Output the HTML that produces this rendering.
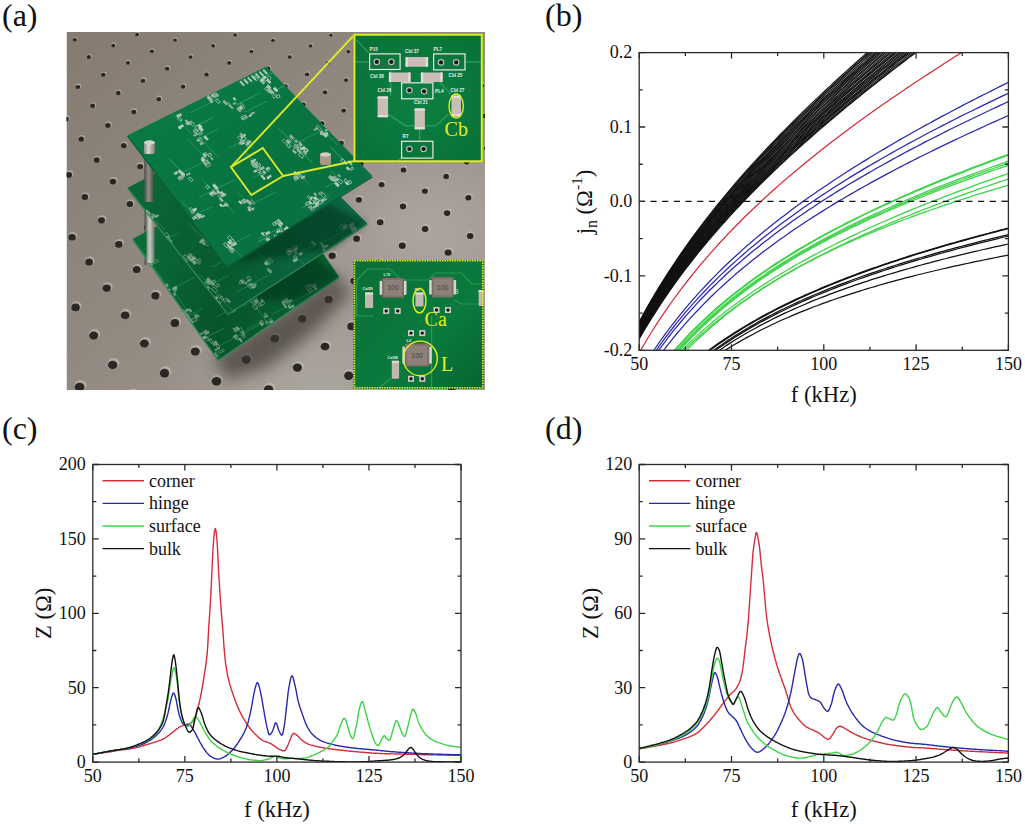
<!DOCTYPE html>
<html><head><meta charset="utf-8"><title>Figure</title>
<style>html,body{margin:0;padding:0;background:#fff;width:1025px;height:824px;overflow:hidden}svg{display:block}</style>
</head><body>
<svg width="1025" height="824" viewBox="0 0 1025 824" font-family='"Liberation Serif", serif' fill="#111">
<defs>
<clipPath id="clipb"><rect x="639.2" y="52.6" width="369.19999999999993" height="297.7"/></clipPath>
<clipPath id="clipc"><rect x="92.8" y="464.5" width="368.2" height="297.6"/></clipPath>
<clipPath id="clipd"><rect x="639.2" y="464.5" width="369.19999999999993" height="297.6"/></clipPath>
</defs>
<rect width="1025" height="824" fill="#fff"/>
<defs>
<clipPath id="clipa"><rect x="66.5" y="32" width="418.5" height="358"/></clipPath>
<filter id="blur3" x="-20%" y="-20%" width="140%" height="140%"><feGaussianBlur stdDeviation="3"/></filter>
<filter id="blur8" x="-30%" y="-30%" width="160%" height="160%"><feGaussianBlur stdDeviation="8"/></filter>
<filter id="blur1" x="-20%" y="-20%" width="140%" height="140%"><feGaussianBlur stdDeviation="0.6"/></filter>
<linearGradient id="tbl" x1="0" y1="0" x2="1" y2="1"><stop offset="0" stop-color="#857b71"/><stop offset="0.45" stop-color="#918980"/><stop offset="1" stop-color="#a59d96"/></linearGradient>
<radialGradient id="tblhi" cx="0.6" cy="1.0" r="0.38"><stop offset="0" stop-color="#b0aca6" stop-opacity="0.7"/><stop offset="1" stop-color="#b0aca6" stop-opacity="0"/></radialGradient><radialGradient id="tblhi2" cx="0.85" cy="0.55" r="0.35"><stop offset="0" stop-color="#b5aca7" stop-opacity="0.7"/><stop offset="1" stop-color="#b5aca7" stop-opacity="0"/></radialGradient>
<linearGradient id="b1" x1="0" y1="0" x2="1" y2="1"><stop offset="0" stop-color="#0a7c44"/><stop offset="0.6" stop-color="#08723f"/><stop offset="1" stop-color="#0a704c"/></linearGradient>
<linearGradient id="b2" x1="0" y1="0" x2="1" y2="0.3"><stop offset="0" stop-color="#0b6b37"/><stop offset="0.6" stop-color="#075a2d"/><stop offset="1" stop-color="#0b6a48"/></linearGradient>
<linearGradient id="b3" x1="0" y1="0" x2="1" y2="0.3"><stop offset="0" stop-color="#0c733b"/><stop offset="0.6" stop-color="#06552a"/><stop offset="1" stop-color="#096033"/></linearGradient>
<linearGradient id="postd" x1="0" y1="0" x2="1" y2="0"><stop offset="0" stop-color="#4f524b"/><stop offset="0.45" stop-color="#8d8f86"/><stop offset="1" stop-color="#4a4c46"/></linearGradient><linearGradient id="post" x1="0" y1="0" x2="1" y2="0"><stop offset="0" stop-color="#8d8c86"/><stop offset="0.4" stop-color="#d8d6cf"/><stop offset="1" stop-color="#7a7872"/></linearGradient>
</defs>
<g clip-path="url(#clipa)">
<rect x="66.5" y="32" width="418.5" height="358" fill="url(#tbl)"/>
<rect x="66.5" y="32" width="418.5" height="358" fill="url(#tblhi)"/>
<rect x="66.5" y="32" width="418.5" height="358" fill="url(#tblhi2)"/>
<g><ellipse cx="61.9" cy="355.0" rx="5.8" ry="5.0" fill="#c4bfb7" opacity="0.6"/><ellipse cx="61.0" cy="356.7" rx="4.7" ry="4.2" fill="#2a2623"/><ellipse cx="80.6" cy="385.3" rx="6.1" ry="5.3" fill="#c4bfb7" opacity="0.6"/><ellipse cx="79.6" cy="387.1" rx="4.9" ry="4.4" fill="#2a2623"/><ellipse cx="76.4" cy="305.9" rx="5.3" ry="4.6" fill="#c4bfb7" opacity="0.6"/><ellipse cx="75.6" cy="307.4" rx="4.2" ry="3.8" fill="#2a2623"/><ellipse cx="94.6" cy="333.9" rx="5.6" ry="4.8" fill="#c4bfb7" opacity="0.6"/><ellipse cx="93.7" cy="335.5" rx="4.5" ry="4.0" fill="#2a2623"/><ellipse cx="113.6" cy="363.2" rx="5.9" ry="5.1" fill="#c4bfb7" opacity="0.6"/><ellipse cx="112.7" cy="364.9" rx="4.7" ry="4.2" fill="#2a2623"/><ellipse cx="133.5" cy="393.7" rx="6.2" ry="5.3" fill="#c4bfb7" opacity="0.6"/><ellipse cx="132.5" cy="395.5" rx="4.9" ry="4.4" fill="#2a2623"/><ellipse cx="72.8" cy="235.8" rx="4.6" ry="3.9" fill="#c4bfb7" opacity="0.6"/><ellipse cx="72.1" cy="237.2" rx="3.7" ry="3.3" fill="#2a2623"/><ellipse cx="89.8" cy="260.7" rx="4.8" ry="4.2" fill="#c4bfb7" opacity="0.6"/><ellipse cx="89.1" cy="262.1" rx="3.8" ry="3.5" fill="#2a2623"/><ellipse cx="107.6" cy="286.6" rx="5.1" ry="4.4" fill="#c4bfb7" opacity="0.6"/><ellipse cx="106.7" cy="288.1" rx="4.1" ry="3.6" fill="#2a2623"/><ellipse cx="126.0" cy="313.7" rx="5.3" ry="4.6" fill="#c4bfb7" opacity="0.6"/><ellipse cx="125.2" cy="315.2" rx="4.3" ry="3.8" fill="#2a2623"/><ellipse cx="145.3" cy="341.9" rx="5.6" ry="4.9" fill="#c4bfb7" opacity="0.6"/><ellipse cx="144.4" cy="343.5" rx="4.5" ry="4.0" fill="#2a2623"/><ellipse cx="165.5" cy="371.4" rx="5.9" ry="5.1" fill="#c4bfb7" opacity="0.6"/><ellipse cx="164.5" cy="373.1" rx="4.7" ry="4.3" fill="#2a2623"/><ellipse cx="69.5" cy="173.7" rx="3.9" ry="3.4" fill="#c4bfb7" opacity="0.6"/><ellipse cx="68.9" cy="174.9" rx="3.1" ry="2.8" fill="#2a2623"/><ellipse cx="85.6" cy="196.0" rx="4.1" ry="3.6" fill="#c4bfb7" opacity="0.6"/><ellipse cx="84.9" cy="197.1" rx="3.3" ry="3.0" fill="#2a2623"/><ellipse cx="102.2" cy="219.0" rx="4.4" ry="3.8" fill="#c4bfb7" opacity="0.6"/><ellipse cx="101.5" cy="220.3" rx="3.5" ry="3.1" fill="#2a2623"/><ellipse cx="119.5" cy="243.0" rx="4.6" ry="4.0" fill="#c4bfb7" opacity="0.6"/><ellipse cx="118.8" cy="244.4" rx="3.7" ry="3.3" fill="#2a2623"/><ellipse cx="137.5" cy="268.1" rx="4.8" ry="4.2" fill="#c4bfb7" opacity="0.6"/><ellipse cx="136.7" cy="269.5" rx="3.9" ry="3.5" fill="#2a2623"/><ellipse cx="156.2" cy="294.2" rx="5.1" ry="4.4" fill="#c4bfb7" opacity="0.6"/><ellipse cx="155.4" cy="295.7" rx="4.1" ry="3.7" fill="#2a2623"/><ellipse cx="175.8" cy="321.5" rx="5.4" ry="4.6" fill="#c4bfb7" opacity="0.6"/><ellipse cx="174.9" cy="323.0" rx="4.3" ry="3.9" fill="#2a2623"/><ellipse cx="196.2" cy="349.9" rx="5.7" ry="4.9" fill="#c4bfb7" opacity="0.6"/><ellipse cx="195.3" cy="351.5" rx="4.5" ry="4.1" fill="#2a2623"/><ellipse cx="217.4" cy="379.6" rx="5.9" ry="5.1" fill="#c4bfb7" opacity="0.6"/><ellipse cx="216.5" cy="381.3" rx="4.8" ry="4.3" fill="#2a2623"/><ellipse cx="66.6" cy="118.1" rx="3.3" ry="2.9" fill="#c4bfb7" opacity="0.6"/><ellipse cx="66.1" cy="119.1" rx="2.7" ry="2.4" fill="#2a2623"/><ellipse cx="81.7" cy="138.1" rx="3.5" ry="3.0" fill="#c4bfb7" opacity="0.6"/><ellipse cx="81.2" cy="139.1" rx="2.8" ry="2.5" fill="#2a2623"/><ellipse cx="97.4" cy="158.9" rx="3.7" ry="3.2" fill="#c4bfb7" opacity="0.6"/><ellipse cx="96.8" cy="160.0" rx="3.0" ry="2.7" fill="#2a2623"/><ellipse cx="113.7" cy="180.5" rx="3.9" ry="3.4" fill="#c4bfb7" opacity="0.6"/><ellipse cx="113.0" cy="181.6" rx="3.2" ry="2.8" fill="#2a2623"/><ellipse cx="130.6" cy="202.8" rx="4.2" ry="3.6" fill="#c4bfb7" opacity="0.6"/><ellipse cx="129.9" cy="204.0" rx="3.3" ry="3.0" fill="#2a2623"/><ellipse cx="148.1" cy="226.1" rx="4.4" ry="3.8" fill="#c4bfb7" opacity="0.6"/><ellipse cx="147.4" cy="227.3" rx="3.5" ry="3.2" fill="#2a2623"/><ellipse cx="166.3" cy="250.2" rx="4.6" ry="4.0" fill="#c4bfb7" opacity="0.6"/><ellipse cx="165.6" cy="251.6" rx="3.7" ry="3.3" fill="#2a2623"/><ellipse cx="185.3" cy="275.5" rx="4.9" ry="4.2" fill="#c4bfb7" opacity="0.6"/><ellipse cx="184.5" cy="276.9" rx="3.9" ry="3.5" fill="#2a2623"/><ellipse cx="205.1" cy="301.9" rx="5.1" ry="4.4" fill="#c4bfb7" opacity="0.6"/><ellipse cx="204.2" cy="303.3" rx="4.1" ry="3.7" fill="#2a2623"/><ellipse cx="225.7" cy="329.3" rx="5.4" ry="4.7" fill="#c4bfb7" opacity="0.6"/><ellipse cx="224.8" cy="330.9" rx="4.3" ry="3.9" fill="#2a2623"/><ellipse cx="247.2" cy="357.9" rx="5.7" ry="4.9" fill="#c4bfb7" opacity="0.6"/><ellipse cx="246.2" cy="359.6" rx="4.6" ry="4.1" fill="#2a2623"/><ellipse cx="269.6" cy="387.8" rx="6.0" ry="5.2" fill="#c4bfb7" opacity="0.6"/><ellipse cx="268.6" cy="389.6" rx="4.8" ry="4.3" fill="#2a2623"/><ellipse cx="64.0" cy="68.0" rx="2.8" ry="2.4" fill="#c4bfb7" opacity="0.6"/><ellipse cx="63.6" cy="68.8" rx="2.2" ry="2.0" fill="#2a2623"/><ellipse cx="78.3" cy="86.1" rx="3.0" ry="2.6" fill="#c4bfb7" opacity="0.6"/><ellipse cx="77.8" cy="87.0" rx="2.4" ry="2.1" fill="#2a2623"/><ellipse cx="93.1" cy="104.9" rx="3.2" ry="2.7" fill="#c4bfb7" opacity="0.6"/><ellipse cx="92.6" cy="105.8" rx="2.5" ry="2.3" fill="#2a2623"/><ellipse cx="108.5" cy="124.4" rx="3.4" ry="2.9" fill="#c4bfb7" opacity="0.6"/><ellipse cx="107.9" cy="125.4" rx="2.7" ry="2.4" fill="#2a2623"/><ellipse cx="124.3" cy="144.6" rx="3.5" ry="3.1" fill="#c4bfb7" opacity="0.6"/><ellipse cx="123.8" cy="145.6" rx="2.8" ry="2.6" fill="#2a2623"/><ellipse cx="140.8" cy="165.5" rx="3.8" ry="3.2" fill="#c4bfb7" opacity="0.6"/><ellipse cx="140.2" cy="166.6" rx="3.0" ry="2.7" fill="#2a2623"/><ellipse cx="157.9" cy="187.2" rx="4.0" ry="3.4" fill="#c4bfb7" opacity="0.6"/><ellipse cx="157.3" cy="188.3" rx="3.2" ry="2.9" fill="#2a2623"/><ellipse cx="175.7" cy="209.7" rx="4.2" ry="3.6" fill="#c4bfb7" opacity="0.6"/><ellipse cx="175.0" cy="210.9" rx="3.4" ry="3.0" fill="#2a2623"/><ellipse cx="194.1" cy="233.1" rx="4.4" ry="3.8" fill="#c4bfb7" opacity="0.6"/><ellipse cx="193.4" cy="234.4" rx="3.5" ry="3.2" fill="#2a2623"/><ellipse cx="213.3" cy="257.5" rx="4.7" ry="4.0" fill="#c4bfb7" opacity="0.6"/><ellipse cx="212.5" cy="258.8" rx="3.7" ry="3.4" fill="#2a2623"/><ellipse cx="233.2" cy="283.0" rx="4.9" ry="4.2" fill="#c4bfb7" opacity="0.6"/><ellipse cx="232.5" cy="284.4" rx="3.9" ry="3.5" fill="#2a2623"/><ellipse cx="254.0" cy="309.5" rx="5.2" ry="4.5" fill="#c4bfb7" opacity="0.6"/><ellipse cx="253.2" cy="311.0" rx="4.1" ry="3.7" fill="#2a2623"/><ellipse cx="275.7" cy="337.2" rx="5.4" ry="4.7" fill="#c4bfb7" opacity="0.6"/><ellipse cx="274.8" cy="338.7" rx="4.4" ry="3.9" fill="#2a2623"/><ellipse cx="298.3" cy="366.0" rx="5.7" ry="5.0" fill="#c4bfb7" opacity="0.6"/><ellipse cx="297.4" cy="367.7" rx="4.6" ry="4.1" fill="#2a2623"/><ellipse cx="321.9" cy="396.1" rx="6.0" ry="5.2" fill="#c4bfb7" opacity="0.6"/><ellipse cx="320.9" cy="397.9" rx="4.8" ry="4.3" fill="#2a2623"/><ellipse cx="75.2" cy="39.1" rx="2.5" ry="2.1" fill="#c4bfb7" opacity="0.6"/><ellipse cx="74.8" cy="39.8" rx="2.0" ry="1.8" fill="#2a2623"/><ellipse cx="89.2" cy="56.2" rx="2.6" ry="2.3" fill="#c4bfb7" opacity="0.6"/><ellipse cx="88.8" cy="57.0" rx="2.1" ry="1.9" fill="#2a2623"/><ellipse cx="103.8" cy="73.9" rx="2.8" ry="2.4" fill="#c4bfb7" opacity="0.6"/><ellipse cx="103.3" cy="74.7" rx="2.3" ry="2.0" fill="#2a2623"/><ellipse cx="118.8" cy="92.2" rx="3.0" ry="2.6" fill="#c4bfb7" opacity="0.6"/><ellipse cx="118.3" cy="93.0" rx="2.4" ry="2.2" fill="#2a2623"/><ellipse cx="134.3" cy="111.1" rx="3.2" ry="2.8" fill="#c4bfb7" opacity="0.6"/><ellipse cx="133.8" cy="112.0" rx="2.5" ry="2.3" fill="#2a2623"/><ellipse cx="150.4" cy="130.7" rx="3.4" ry="2.9" fill="#c4bfb7" opacity="0.6"/><ellipse cx="149.8" cy="131.7" rx="2.7" ry="2.4" fill="#2a2623"/><ellipse cx="167.1" cy="151.0" rx="3.6" ry="3.1" fill="#c4bfb7" opacity="0.6"/><ellipse cx="166.5" cy="152.0" rx="2.9" ry="2.6" fill="#2a2623"/><ellipse cx="184.3" cy="172.1" rx="3.8" ry="3.3" fill="#c4bfb7" opacity="0.6"/><ellipse cx="183.7" cy="173.2" rx="3.0" ry="2.7" fill="#2a2623"/><ellipse cx="202.3" cy="193.9" rx="4.0" ry="3.5" fill="#c4bfb7" opacity="0.6"/><ellipse cx="201.6" cy="195.1" rx="3.2" ry="2.9" fill="#2a2623"/><ellipse cx="220.9" cy="216.6" rx="4.2" ry="3.6" fill="#c4bfb7" opacity="0.6"/><ellipse cx="220.2" cy="217.8" rx="3.4" ry="3.0" fill="#2a2623"/><ellipse cx="240.3" cy="240.2" rx="4.5" ry="3.8" fill="#c4bfb7" opacity="0.6"/><ellipse cx="239.5" cy="241.5" rx="3.6" ry="3.2" fill="#2a2623"/><ellipse cx="260.4" cy="264.8" rx="4.7" ry="4.1" fill="#c4bfb7" opacity="0.6"/><ellipse cx="259.6" cy="266.1" rx="3.8" ry="3.4" fill="#2a2623"/><ellipse cx="281.3" cy="290.4" rx="4.9" ry="4.3" fill="#c4bfb7" opacity="0.6"/><ellipse cx="280.5" cy="291.9" rx="4.0" ry="3.6" fill="#2a2623"/><ellipse cx="303.1" cy="317.2" rx="5.2" ry="4.5" fill="#c4bfb7" opacity="0.6"/><ellipse cx="302.3" cy="318.7" rx="4.2" ry="3.7" fill="#2a2623"/><ellipse cx="325.9" cy="345.0" rx="5.5" ry="4.7" fill="#c4bfb7" opacity="0.6"/><ellipse cx="325.0" cy="346.6" rx="4.4" ry="3.9" fill="#2a2623"/><ellipse cx="349.6" cy="374.1" rx="5.8" ry="5.0" fill="#c4bfb7" opacity="0.6"/><ellipse cx="348.7" cy="375.7" rx="4.6" ry="4.2" fill="#2a2623"/><ellipse cx="99.5" cy="28.2" rx="2.3" ry="2.0" fill="#c4bfb7" opacity="0.6"/><ellipse cx="99.1" cy="28.8" rx="1.9" ry="1.7" fill="#2a2623"/><ellipse cx="113.7" cy="44.8" rx="2.5" ry="2.2" fill="#c4bfb7" opacity="0.6"/><ellipse cx="113.3" cy="45.6" rx="2.0" ry="1.8" fill="#2a2623"/><ellipse cx="128.4" cy="62.0" rx="2.7" ry="2.3" fill="#c4bfb7" opacity="0.6"/><ellipse cx="128.0" cy="62.8" rx="2.1" ry="1.9" fill="#2a2623"/><ellipse cx="143.6" cy="79.8" rx="2.8" ry="2.5" fill="#c4bfb7" opacity="0.6"/><ellipse cx="143.1" cy="80.7" rx="2.3" ry="2.0" fill="#2a2623"/><ellipse cx="159.3" cy="98.2" rx="3.0" ry="2.6" fill="#c4bfb7" opacity="0.6"/><ellipse cx="158.8" cy="99.1" rx="2.4" ry="2.2" fill="#2a2623"/><ellipse cx="175.6" cy="117.3" rx="3.2" ry="2.8" fill="#c4bfb7" opacity="0.6"/><ellipse cx="175.1" cy="118.2" rx="2.6" ry="2.3" fill="#2a2623"/><ellipse cx="192.4" cy="137.0" rx="3.4" ry="2.9" fill="#c4bfb7" opacity="0.6"/><ellipse cx="191.9" cy="138.0" rx="2.7" ry="2.4" fill="#2a2623"/><ellipse cx="209.9" cy="157.5" rx="3.6" ry="3.1" fill="#c4bfb7" opacity="0.6"/><ellipse cx="209.3" cy="158.5" rx="2.9" ry="2.6" fill="#2a2623"/><ellipse cx="228.0" cy="178.7" rx="3.8" ry="3.3" fill="#c4bfb7" opacity="0.6"/><ellipse cx="227.4" cy="179.8" rx="3.0" ry="2.7" fill="#2a2623"/><ellipse cx="246.7" cy="200.7" rx="4.0" ry="3.5" fill="#c4bfb7" opacity="0.6"/><ellipse cx="246.1" cy="201.9" rx="3.2" ry="2.9" fill="#2a2623"/><ellipse cx="266.3" cy="223.5" rx="4.2" ry="3.7" fill="#c4bfb7" opacity="0.6"/><ellipse cx="265.6" cy="224.8" rx="3.4" ry="3.1" fill="#2a2623"/><ellipse cx="286.5" cy="247.3" rx="4.5" ry="3.9" fill="#c4bfb7" opacity="0.6"/><ellipse cx="285.8" cy="248.6" rx="3.6" ry="3.2" fill="#2a2623"/><ellipse cx="307.6" cy="272.1" rx="4.7" ry="4.1" fill="#c4bfb7" opacity="0.6"/><ellipse cx="306.8" cy="273.5" rx="3.8" ry="3.4" fill="#2a2623"/><ellipse cx="329.5" cy="297.9" rx="5.0" ry="4.3" fill="#c4bfb7" opacity="0.6"/><ellipse cx="328.7" cy="299.4" rx="4.0" ry="3.6" fill="#2a2623"/><ellipse cx="352.4" cy="324.9" rx="5.2" ry="4.5" fill="#c4bfb7" opacity="0.6"/><ellipse cx="351.5" cy="326.4" rx="4.2" ry="3.8" fill="#2a2623"/><ellipse cx="376.2" cy="352.9" rx="5.5" ry="4.8" fill="#c4bfb7" opacity="0.6"/><ellipse cx="375.3" cy="354.5" rx="4.4" ry="4.0" fill="#2a2623"/><ellipse cx="401.0" cy="382.2" rx="5.8" ry="5.0" fill="#c4bfb7" opacity="0.6"/><ellipse cx="400.1" cy="383.9" rx="4.6" ry="4.2" fill="#2a2623"/><ellipse cx="137.5" cy="33.8" rx="2.4" ry="2.0" fill="#c4bfb7" opacity="0.6"/><ellipse cx="137.1" cy="34.5" rx="1.9" ry="1.7" fill="#2a2623"/><ellipse cx="152.3" cy="50.6" rx="2.5" ry="2.2" fill="#c4bfb7" opacity="0.6"/><ellipse cx="151.9" cy="51.3" rx="2.0" ry="1.8" fill="#2a2623"/><ellipse cx="167.7" cy="67.9" rx="2.7" ry="2.3" fill="#c4bfb7" opacity="0.6"/><ellipse cx="167.2" cy="68.7" rx="2.2" ry="1.9" fill="#2a2623"/><ellipse cx="183.5" cy="85.8" rx="2.9" ry="2.5" fill="#c4bfb7" opacity="0.6"/><ellipse cx="183.1" cy="86.6" rx="2.3" ry="2.1" fill="#2a2623"/><ellipse cx="200.0" cy="104.3" rx="3.0" ry="2.6" fill="#c4bfb7" opacity="0.6"/><ellipse cx="199.5" cy="105.2" rx="2.4" ry="2.2" fill="#2a2623"/><ellipse cx="216.9" cy="123.5" rx="3.2" ry="2.8" fill="#c4bfb7" opacity="0.6"/><ellipse cx="216.4" cy="124.4" rx="2.6" ry="2.3" fill="#2a2623"/><ellipse cx="234.5" cy="143.4" rx="3.4" ry="3.0" fill="#c4bfb7" opacity="0.6"/><ellipse cx="234.0" cy="144.4" rx="2.7" ry="2.5" fill="#2a2623"/><ellipse cx="252.8" cy="164.0" rx="3.6" ry="3.1" fill="#c4bfb7" opacity="0.6"/><ellipse cx="252.2" cy="165.0" rx="2.9" ry="2.6" fill="#2a2623"/><ellipse cx="271.7" cy="185.3" rx="3.8" ry="3.3" fill="#c4bfb7" opacity="0.6"/><ellipse cx="271.1" cy="186.4" rx="3.1" ry="2.8" fill="#2a2623"/><ellipse cx="291.3" cy="207.5" rx="4.1" ry="3.5" fill="#c4bfb7" opacity="0.6"/><ellipse cx="290.7" cy="208.6" rx="3.2" ry="2.9" fill="#2a2623"/><ellipse cx="311.7" cy="230.5" rx="4.3" ry="3.7" fill="#c4bfb7" opacity="0.6"/><ellipse cx="311.0" cy="231.7" rx="3.4" ry="3.1" fill="#2a2623"/><ellipse cx="332.9" cy="254.4" rx="4.5" ry="3.9" fill="#c4bfb7" opacity="0.6"/><ellipse cx="332.2" cy="255.7" rx="3.6" ry="3.3" fill="#2a2623"/><ellipse cx="354.9" cy="279.4" rx="4.8" ry="4.1" fill="#c4bfb7" opacity="0.6"/><ellipse cx="354.2" cy="280.8" rx="3.8" ry="3.4" fill="#2a2623"/><ellipse cx="377.9" cy="305.4" rx="5.0" ry="4.3" fill="#c4bfb7" opacity="0.6"/><ellipse cx="377.1" cy="306.9" rx="4.0" ry="3.6" fill="#2a2623"/><ellipse cx="401.8" cy="332.6" rx="5.3" ry="4.6" fill="#c4bfb7" opacity="0.6"/><ellipse cx="400.9" cy="334.1" rx="4.2" ry="3.8" fill="#2a2623"/><ellipse cx="426.7" cy="360.8" rx="5.6" ry="4.8" fill="#c4bfb7" opacity="0.6"/><ellipse cx="425.8" cy="362.4" rx="4.4" ry="4.0" fill="#2a2623"/><ellipse cx="452.6" cy="390.3" rx="5.8" ry="5.1" fill="#c4bfb7" opacity="0.6"/><ellipse cx="451.7" cy="392.0" rx="4.7" ry="4.2" fill="#2a2623"/><ellipse cx="175.5" cy="39.4" rx="2.4" ry="2.1" fill="#c4bfb7" opacity="0.6"/><ellipse cx="175.1" cy="40.1" rx="1.9" ry="1.7" fill="#2a2623"/><ellipse cx="191.0" cy="56.3" rx="2.5" ry="2.2" fill="#c4bfb7" opacity="0.6"/><ellipse cx="190.6" cy="57.0" rx="2.0" ry="1.8" fill="#2a2623"/><ellipse cx="207.0" cy="73.7" rx="2.7" ry="2.3" fill="#c4bfb7" opacity="0.6"/><ellipse cx="206.6" cy="74.5" rx="2.2" ry="2.0" fill="#2a2623"/><ellipse cx="223.6" cy="91.8" rx="2.9" ry="2.5" fill="#c4bfb7" opacity="0.6"/><ellipse cx="223.1" cy="92.6" rx="2.3" ry="2.1" fill="#2a2623"/><ellipse cx="240.7" cy="110.4" rx="3.1" ry="2.7" fill="#c4bfb7" opacity="0.6"/><ellipse cx="240.2" cy="111.3" rx="2.5" ry="2.2" fill="#2a2623"/><ellipse cx="258.4" cy="129.7" rx="3.3" ry="2.8" fill="#c4bfb7" opacity="0.6"/><ellipse cx="257.9" cy="130.7" rx="2.6" ry="2.3" fill="#2a2623"/><ellipse cx="276.8" cy="149.7" rx="3.5" ry="3.0" fill="#c4bfb7" opacity="0.6"/><ellipse cx="276.2" cy="150.7" rx="2.8" ry="2.5" fill="#2a2623"/><ellipse cx="295.8" cy="170.5" rx="3.7" ry="3.2" fill="#c4bfb7" opacity="0.6"/><ellipse cx="295.2" cy="171.5" rx="2.9" ry="2.6" fill="#2a2623"/><ellipse cx="315.6" cy="192.0" rx="3.9" ry="3.3" fill="#c4bfb7" opacity="0.6"/><ellipse cx="314.9" cy="193.1" rx="3.1" ry="2.8" fill="#2a2623"/><ellipse cx="336.0" cy="214.3" rx="4.1" ry="3.5" fill="#c4bfb7" opacity="0.6"/><ellipse cx="335.4" cy="215.5" rx="3.3" ry="2.9" fill="#2a2623"/><ellipse cx="357.3" cy="237.5" rx="4.3" ry="3.7" fill="#c4bfb7" opacity="0.6"/><ellipse cx="356.6" cy="238.7" rx="3.4" ry="3.1" fill="#2a2623"/><ellipse cx="379.4" cy="261.6" rx="4.5" ry="3.9" fill="#c4bfb7" opacity="0.6"/><ellipse cx="378.7" cy="262.9" rx="3.6" ry="3.3" fill="#2a2623"/><ellipse cx="402.4" cy="286.8" rx="4.8" ry="4.1" fill="#c4bfb7" opacity="0.6"/><ellipse cx="401.6" cy="288.2" rx="3.8" ry="3.4" fill="#2a2623"/><ellipse cx="426.3" cy="313.0" rx="5.0" ry="4.4" fill="#c4bfb7" opacity="0.6"/><ellipse cx="425.5" cy="314.4" rx="4.0" ry="3.6" fill="#2a2623"/><ellipse cx="451.3" cy="340.3" rx="5.3" ry="4.6" fill="#c4bfb7" opacity="0.6"/><ellipse cx="450.4" cy="341.8" rx="4.3" ry="3.8" fill="#2a2623"/><ellipse cx="477.3" cy="368.8" rx="5.6" ry="4.8" fill="#c4bfb7" opacity="0.6"/><ellipse cx="476.4" cy="370.4" rx="4.5" ry="4.0" fill="#2a2623"/><ellipse cx="198.0" cy="28.6" rx="2.2" ry="1.9" fill="#c4bfb7" opacity="0.6"/><ellipse cx="197.6" cy="29.2" rx="1.8" ry="1.6" fill="#2a2623"/><ellipse cx="213.6" cy="45.0" rx="2.4" ry="2.1" fill="#c4bfb7" opacity="0.6"/><ellipse cx="213.2" cy="45.7" rx="1.9" ry="1.7" fill="#2a2623"/><ellipse cx="229.8" cy="62.0" rx="2.6" ry="2.2" fill="#c4bfb7" opacity="0.6"/><ellipse cx="229.3" cy="62.8" rx="2.1" ry="1.9" fill="#2a2623"/><ellipse cx="246.4" cy="79.6" rx="2.7" ry="2.4" fill="#c4bfb7" opacity="0.6"/><ellipse cx="246.0" cy="80.4" rx="2.2" ry="2.0" fill="#2a2623"/><ellipse cx="263.7" cy="97.7" rx="2.9" ry="2.5" fill="#c4bfb7" opacity="0.6"/><ellipse cx="263.2" cy="98.6" rx="2.3" ry="2.1" fill="#2a2623"/><ellipse cx="281.5" cy="116.5" rx="3.1" ry="2.7" fill="#c4bfb7" opacity="0.6"/><ellipse cx="281.0" cy="117.4" rx="2.5" ry="2.2" fill="#2a2623"/><ellipse cx="300.0" cy="136.0" rx="3.3" ry="2.8" fill="#c4bfb7" opacity="0.6"/><ellipse cx="299.5" cy="136.9" rx="2.6" ry="2.4" fill="#2a2623"/><ellipse cx="319.1" cy="156.1" rx="3.5" ry="3.0" fill="#c4bfb7" opacity="0.6"/><ellipse cx="318.6" cy="157.1" rx="2.8" ry="2.5" fill="#2a2623"/><ellipse cx="339.0" cy="177.0" rx="3.7" ry="3.2" fill="#c4bfb7" opacity="0.6"/><ellipse cx="338.4" cy="178.0" rx="2.9" ry="2.7" fill="#2a2623"/><ellipse cx="359.5" cy="198.6" rx="3.9" ry="3.4" fill="#c4bfb7" opacity="0.6"/><ellipse cx="358.9" cy="199.8" rx="3.1" ry="2.8" fill="#2a2623"/><ellipse cx="380.9" cy="221.1" rx="4.1" ry="3.6" fill="#c4bfb7" opacity="0.6"/><ellipse cx="380.2" cy="222.3" rx="3.3" ry="3.0" fill="#2a2623"/><ellipse cx="403.0" cy="244.4" rx="4.3" ry="3.8" fill="#c4bfb7" opacity="0.6"/><ellipse cx="402.3" cy="245.7" rx="3.5" ry="3.1" fill="#2a2623"/><ellipse cx="426.1" cy="268.8" rx="4.6" ry="4.0" fill="#c4bfb7" opacity="0.6"/><ellipse cx="425.3" cy="270.1" rx="3.7" ry="3.3" fill="#2a2623"/><ellipse cx="450.0" cy="294.1" rx="4.8" ry="4.2" fill="#c4bfb7" opacity="0.6"/><ellipse cx="449.2" cy="295.5" rx="3.9" ry="3.5" fill="#2a2623"/><ellipse cx="475.0" cy="320.5" rx="5.1" ry="4.4" fill="#c4bfb7" opacity="0.6"/><ellipse cx="474.1" cy="322.0" rx="4.1" ry="3.7" fill="#2a2623"/><ellipse cx="235.6" cy="34.1" rx="2.3" ry="2.0" fill="#c4bfb7" opacity="0.6"/><ellipse cx="235.2" cy="34.8" rx="1.8" ry="1.6" fill="#2a2623"/><ellipse cx="251.8" cy="50.7" rx="2.4" ry="2.1" fill="#c4bfb7" opacity="0.6"/><ellipse cx="251.4" cy="51.4" rx="1.9" ry="1.7" fill="#2a2623"/><ellipse cx="268.6" cy="67.8" rx="2.6" ry="2.2" fill="#c4bfb7" opacity="0.6"/><ellipse cx="268.2" cy="68.5" rx="2.1" ry="1.9" fill="#2a2623"/><ellipse cx="286.0" cy="85.5" rx="2.8" ry="2.4" fill="#c4bfb7" opacity="0.6"/><ellipse cx="285.5" cy="86.3" rx="2.2" ry="2.0" fill="#2a2623"/><ellipse cx="303.9" cy="103.7" rx="2.9" ry="2.5" fill="#c4bfb7" opacity="0.6"/><ellipse cx="303.4" cy="104.6" rx="2.4" ry="2.1" fill="#2a2623"/><ellipse cx="322.5" cy="122.6" rx="3.1" ry="2.7" fill="#c4bfb7" opacity="0.6"/><ellipse cx="322.0" cy="123.5" rx="2.5" ry="2.2" fill="#2a2623"/><ellipse cx="341.7" cy="142.2" rx="3.3" ry="2.9" fill="#c4bfb7" opacity="0.6"/><ellipse cx="341.1" cy="143.2" rx="2.6" ry="2.4" fill="#2a2623"/><ellipse cx="361.6" cy="162.5" rx="3.5" ry="3.0" fill="#c4bfb7" opacity="0.6"/><ellipse cx="361.0" cy="163.5" rx="2.8" ry="2.5" fill="#2a2623"/><ellipse cx="382.2" cy="183.5" rx="3.7" ry="3.2" fill="#c4bfb7" opacity="0.6"/><ellipse cx="381.6" cy="184.6" rx="3.0" ry="2.7" fill="#2a2623"/><ellipse cx="403.6" cy="205.3" rx="3.9" ry="3.4" fill="#c4bfb7" opacity="0.6"/><ellipse cx="403.0" cy="206.4" rx="3.1" ry="2.8" fill="#2a2623"/><ellipse cx="425.8" cy="227.9" rx="4.1" ry="3.6" fill="#c4bfb7" opacity="0.6"/><ellipse cx="425.1" cy="229.1" rx="3.3" ry="3.0" fill="#2a2623"/><ellipse cx="448.9" cy="251.4" rx="4.4" ry="3.8" fill="#c4bfb7" opacity="0.6"/><ellipse cx="448.2" cy="252.7" rx="3.5" ry="3.1" fill="#2a2623"/><ellipse cx="472.8" cy="276.0" rx="4.6" ry="4.0" fill="#c4bfb7" opacity="0.6"/><ellipse cx="472.1" cy="277.3" rx="3.7" ry="3.3" fill="#2a2623"/><ellipse cx="273.2" cy="39.7" rx="2.3" ry="2.0" fill="#c4bfb7" opacity="0.6"/><ellipse cx="272.9" cy="40.3" rx="1.8" ry="1.6" fill="#2a2623"/><ellipse cx="290.1" cy="56.3" rx="2.4" ry="2.1" fill="#c4bfb7" opacity="0.6"/><ellipse cx="289.7" cy="57.0" rx="2.0" ry="1.8" fill="#2a2623"/><ellipse cx="307.5" cy="73.6" rx="2.6" ry="2.3" fill="#c4bfb7" opacity="0.6"/><ellipse cx="307.1" cy="74.3" rx="2.1" ry="1.9" fill="#2a2623"/><ellipse cx="325.6" cy="91.4" rx="2.8" ry="2.4" fill="#c4bfb7" opacity="0.6"/><ellipse cx="325.1" cy="92.2" rx="2.2" ry="2.0" fill="#2a2623"/><ellipse cx="344.2" cy="109.8" rx="3.0" ry="2.6" fill="#c4bfb7" opacity="0.6"/><ellipse cx="343.7" cy="110.6" rx="2.4" ry="2.1" fill="#2a2623"/><ellipse cx="363.5" cy="128.8" rx="3.1" ry="2.7" fill="#c4bfb7" opacity="0.6"/><ellipse cx="363.0" cy="129.7" rx="2.5" ry="2.3" fill="#2a2623"/><ellipse cx="383.4" cy="148.5" rx="3.3" ry="2.9" fill="#c4bfb7" opacity="0.6"/><ellipse cx="382.9" cy="149.5" rx="2.7" ry="2.4" fill="#2a2623"/><ellipse cx="404.1" cy="168.9" rx="3.5" ry="3.1" fill="#c4bfb7" opacity="0.6"/><ellipse cx="403.5" cy="169.9" rx="2.8" ry="2.5" fill="#2a2623"/><ellipse cx="425.5" cy="190.1" rx="3.7" ry="3.2" fill="#c4bfb7" opacity="0.6"/><ellipse cx="424.9" cy="191.1" rx="3.0" ry="2.7" fill="#2a2623"/><ellipse cx="447.8" cy="212.0" rx="4.0" ry="3.4" fill="#c4bfb7" opacity="0.6"/><ellipse cx="447.1" cy="213.1" rx="3.2" ry="2.8" fill="#2a2623"/><ellipse cx="470.8" cy="234.8" rx="4.2" ry="3.6" fill="#c4bfb7" opacity="0.6"/><ellipse cx="470.2" cy="236.0" rx="3.3" ry="3.0" fill="#2a2623"/><ellipse cx="294.0" cy="29.0" rx="2.2" ry="1.9" fill="#c4bfb7" opacity="0.6"/><ellipse cx="293.7" cy="29.6" rx="1.7" ry="1.6" fill="#2a2623"/><ellipse cx="311.0" cy="45.2" rx="2.3" ry="2.0" fill="#c4bfb7" opacity="0.6"/><ellipse cx="310.6" cy="45.9" rx="1.8" ry="1.7" fill="#2a2623"/><ellipse cx="328.5" cy="62.0" rx="2.5" ry="2.1" fill="#c4bfb7" opacity="0.6"/><ellipse cx="328.1" cy="62.7" rx="2.0" ry="1.8" fill="#2a2623"/><ellipse cx="346.6" cy="79.3" rx="2.6" ry="2.3" fill="#c4bfb7" opacity="0.6"/><ellipse cx="346.1" cy="80.1" rx="2.1" ry="1.9" fill="#2a2623"/><ellipse cx="365.3" cy="97.3" rx="2.8" ry="2.4" fill="#c4bfb7" opacity="0.6"/><ellipse cx="364.8" cy="98.1" rx="2.2" ry="2.0" fill="#2a2623"/><ellipse cx="384.6" cy="115.8" rx="3.0" ry="2.6" fill="#c4bfb7" opacity="0.6"/><ellipse cx="384.1" cy="116.6" rx="2.4" ry="2.1" fill="#2a2623"/><ellipse cx="404.6" cy="134.9" rx="3.2" ry="2.7" fill="#c4bfb7" opacity="0.6"/><ellipse cx="404.1" cy="135.8" rx="2.5" ry="2.3" fill="#2a2623"/><ellipse cx="425.3" cy="154.8" rx="3.4" ry="2.9" fill="#c4bfb7" opacity="0.6"/><ellipse cx="424.8" cy="155.7" rx="2.7" ry="2.4" fill="#2a2623"/><ellipse cx="446.8" cy="175.3" rx="3.6" ry="3.1" fill="#c4bfb7" opacity="0.6"/><ellipse cx="446.2" cy="176.4" rx="2.8" ry="2.6" fill="#2a2623"/><ellipse cx="469.0" cy="196.6" rx="3.8" ry="3.3" fill="#c4bfb7" opacity="0.6"/><ellipse cx="468.4" cy="197.7" rx="3.0" ry="2.7" fill="#2a2623"/><ellipse cx="492.1" cy="218.7" rx="4.0" ry="3.4" fill="#c4bfb7" opacity="0.6"/><ellipse cx="491.4" cy="219.9" rx="3.2" ry="2.9" fill="#2a2623"/><ellipse cx="331.2" cy="34.5" rx="2.2" ry="1.9" fill="#c4bfb7" opacity="0.6"/><ellipse cx="330.9" cy="35.1" rx="1.7" ry="1.6" fill="#2a2623"/><ellipse cx="348.8" cy="50.8" rx="2.3" ry="2.0" fill="#c4bfb7" opacity="0.6"/><ellipse cx="348.4" cy="51.5" rx="1.9" ry="1.7" fill="#2a2623"/><ellipse cx="366.9" cy="67.7" rx="2.5" ry="2.2" fill="#c4bfb7" opacity="0.6"/><ellipse cx="366.5" cy="68.4" rx="2.0" ry="1.8" fill="#2a2623"/><ellipse cx="385.7" cy="85.1" rx="2.7" ry="2.3" fill="#c4bfb7" opacity="0.6"/><ellipse cx="385.3" cy="85.9" rx="2.1" ry="1.9" fill="#2a2623"/><ellipse cx="405.1" cy="103.2" rx="2.8" ry="2.4" fill="#c4bfb7" opacity="0.6"/><ellipse cx="404.6" cy="104.0" rx="2.3" ry="2.0" fill="#2a2623"/><ellipse cx="425.1" cy="121.8" rx="3.0" ry="2.6" fill="#c4bfb7" opacity="0.6"/><ellipse cx="424.6" cy="122.7" rx="2.4" ry="2.2" fill="#2a2623"/><ellipse cx="445.8" cy="141.1" rx="3.2" ry="2.8" fill="#c4bfb7" opacity="0.6"/><ellipse cx="445.3" cy="142.0" rx="2.6" ry="2.3" fill="#2a2623"/><ellipse cx="467.3" cy="161.1" rx="3.4" ry="2.9" fill="#c4bfb7" opacity="0.6"/><ellipse cx="466.7" cy="162.0" rx="2.7" ry="2.4" fill="#2a2623"/><ellipse cx="489.5" cy="181.8" rx="3.6" ry="3.1" fill="#c4bfb7" opacity="0.6"/><ellipse cx="488.9" cy="182.8" rx="2.9" ry="2.6" fill="#2a2623"/><ellipse cx="350.9" cy="24.0" rx="2.0" ry="1.8" fill="#c4bfb7" opacity="0.6"/><ellipse cx="350.6" cy="24.6" rx="1.6" ry="1.5" fill="#2a2623"/><ellipse cx="368.5" cy="39.9" rx="2.2" ry="1.9" fill="#c4bfb7" opacity="0.6"/><ellipse cx="368.2" cy="40.6" rx="1.8" ry="1.6" fill="#2a2623"/><ellipse cx="386.7" cy="56.4" rx="2.4" ry="2.0" fill="#c4bfb7" opacity="0.6"/><ellipse cx="386.3" cy="57.1" rx="1.9" ry="1.7" fill="#2a2623"/><ellipse cx="405.5" cy="73.4" rx="2.5" ry="2.2" fill="#c4bfb7" opacity="0.6"/><ellipse cx="405.1" cy="74.1" rx="2.0" ry="1.8" fill="#2a2623"/><ellipse cx="424.9" cy="91.0" rx="2.7" ry="2.3" fill="#c4bfb7" opacity="0.6"/><ellipse cx="424.5" cy="91.7" rx="2.1" ry="1.9" fill="#2a2623"/><ellipse cx="444.9" cy="109.1" rx="2.9" ry="2.5" fill="#c4bfb7" opacity="0.6"/><ellipse cx="444.5" cy="109.9" rx="2.3" ry="2.1" fill="#2a2623"/><ellipse cx="465.7" cy="127.9" rx="3.0" ry="2.6" fill="#c4bfb7" opacity="0.6"/><ellipse cx="465.2" cy="128.7" rx="2.4" ry="2.2" fill="#2a2623"/><ellipse cx="487.1" cy="147.3" rx="3.2" ry="2.8" fill="#c4bfb7" opacity="0.6"/><ellipse cx="486.6" cy="148.2" rx="2.6" ry="2.3" fill="#2a2623"/><ellipse cx="387.7" cy="29.4" rx="2.1" ry="1.8" fill="#c4bfb7" opacity="0.6"/><ellipse cx="387.3" cy="30.0" rx="1.6" ry="1.5" fill="#2a2623"/><ellipse cx="405.9" cy="45.4" rx="2.2" ry="1.9" fill="#c4bfb7" opacity="0.6"/><ellipse cx="405.5" cy="46.1" rx="1.8" ry="1.6" fill="#2a2623"/><ellipse cx="424.7" cy="62.0" rx="2.4" ry="2.0" fill="#c4bfb7" opacity="0.6"/><ellipse cx="424.3" cy="62.7" rx="1.9" ry="1.7" fill="#2a2623"/><ellipse cx="444.1" cy="79.1" rx="2.5" ry="2.2" fill="#c4bfb7" opacity="0.6"/><ellipse cx="443.7" cy="79.8" rx="2.0" ry="1.8" fill="#2a2623"/><ellipse cx="464.2" cy="96.8" rx="2.7" ry="2.3" fill="#c4bfb7" opacity="0.6"/><ellipse cx="463.7" cy="97.6" rx="2.2" ry="1.9" fill="#2a2623"/><ellipse cx="484.9" cy="115.0" rx="2.9" ry="2.5" fill="#c4bfb7" opacity="0.6"/><ellipse cx="484.5" cy="115.9" rx="2.3" ry="2.1" fill="#2a2623"/><ellipse cx="424.5" cy="34.8" rx="2.1" ry="1.8" fill="#c4bfb7" opacity="0.6"/><ellipse cx="424.2" cy="35.4" rx="1.7" ry="1.5" fill="#2a2623"/><ellipse cx="443.3" cy="50.9" rx="2.2" ry="1.9" fill="#c4bfb7" opacity="0.6"/><ellipse cx="443.0" cy="51.6" rx="1.8" ry="1.6" fill="#2a2623"/><ellipse cx="462.8" cy="67.6" rx="2.4" ry="2.1" fill="#c4bfb7" opacity="0.6"/><ellipse cx="462.4" cy="68.3" rx="1.9" ry="1.7" fill="#2a2623"/><ellipse cx="482.8" cy="84.8" rx="2.6" ry="2.2" fill="#c4bfb7" opacity="0.6"/><ellipse cx="482.4" cy="85.6" rx="2.0" ry="1.8" fill="#2a2623"/><ellipse cx="461.5" cy="40.2" rx="2.1" ry="1.8" fill="#c4bfb7" opacity="0.6"/><ellipse cx="461.1" cy="40.8" rx="1.7" ry="1.5" fill="#2a2623"/><ellipse cx="480.9" cy="56.5" rx="2.3" ry="1.9" fill="#c4bfb7" opacity="0.6"/><ellipse cx="480.5" cy="57.1" rx="1.8" ry="1.6" fill="#2a2623"/></g>
<g filter="url(#blur8)" opacity="0.68">
<polygon points="215.0,356.0 336.0,276.0 352.0,292.0 310.0,335.0 266.0,368.0 225.0,380.0" fill="#3a3632" />
</g>
<rect x="144.5" y="150" width="9" height="115" fill="url(#postd)"/>
<polygon points="266.0,170.0 339.2,277.0 218.1,359.9 132.7,238.8" fill="url(#b3)" />
<polyline points="132.7,239.6 218.1,360.7 339.2,277.8" fill="none" stroke="#2f8a56" stroke-width="1.3"/>
<clipPath id="cb3"><polygon points="266.0,170.0 339.2,277.0 218.1,359.9 132.7,238.8"/></clipPath><g clip-path="url(#cb3)" opacity="0.55"><line x1="150.0" y1="262.0" x2="141.7" y2="249.9" stroke="#2fa062" stroke-width="0.9"/><line x1="150.0" y1="262.0" x2="162.2" y2="279.9" stroke="#2fa062" stroke-width="0.9"/><line x1="170.0" y1="290.0" x2="195.2" y2="277.0" stroke="#2fa062" stroke-width="0.9"/><line x1="170.0" y1="290.0" x2="158.8" y2="273.7" stroke="#2fa062" stroke-width="0.9"/><line x1="190.0" y1="315.0" x2="177.6" y2="296.9" stroke="#2fa062" stroke-width="0.9"/><line x1="190.0" y1="315.0" x2="202.6" y2="308.5" stroke="#2fa062" stroke-width="0.9"/><line x1="205.0" y1="338.0" x2="225.0" y2="327.7" stroke="#2fa062" stroke-width="0.9"/><line x1="205.0" y1="338.0" x2="222.0" y2="329.2" stroke="#2fa062" stroke-width="0.9"/><line x1="215.0" y1="350.0" x2="230.5" y2="372.7" stroke="#2fa062" stroke-width="0.9"/><line x1="215.0" y1="350.0" x2="227.3" y2="367.9" stroke="#2fa062" stroke-width="0.9"/><line x1="240.0" y1="335.0" x2="261.6" y2="323.9" stroke="#2fa062" stroke-width="0.9"/><line x1="240.0" y1="335.0" x2="219.1" y2="345.8" stroke="#2fa062" stroke-width="0.9"/><line x1="265.0" y1="320.0" x2="251.0" y2="299.5" stroke="#2fa062" stroke-width="0.9"/><line x1="265.0" y1="320.0" x2="246.4" y2="329.6" stroke="#2fa062" stroke-width="0.9"/><line x1="290.0" y1="305.0" x2="271.9" y2="314.3" stroke="#2fa062" stroke-width="0.9"/><line x1="290.0" y1="305.0" x2="280.7" y2="291.4" stroke="#2fa062" stroke-width="0.9"/><line x1="315.0" y1="290.0" x2="300.4" y2="297.5" stroke="#2fa062" stroke-width="0.9"/><line x1="315.0" y1="290.0" x2="290.3" y2="302.7" stroke="#2fa062" stroke-width="0.9"/><line x1="230.0" y1="310.0" x2="213.3" y2="285.5" stroke="#2fa062" stroke-width="0.9"/><line x1="230.0" y1="310.0" x2="216.7" y2="316.9" stroke="#2fa062" stroke-width="0.9"/><line x1="255.0" y1="300.0" x2="243.3" y2="282.8" stroke="#2fa062" stroke-width="0.9"/><line x1="255.0" y1="300.0" x2="243.1" y2="306.1" stroke="#2fa062" stroke-width="0.9"/><rect x="148.4" y="263.6" width="4.4" height="2.3" fill="#d8e0d6" transform="rotate(153 150.6 264.7)"/><rect x="153.3" y="260.4" width="4.8" height="2.6" fill="none" stroke="#a9b8ab" stroke-width="0.8" transform="rotate(153 155.7 261.6)"/><rect x="145.9" y="260.4" width="3.1" height="2.4" fill="#c8d4c8" transform="rotate(56 147.4 261.5)"/><rect x="147.5" y="256.5" width="4.8" height="2.3" fill="none" stroke="#a9b8ab" stroke-width="0.8" transform="rotate(153 149.9 257.7)"/><rect x="146.5" y="260.3" width="5.2" height="2.8" fill="#d8e0d6" transform="rotate(153 149.1 261.7)"/><rect x="150.1" y="267.5" width="4.0" height="2.1" fill="none" stroke="#b8c6ba" stroke-width="0.8" transform="rotate(56 152.0 268.6)"/><rect x="145.8" y="257.8" width="4.5" height="2.1" fill="#a9b8ab" transform="rotate(56 148.0 258.8)"/><rect x="163.7" y="291.9" width="4.7" height="2.4" fill="#c8d4c8" transform="rotate(153 166.0 293.1)"/><rect x="166.1" y="295.4" width="4.7" height="2.5" fill="none" stroke="#a9b8ab" stroke-width="0.8" transform="rotate(56 168.4 296.6)"/><rect x="173.8" y="288.3" width="3.2" height="2.1" fill="#d8e0d6" transform="rotate(56 175.4 289.3)"/><rect x="164.0" y="284.3" width="4.3" height="2.9" fill="#c8d4c8" transform="rotate(153 166.2 285.7)"/><rect x="172.6" y="288.4" width="3.6" height="2.2" fill="none" stroke="#c8d4c8" stroke-width="0.8" transform="rotate(56 174.4 289.5)"/><rect x="163.0" y="291.2" width="4.2" height="2.2" fill="#d8e0d6" transform="rotate(56 165.2 292.3)"/><rect x="165.8" y="289.7" width="4.3" height="2.0" fill="none" stroke="#d8e0d6" stroke-width="0.8" transform="rotate(153 167.9 290.7)"/><rect x="172.9" y="286.6" width="4.3" height="3.0" fill="#d8e0d6" transform="rotate(153 175.0 288.1)"/><rect x="172.9" y="292.8" width="3.6" height="2.4" fill="#b8c6ba" transform="rotate(56 174.7 294.0)"/><rect x="187.8" y="321.0" width="5.0" height="2.8" fill="none" stroke="#b8c6ba" stroke-width="0.8" transform="rotate(153 190.3 322.4)"/><rect x="184.9" y="314.7" width="5.5" height="2.7" fill="#b8c6ba" transform="rotate(56 187.6 316.1)"/><rect x="191.5" y="318.5" width="5.3" height="3.0" fill="none" stroke="#d8e0d6" stroke-width="0.8" transform="rotate(153 194.1 320.0)"/><rect x="185.2" y="309.1" width="3.8" height="2.4" fill="#c8d4c8" transform="rotate(153 187.2 310.2)"/><rect x="186.6" y="317.0" width="3.2" height="2.6" fill="#b8c6ba" transform="rotate(153 188.2 318.3)"/><rect x="182.7" y="311.4" width="3.8" height="2.8" fill="#a9b8ab" transform="rotate(153 184.6 312.8)"/><rect x="194.4" y="314.2" width="3.4" height="3.0" fill="#a9b8ab" transform="rotate(56 196.1 315.7)"/><rect x="181.2" y="311.3" width="5.5" height="2.6" fill="none" stroke="#b8c6ba" stroke-width="0.8" transform="rotate(56 184.0 312.6)"/><rect x="188.5" y="318.3" width="3.3" height="2.7" fill="#b8c6ba" transform="rotate(56 190.1 319.6)"/><rect x="188.3" y="309.3" width="3.7" height="2.1" fill="#d8e0d6" transform="rotate(56 190.2 310.4)"/><rect x="194.6" y="315.2" width="4.8" height="2.9" fill="#a9b8ab" transform="rotate(153 197.0 316.6)"/><rect x="203.4" y="330.5" width="4.3" height="2.8" fill="#c8d4c8" transform="rotate(153 205.5 331.9)"/><rect x="203.5" y="331.1" width="4.5" height="1.9" fill="#a9b8ab" transform="rotate(56 205.8 332.1)"/><rect x="199.5" y="332.7" width="3.6" height="2.1" fill="#a9b8ab" transform="rotate(153 201.3 333.8)"/><rect x="200.9" y="341.9" width="4.1" height="2.5" fill="#b8c6ba" transform="rotate(56 202.9 343.1)"/><rect x="202.2" y="336.2" width="4.2" height="2.9" fill="#d8e0d6" transform="rotate(153 204.3 337.6)"/><rect x="209.0" y="339.9" width="4.1" height="2.3" fill="none" stroke="#d8e0d6" stroke-width="0.8" transform="rotate(56 211.1 341.0)"/><rect x="204.9" y="331.4" width="4.7" height="2.7" fill="#b8c6ba" transform="rotate(153 207.2 332.8)"/><rect x="205.6" y="338.0" width="3.6" height="2.0" fill="none" stroke="#c8d4c8" stroke-width="0.8" transform="rotate(56 207.5 339.0)"/><rect x="197.5" y="339.4" width="5.1" height="2.0" fill="none" stroke="#a9b8ab" stroke-width="0.8" transform="rotate(56 200.0 340.4)"/><rect x="216.0" y="345.1" width="3.9" height="2.2" fill="none" stroke="#c8d4c8" stroke-width="0.8" transform="rotate(56 217.9 346.2)"/><rect x="214.5" y="348.2" width="5.4" height="1.9" fill="#b8c6ba" transform="rotate(153 217.2 349.2)"/><rect x="212.7" y="342.9" width="3.1" height="2.7" fill="#b8c6ba" transform="rotate(56 214.2 344.2)"/><rect x="213.3" y="353.8" width="5.4" height="2.3" fill="#a9b8ab" transform="rotate(56 216.0 354.9)"/><rect x="213.8" y="341.8" width="4.7" height="2.3" fill="#c8d4c8" transform="rotate(56 216.2 343.0)"/><rect x="219.0" y="350.4" width="5.1" height="1.9" fill="none" stroke="#a9b8ab" stroke-width="0.8" transform="rotate(153 221.5 351.3)"/><rect x="232.9" y="335.3" width="4.6" height="1.9" fill="#c8d4c8" transform="rotate(153 235.2 336.2)"/><rect x="238.6" y="329.3" width="5.3" height="2.6" fill="none" stroke="#b8c6ba" stroke-width="0.8" transform="rotate(56 241.3 330.6)"/><rect x="241.3" y="332.4" width="3.9" height="1.8" fill="none" stroke="#c8d4c8" stroke-width="0.8" transform="rotate(56 243.2 333.3)"/><rect x="233.1" y="336.5" width="4.3" height="2.1" fill="#a9b8ab" transform="rotate(56 235.3 337.5)"/><rect x="233.8" y="336.4" width="5.4" height="2.2" fill="none" stroke="#b8c6ba" stroke-width="0.8" transform="rotate(56 236.5 337.5)"/><rect x="238.3" y="338.8" width="4.6" height="2.3" fill="#c8d4c8" transform="rotate(56 240.6 339.9)"/><rect x="232.3" y="328.9" width="5.2" height="2.3" fill="#a9b8ab" transform="rotate(56 234.9 330.0)"/><rect x="241.7" y="334.8" width="3.6" height="2.2" fill="none" stroke="#b8c6ba" stroke-width="0.8" transform="rotate(56 243.5 335.9)"/><rect x="235.5" y="327.1" width="3.8" height="3.0" fill="#c8d4c8" transform="rotate(56 237.4 328.6)"/><rect x="264.0" y="314.2" width="3.8" height="1.9" fill="none" stroke="#b8c6ba" stroke-width="0.8" transform="rotate(56 265.9 315.1)"/><rect x="268.7" y="320.1" width="5.0" height="2.0" fill="none" stroke="#a9b8ab" stroke-width="0.8" transform="rotate(56 271.3 321.1)"/><rect x="263.9" y="315.1" width="4.5" height="2.4" fill="#a9b8ab" transform="rotate(153 266.1 316.4)"/><rect x="264.9" y="321.2" width="3.7" height="2.5" fill="#a9b8ab" transform="rotate(56 266.8 322.5)"/><rect x="268.9" y="320.6" width="4.3" height="2.4" fill="#c8d4c8" transform="rotate(153 271.1 321.8)"/><rect x="259.4" y="321.7" width="4.7" height="2.6" fill="none" stroke="#c8d4c8" stroke-width="0.8" transform="rotate(56 261.8 323.0)"/><rect x="259.5" y="322.8" width="3.9" height="2.3" fill="#c8d4c8" transform="rotate(56 261.5 323.9)"/><rect x="288.3" y="299.9" width="4.1" height="1.9" fill="#c8d4c8" transform="rotate(153 290.3 300.8)"/><rect x="282.4" y="300.3" width="3.6" height="1.9" fill="none" stroke="#b8c6ba" stroke-width="0.8" transform="rotate(56 284.2 301.2)"/><rect x="289.0" y="305.6" width="5.1" height="1.9" fill="#d8e0d6" transform="rotate(153 291.6 306.5)"/><rect x="287.9" y="306.1" width="3.2" height="2.0" fill="#d8e0d6" transform="rotate(56 289.5 307.1)"/><rect x="285.2" y="299.2" width="4.2" height="3.0" fill="#b8c6ba" transform="rotate(56 287.3 300.7)"/><rect x="286.1" y="301.5" width="4.2" height="2.4" fill="none" stroke="#b8c6ba" stroke-width="0.8" transform="rotate(56 288.2 302.7)"/><rect x="285.1" y="299.1" width="3.7" height="1.9" fill="#a9b8ab" transform="rotate(56 287.0 300.1)"/><rect x="282.3" y="304.9" width="5.3" height="1.9" fill="#d8e0d6" transform="rotate(56 285.0 305.8)"/><rect x="281.8" y="301.0" width="4.3" height="2.9" fill="#b8c6ba" transform="rotate(153 283.9 302.4)"/><rect x="292.3" y="307.3" width="3.4" height="2.9" fill="none" stroke="#a9b8ab" stroke-width="0.8" transform="rotate(153 294.0 308.8)"/><rect x="313.9" y="287.3" width="3.3" height="2.2" fill="#d8e0d6" transform="rotate(56 315.6 288.4)"/><rect x="305.4" y="286.4" width="4.8" height="2.9" fill="none" stroke="#d8e0d6" stroke-width="0.8" transform="rotate(56 307.8 287.8)"/><rect x="308.9" y="289.2" width="3.2" height="2.9" fill="none" stroke="#c8d4c8" stroke-width="0.8" transform="rotate(153 310.4 290.6)"/><rect x="307.5" y="284.7" width="4.6" height="2.0" fill="#a9b8ab" transform="rotate(153 309.8 285.7)"/><rect x="311.1" y="284.3" width="5.4" height="2.9" fill="#a9b8ab" transform="rotate(153 313.8 285.8)"/><rect x="315.6" y="294.4" width="4.8" height="1.9" fill="#a9b8ab" transform="rotate(153 318.0 295.3)"/><rect x="231.7" y="309.1" width="3.1" height="2.9" fill="none" stroke="#a9b8ab" stroke-width="0.8" transform="rotate(56 233.3 310.6)"/><rect x="228.3" y="304.9" width="4.8" height="2.6" fill="none" stroke="#b8c6ba" stroke-width="0.8" transform="rotate(56 230.7 306.2)"/><rect x="229.8" y="309.1" width="3.4" height="2.0" fill="#a9b8ab" transform="rotate(56 231.5 310.1)"/><rect x="228.8" y="307.4" width="4.9" height="2.3" fill="none" stroke="#b8c6ba" stroke-width="0.8" transform="rotate(56 231.3 308.6)"/><rect x="231.0" y="305.0" width="3.6" height="2.1" fill="#c8d4c8" transform="rotate(56 232.8 306.1)"/><rect x="228.0" y="307.4" width="4.3" height="2.3" fill="#c8d4c8" transform="rotate(56 230.2 308.5)"/><rect x="260.3" y="302.2" width="4.3" height="2.6" fill="none" stroke="#b8c6ba" stroke-width="0.8" transform="rotate(153 262.4 303.5)"/><rect x="257.0" y="302.8" width="4.6" height="2.3" fill="none" stroke="#c8d4c8" stroke-width="0.8" transform="rotate(56 259.3 304.0)"/><rect x="249.3" y="299.0" width="5.0" height="3.0" fill="none" stroke="#c8d4c8" stroke-width="0.8" transform="rotate(56 251.8 300.5)"/><rect x="252.6" y="305.1" width="5.1" height="3.0" fill="none" stroke="#c8d4c8" stroke-width="0.8" transform="rotate(56 255.1 306.6)"/><rect x="245.9" y="297.0" width="3.3" height="2.8" fill="none" stroke="#a9b8ab" stroke-width="0.8" transform="rotate(153 247.6 298.4)"/><rect x="260.5" y="299.4" width="3.3" height="2.5" fill="#d8e0d6" transform="rotate(56 262.2 300.6)"/><rect x="253.7" y="300.2" width="4.1" height="2.7" fill="#d8e0d6" transform="rotate(56 255.7 301.6)"/><rect x="255.0" y="299.1" width="3.6" height="2.5" fill="#d8e0d6" transform="rotate(56 256.8 300.4)"/><rect x="252.5" y="295.5" width="5.1" height="2.1" fill="none" stroke="#b8c6ba" stroke-width="0.8" transform="rotate(56 255.1 296.5)"/></g>
<g filter="url(#blur3)" opacity="0.5"><polygon points="250.0,200.0 339.0,277.0 300.0,300.0 230.0,300.0 190.0,250.0" fill="#032a14" /></g>
<rect x="146.5" y="205" width="8" height="58" fill="url(#post)" opacity="0.9"/>
<polygon points="262.0,118.0 367.3,223.5 228.0,313.5 127.6,187.8" fill="url(#b2)" />
<polyline points="127.6,188.6 228.0,314.3 367.3,224.3" fill="none" stroke="#2f8a56" stroke-width="1.3"/>
<clipPath id="cb2"><polygon points="262.0,118.0 367.3,223.5 228.0,313.5 127.6,187.8"/></clipPath><g clip-path="url(#cb2)" opacity="0.6"><line x1="150.0" y1="215.0" x2="133.3" y2="198.2" stroke="#2fa062" stroke-width="0.9"/><line x1="150.0" y1="215.0" x2="164.8" y2="229.8" stroke="#2fa062" stroke-width="0.9"/><line x1="165.0" y1="240.0" x2="176.4" y2="251.4" stroke="#2fa062" stroke-width="0.9"/><line x1="165.0" y1="240.0" x2="179.3" y2="232.6" stroke="#2fa062" stroke-width="0.9"/><line x1="190.0" y1="260.0" x2="167.9" y2="271.5" stroke="#2fa062" stroke-width="0.9"/><line x1="190.0" y1="260.0" x2="176.2" y2="267.2" stroke="#2fa062" stroke-width="0.9"/><line x1="210.0" y1="285.0" x2="228.7" y2="275.3" stroke="#2fa062" stroke-width="0.9"/><line x1="210.0" y1="285.0" x2="199.0" y2="274.0" stroke="#2fa062" stroke-width="0.9"/><line x1="222.0" y1="300.0" x2="233.3" y2="311.3" stroke="#2fa062" stroke-width="0.9"/><line x1="222.0" y1="300.0" x2="205.6" y2="283.6" stroke="#2fa062" stroke-width="0.9"/><line x1="250.0" y1="285.0" x2="268.4" y2="275.4" stroke="#2fa062" stroke-width="0.9"/><line x1="250.0" y1="285.0" x2="237.0" y2="291.7" stroke="#2fa062" stroke-width="0.9"/><line x1="270.0" y1="265.0" x2="261.2" y2="256.2" stroke="#2fa062" stroke-width="0.9"/><line x1="270.0" y1="265.0" x2="252.5" y2="247.5" stroke="#2fa062" stroke-width="0.9"/><line x1="295.0" y1="255.0" x2="314.9" y2="274.9" stroke="#2fa062" stroke-width="0.9"/><line x1="295.0" y1="255.0" x2="321.6" y2="241.2" stroke="#2fa062" stroke-width="0.9"/><line x1="320.0" y1="245.0" x2="330.8" y2="255.9" stroke="#2fa062" stroke-width="0.9"/><line x1="320.0" y1="245.0" x2="336.9" y2="262.0" stroke="#2fa062" stroke-width="0.9"/><line x1="350.0" y1="228.0" x2="323.6" y2="241.7" stroke="#2fa062" stroke-width="0.9"/><line x1="350.0" y1="228.0" x2="358.5" y2="236.5" stroke="#2fa062" stroke-width="0.9"/><line x1="235.0" y1="255.0" x2="221.2" y2="241.2" stroke="#2fa062" stroke-width="0.9"/><line x1="235.0" y1="255.0" x2="212.2" y2="266.8" stroke="#2fa062" stroke-width="0.9"/><line x1="205.0" y1="240.0" x2="223.9" y2="259.0" stroke="#2fa062" stroke-width="0.9"/><line x1="205.0" y1="240.0" x2="187.6" y2="222.5" stroke="#2fa062" stroke-width="0.9"/><rect x="149.0" y="213.8" width="3.8" height="2.7" fill="none" stroke="#a9b8ab" stroke-width="0.8" transform="rotate(45 150.9 215.1)"/><rect x="150.2" y="214.6" width="3.9" height="2.4" fill="none" stroke="#c8d4c8" stroke-width="0.8" transform="rotate(153 152.2 215.8)"/><rect x="146.6" y="218.4" width="3.8" height="2.1" fill="none" stroke="#c8d4c8" stroke-width="0.8" transform="rotate(153 148.5 219.5)"/><rect x="152.1" y="215.3" width="3.7" height="1.8" fill="none" stroke="#c8d4c8" stroke-width="0.8" transform="rotate(153 154.0 216.2)"/><rect x="144.9" y="210.8" width="5.4" height="2.9" fill="#d8e0d6" transform="rotate(45 147.6 212.2)"/><rect x="154.6" y="215.3" width="4.2" height="1.8" fill="#d8e0d6" transform="rotate(153 156.8 216.2)"/><rect x="149.7" y="217.2" width="3.8" height="2.2" fill="#c8d4c8" transform="rotate(45 151.6 218.3)"/><rect x="168.4" y="240.3" width="3.2" height="1.8" fill="none" stroke="#d8e0d6" stroke-width="0.8" transform="rotate(45 170.0 241.2)"/><rect x="166.6" y="236.0" width="3.2" height="2.5" fill="#a9b8ab" transform="rotate(45 168.2 237.2)"/><rect x="165.8" y="240.7" width="3.6" height="2.3" fill="#b8c6ba" transform="rotate(153 167.6 241.8)"/><rect x="165.1" y="242.9" width="3.3" height="2.8" fill="none" stroke="#d8e0d6" stroke-width="0.8" transform="rotate(45 166.8 244.3)"/><rect x="168.5" y="239.8" width="3.6" height="2.1" fill="none" stroke="#b8c6ba" stroke-width="0.8" transform="rotate(45 170.3 240.8)"/><rect x="156.9" y="240.5" width="4.3" height="2.1" fill="#a9b8ab" transform="rotate(153 159.1 241.5)"/><rect x="158.8" y="234.5" width="5.0" height="2.8" fill="#c8d4c8" transform="rotate(153 161.3 235.9)"/><rect x="164.6" y="233.6" width="4.5" height="2.8" fill="none" stroke="#c8d4c8" stroke-width="0.8" transform="rotate(45 166.8 235.0)"/><rect x="183.3" y="256.0" width="4.9" height="2.6" fill="none" stroke="#d8e0d6" stroke-width="0.8" transform="rotate(45 185.8 257.3)"/><rect x="190.5" y="255.8" width="3.5" height="2.1" fill="#b8c6ba" transform="rotate(45 192.3 256.8)"/><rect x="192.1" y="261.4" width="3.9" height="2.5" fill="#c8d4c8" transform="rotate(45 194.1 262.7)"/><rect x="193.2" y="257.1" width="3.3" height="2.3" fill="#c8d4c8" transform="rotate(45 194.8 258.2)"/><rect x="188.5" y="256.5" width="5.5" height="2.6" fill="none" stroke="#c8d4c8" stroke-width="0.8" transform="rotate(45 191.3 257.8)"/><rect x="190.1" y="258.5" width="4.0" height="2.8" fill="#d8e0d6" transform="rotate(153 192.1 259.9)"/><rect x="187.2" y="257.3" width="5.4" height="2.3" fill="#c8d4c8" transform="rotate(45 189.9 258.4)"/><rect x="183.2" y="260.0" width="4.2" height="2.0" fill="#b8c6ba" transform="rotate(45 185.3 261.0)"/><rect x="195.9" y="260.8" width="4.6" height="2.2" fill="none" stroke="#b8c6ba" stroke-width="0.8" transform="rotate(45 198.1 261.9)"/><rect x="188.3" y="253.8" width="3.2" height="2.3" fill="none" stroke="#b8c6ba" stroke-width="0.8" transform="rotate(153 189.9 255.0)"/><rect x="195.2" y="259.9" width="5.3" height="2.2" fill="none" stroke="#a9b8ab" stroke-width="0.8" transform="rotate(153 197.9 261.0)"/><rect x="206.3" y="286.5" width="3.4" height="2.7" fill="#a9b8ab" transform="rotate(45 208.0 287.9)"/><rect x="205.1" y="280.9" width="4.4" height="1.9" fill="none" stroke="#b8c6ba" stroke-width="0.8" transform="rotate(153 207.3 281.8)"/><rect x="206.4" y="278.5" width="4.8" height="2.9" fill="#c8d4c8" transform="rotate(45 208.8 280.0)"/><rect x="207.3" y="281.3" width="4.1" height="2.8" fill="none" stroke="#a9b8ab" stroke-width="0.8" transform="rotate(153 209.4 282.7)"/><rect x="206.7" y="280.7" width="3.9" height="2.4" fill="#c8d4c8" transform="rotate(45 208.6 281.9)"/><rect x="210.1" y="282.2" width="4.9" height="2.7" fill="#b8c6ba" transform="rotate(45 212.5 283.5)"/><rect x="211.4" y="280.7" width="3.9" height="2.2" fill="none" stroke="#c8d4c8" stroke-width="0.8" transform="rotate(153 213.3 281.8)"/><rect x="200.3" y="282.2" width="3.8" height="2.7" fill="#a9b8ab" transform="rotate(45 202.1 283.5)"/><rect x="215.9" y="284.1" width="3.2" height="2.5" fill="none" stroke="#c8d4c8" stroke-width="0.8" transform="rotate(153 217.5 285.4)"/><rect x="212.1" y="288.3" width="5.4" height="2.9" fill="none" stroke="#b8c6ba" stroke-width="0.8" transform="rotate(45 214.8 289.7)"/><rect x="223.7" y="298.5" width="3.8" height="2.5" fill="none" stroke="#a9b8ab" stroke-width="0.8" transform="rotate(153 225.6 299.8)"/><rect x="216.1" y="301.1" width="3.5" height="2.1" fill="none" stroke="#d8e0d6" stroke-width="0.8" transform="rotate(45 217.8 302.2)"/><rect x="217.7" y="295.5" width="4.6" height="2.1" fill="none" stroke="#a9b8ab" stroke-width="0.8" transform="rotate(45 220.0 296.5)"/><rect x="226.5" y="299.6" width="4.3" height="2.6" fill="#a9b8ab" transform="rotate(45 228.6 300.8)"/><rect x="217.4" y="301.3" width="3.3" height="3.0" fill="#a9b8ab" transform="rotate(153 219.0 302.8)"/><rect x="220.0" y="297.1" width="3.9" height="2.0" fill="none" stroke="#c8d4c8" stroke-width="0.8" transform="rotate(45 222.0 298.1)"/><rect x="214.8" y="296.7" width="3.1" height="2.8" fill="#d8e0d6" transform="rotate(45 216.4 298.1)"/><rect x="246.6" y="277.4" width="4.5" height="2.3" fill="none" stroke="#c8d4c8" stroke-width="0.8" transform="rotate(45 248.9 278.6)"/><rect x="244.3" y="282.2" width="3.1" height="1.8" fill="#c8d4c8" transform="rotate(45 245.8 283.1)"/><rect x="249.3" y="283.9" width="3.8" height="2.0" fill="none" stroke="#a9b8ab" stroke-width="0.8" transform="rotate(45 251.2 284.9)"/><rect x="239.8" y="280.6" width="4.8" height="2.3" fill="#b8c6ba" transform="rotate(45 242.2 281.7)"/><rect x="251.9" y="286.4" width="3.7" height="1.8" fill="#d8e0d6" transform="rotate(153 253.8 287.3)"/><rect x="247.6" y="285.1" width="4.3" height="2.4" fill="none" stroke="#c8d4c8" stroke-width="0.8" transform="rotate(45 249.8 286.3)"/><rect x="249.4" y="283.9" width="3.6" height="1.9" fill="#c8d4c8" transform="rotate(153 251.2 284.8)"/><rect x="252.5" y="283.8" width="4.0" height="2.4" fill="#a9b8ab" transform="rotate(153 254.6 285.0)"/><rect x="246.8" y="279.9" width="3.8" height="1.9" fill="#a9b8ab" transform="rotate(153 248.7 280.8)"/><rect x="239.3" y="280.7" width="4.9" height="2.4" fill="none" stroke="#a9b8ab" stroke-width="0.8" transform="rotate(153 241.7 281.9)"/><rect x="264.6" y="261.9" width="3.3" height="2.9" fill="#d8e0d6" transform="rotate(153 266.2 263.4)"/><rect x="265.1" y="261.6" width="4.1" height="2.7" fill="none" stroke="#d8e0d6" stroke-width="0.8" transform="rotate(45 267.2 263.0)"/><rect x="268.7" y="270.1" width="3.2" height="2.4" fill="#b8c6ba" transform="rotate(45 270.3 271.3)"/><rect x="267.8" y="259.3" width="5.3" height="2.0" fill="none" stroke="#b8c6ba" stroke-width="0.8" transform="rotate(45 270.4 260.3)"/><rect x="266.6" y="269.3" width="5.5" height="2.8" fill="#a9b8ab" transform="rotate(45 269.3 270.7)"/><rect x="292.1" y="246.6" width="5.4" height="2.1" fill="none" stroke="#b8c6ba" stroke-width="0.8" transform="rotate(153 294.8 247.7)"/><rect x="293.5" y="255.3" width="3.4" height="1.8" fill="none" stroke="#b8c6ba" stroke-width="0.8" transform="rotate(45 295.2 256.2)"/><rect x="294.6" y="247.7" width="3.1" height="2.6" fill="#c8d4c8" transform="rotate(153 296.1 249.0)"/><rect x="287.9" y="249.8" width="3.9" height="2.8" fill="#c8d4c8" transform="rotate(153 289.8 251.2)"/><rect x="293.5" y="257.6" width="4.0" height="2.1" fill="none" stroke="#c8d4c8" stroke-width="0.8" transform="rotate(45 295.4 258.6)"/><rect x="293.0" y="258.7" width="4.6" height="2.8" fill="#d8e0d6" transform="rotate(153 295.3 260.1)"/><rect x="286.2" y="251.8" width="4.6" height="2.2" fill="none" stroke="#d8e0d6" stroke-width="0.8" transform="rotate(45 288.5 252.9)"/><rect x="292.4" y="250.3" width="4.8" height="2.2" fill="#a9b8ab" transform="rotate(45 294.8 251.5)"/><rect x="298.8" y="252.6" width="4.0" height="2.3" fill="#d8e0d6" transform="rotate(153 300.8 253.8)"/><rect x="287.5" y="249.5" width="4.8" height="2.8" fill="none" stroke="#d8e0d6" stroke-width="0.8" transform="rotate(45 289.9 250.9)"/><rect x="319.9" y="243.2" width="4.9" height="1.9" fill="#c8d4c8" transform="rotate(45 322.3 244.1)"/><rect x="324.0" y="245.2" width="4.2" height="2.2" fill="#d8e0d6" transform="rotate(153 326.1 246.3)"/><rect x="310.8" y="242.2" width="5.3" height="2.1" fill="#c8d4c8" transform="rotate(45 313.5 243.2)"/><rect x="322.6" y="249.1" width="3.3" height="2.2" fill="#a9b8ab" transform="rotate(45 324.2 250.2)"/><rect x="320.9" y="245.9" width="4.6" height="2.2" fill="#a9b8ab" transform="rotate(45 323.2 247.0)"/><rect x="339.7" y="225.8" width="4.6" height="2.9" fill="none" stroke="#c8d4c8" stroke-width="0.8" transform="rotate(45 342.0 227.2)"/><rect x="349.2" y="223.2" width="5.1" height="2.6" fill="#b8c6ba" transform="rotate(153 351.7 224.5)"/><rect x="352.5" y="227.5" width="3.6" height="2.2" fill="#b8c6ba" transform="rotate(153 354.3 228.6)"/><rect x="342.6" y="225.7" width="5.1" height="2.5" fill="#b8c6ba" transform="rotate(153 345.2 227.0)"/><rect x="350.7" y="226.8" width="3.6" height="2.9" fill="none" stroke="#c8d4c8" stroke-width="0.8" transform="rotate(45 352.5 228.2)"/><rect x="352.9" y="227.0" width="3.4" height="2.0" fill="none" stroke="#d8e0d6" stroke-width="0.8" transform="rotate(45 354.6 228.0)"/><rect x="344.0" y="224.7" width="3.3" height="2.0" fill="none" stroke="#c8d4c8" stroke-width="0.8" transform="rotate(45 345.6 225.7)"/><rect x="352.4" y="229.7" width="3.6" height="3.0" fill="none" stroke="#c8d4c8" stroke-width="0.8" transform="rotate(45 354.1 231.2)"/><rect x="349.5" y="227.1" width="4.9" height="2.9" fill="#a9b8ab" transform="rotate(45 352.0 228.5)"/><rect x="231.0" y="257.8" width="4.9" height="2.6" fill="#b8c6ba" transform="rotate(153 233.4 259.2)"/><rect x="234.1" y="252.6" width="4.6" height="1.9" fill="#a9b8ab" transform="rotate(45 236.4 253.6)"/><rect x="236.7" y="253.8" width="4.1" height="2.3" fill="#a9b8ab" transform="rotate(153 238.8 255.0)"/><rect x="230.3" y="257.4" width="5.2" height="2.2" fill="#a9b8ab" transform="rotate(45 232.9 258.5)"/><rect x="231.8" y="248.5" width="3.5" height="2.7" fill="#b8c6ba" transform="rotate(153 233.6 249.8)"/><rect x="228.1" y="250.1" width="4.4" height="2.7" fill="#d8e0d6" transform="rotate(45 230.3 251.4)"/><rect x="227.9" y="255.1" width="3.5" height="2.6" fill="#c8d4c8" transform="rotate(45 229.7 256.4)"/><rect x="232.9" y="255.7" width="3.6" height="2.3" fill="none" stroke="#c8d4c8" stroke-width="0.8" transform="rotate(45 234.8 256.8)"/><rect x="230.3" y="254.2" width="3.9" height="2.1" fill="#a9b8ab" transform="rotate(45 232.2 255.2)"/><rect x="235.6" y="252.7" width="5.0" height="2.3" fill="#b8c6ba" transform="rotate(45 238.1 253.8)"/><rect x="204.6" y="242.5" width="4.2" height="2.5" fill="none" stroke="#b8c6ba" stroke-width="0.8" transform="rotate(45 206.7 243.8)"/><rect x="200.7" y="241.8" width="5.0" height="2.4" fill="#b8c6ba" transform="rotate(45 203.2 243.0)"/><rect x="200.1" y="239.8" width="3.6" height="2.6" fill="#a9b8ab" transform="rotate(153 201.9 241.2)"/><rect x="199.3" y="240.3" width="5.0" height="2.2" fill="#d8e0d6" transform="rotate(153 201.8 241.4)"/><rect x="200.6" y="238.9" width="4.6" height="2.2" fill="none" stroke="#a9b8ab" stroke-width="0.8" transform="rotate(153 202.9 240.0)"/></g>
<g filter="url(#blur3)" opacity="0.5"><polygon points="240.0,160.0 367.0,223.0 330.0,250.0 240.0,262.0 180.0,200.0" fill="#032a14" /></g>
<rect x="144.5" y="150" width="9" height="52" fill="url(#postd)"/>
<polygon points="266.6,66.4 372.4,176.0 227.0,266.5 127.6,135.2" fill="url(#b1)" />
<polyline points="127.6,136.0 227.0,267.3 372.4,176.8" fill="none" stroke="#0b5f33" stroke-width="1.4"/>
<clipPath id="cb1"><polygon points="266.6,66.4 372.4,176.0 227.0,266.5 127.6,135.2"/></clipPath><g clip-path="url(#cb1)" opacity="0.85"><line x1="262.0" y1="78.0" x2="287.4" y2="65.4" stroke="#2fa062" stroke-width="0.9"/><line x1="262.0" y1="78.0" x2="278.3" y2="69.9" stroke="#2fa062" stroke-width="0.9"/><line x1="272.0" y1="92.0" x2="286.1" y2="85.0" stroke="#2fa062" stroke-width="0.9"/><line x1="272.0" y1="92.0" x2="286.8" y2="84.7" stroke="#2fa062" stroke-width="0.9"/><line x1="236.0" y1="105.0" x2="260.5" y2="92.9" stroke="#2fa062" stroke-width="0.9"/><line x1="236.0" y1="105.0" x2="252.3" y2="96.9" stroke="#2fa062" stroke-width="0.9"/><line x1="245.0" y1="112.0" x2="231.6" y2="98.2" stroke="#2fa062" stroke-width="0.9"/><line x1="245.0" y1="112.0" x2="266.9" y2="101.2" stroke="#2fa062" stroke-width="0.9"/><line x1="216.0" y1="100.0" x2="190.8" y2="112.5" stroke="#2fa062" stroke-width="0.9"/><line x1="216.0" y1="100.0" x2="199.0" y2="82.4" stroke="#2fa062" stroke-width="0.9"/><line x1="196.0" y1="126.0" x2="213.8" y2="117.2" stroke="#2fa062" stroke-width="0.9"/><line x1="196.0" y1="126.0" x2="211.0" y2="118.6" stroke="#2fa062" stroke-width="0.9"/><line x1="200.0" y1="138.0" x2="218.4" y2="128.9" stroke="#2fa062" stroke-width="0.9"/><line x1="200.0" y1="138.0" x2="219.7" y2="158.4" stroke="#2fa062" stroke-width="0.9"/><line x1="180.0" y1="122.0" x2="169.6" y2="111.2" stroke="#2fa062" stroke-width="0.9"/><line x1="180.0" y1="122.0" x2="192.3" y2="134.8" stroke="#2fa062" stroke-width="0.9"/><line x1="208.0" y1="160.0" x2="183.7" y2="172.0" stroke="#2fa062" stroke-width="0.9"/><line x1="208.0" y1="160.0" x2="187.2" y2="138.4" stroke="#2fa062" stroke-width="0.9"/><line x1="256.0" y1="165.0" x2="243.2" y2="151.7" stroke="#2fa062" stroke-width="0.9"/><line x1="256.0" y1="165.0" x2="264.9" y2="174.2" stroke="#2fa062" stroke-width="0.9"/><line x1="265.0" y1="172.0" x2="252.7" y2="178.1" stroke="#2fa062" stroke-width="0.9"/><line x1="265.0" y1="172.0" x2="245.4" y2="151.7" stroke="#2fa062" stroke-width="0.9"/><line x1="292.0" y1="142.0" x2="278.5" y2="128.0" stroke="#2fa062" stroke-width="0.9"/><line x1="292.0" y1="142.0" x2="311.1" y2="161.8" stroke="#2fa062" stroke-width="0.9"/><line x1="300.0" y1="150.0" x2="281.9" y2="131.3" stroke="#2fa062" stroke-width="0.9"/><line x1="300.0" y1="150.0" x2="312.6" y2="163.1" stroke="#2fa062" stroke-width="0.9"/><line x1="323.0" y1="130.0" x2="298.9" y2="141.9" stroke="#2fa062" stroke-width="0.9"/><line x1="323.0" y1="130.0" x2="337.5" y2="145.0" stroke="#2fa062" stroke-width="0.9"/><line x1="214.0" y1="190.0" x2="198.9" y2="197.5" stroke="#2fa062" stroke-width="0.9"/><line x1="214.0" y1="190.0" x2="235.3" y2="179.5" stroke="#2fa062" stroke-width="0.9"/><line x1="222.0" y1="200.0" x2="234.3" y2="212.7" stroke="#2fa062" stroke-width="0.9"/><line x1="222.0" y1="200.0" x2="201.5" y2="178.8" stroke="#2fa062" stroke-width="0.9"/><line x1="270.0" y1="236.0" x2="258.6" y2="241.6" stroke="#2fa062" stroke-width="0.9"/><line x1="270.0" y1="236.0" x2="258.4" y2="241.7" stroke="#2fa062" stroke-width="0.9"/><line x1="280.0" y1="228.0" x2="288.9" y2="237.2" stroke="#2fa062" stroke-width="0.9"/><line x1="280.0" y1="228.0" x2="258.6" y2="238.6" stroke="#2fa062" stroke-width="0.9"/><line x1="230.0" y1="245.0" x2="250.9" y2="234.7" stroke="#2fa062" stroke-width="0.9"/><line x1="230.0" y1="245.0" x2="246.7" y2="262.3" stroke="#2fa062" stroke-width="0.9"/><line x1="312.0" y1="204.0" x2="325.6" y2="197.3" stroke="#2fa062" stroke-width="0.9"/><line x1="312.0" y1="204.0" x2="329.6" y2="195.3" stroke="#2fa062" stroke-width="0.9"/><line x1="322.0" y1="198.0" x2="300.7" y2="208.6" stroke="#2fa062" stroke-width="0.9"/><line x1="322.0" y1="198.0" x2="309.0" y2="204.4" stroke="#2fa062" stroke-width="0.9"/><line x1="340.0" y1="180.0" x2="325.1" y2="187.4" stroke="#2fa062" stroke-width="0.9"/><line x1="340.0" y1="180.0" x2="331.2" y2="170.9" stroke="#2fa062" stroke-width="0.9"/><line x1="185.0" y1="175.0" x2="168.6" y2="158.1" stroke="#2fa062" stroke-width="0.9"/><line x1="185.0" y1="175.0" x2="170.1" y2="159.6" stroke="#2fa062" stroke-width="0.9"/><line x1="245.0" y1="140.0" x2="227.5" y2="148.7" stroke="#2fa062" stroke-width="0.9"/><line x1="245.0" y1="140.0" x2="253.5" y2="148.8" stroke="#2fa062" stroke-width="0.9"/><line x1="250.0" y1="205.0" x2="276.8" y2="191.7" stroke="#2fa062" stroke-width="0.9"/><line x1="250.0" y1="205.0" x2="236.5" y2="191.0" stroke="#2fa062" stroke-width="0.9"/><line x1="195.0" y1="215.0" x2="180.8" y2="200.3" stroke="#2fa062" stroke-width="0.9"/><line x1="195.0" y1="215.0" x2="212.6" y2="206.3" stroke="#2fa062" stroke-width="0.9"/><line x1="300.0" y1="175.0" x2="312.7" y2="168.7" stroke="#2fa062" stroke-width="0.9"/><line x1="300.0" y1="175.0" x2="309.9" y2="185.2" stroke="#2fa062" stroke-width="0.9"/><line x1="348.0" y1="165.0" x2="330.7" y2="147.1" stroke="#2fa062" stroke-width="0.9"/><line x1="348.0" y1="165.0" x2="330.4" y2="146.7" stroke="#2fa062" stroke-width="0.9"/><rect x="260.0" y="80.5" width="5.1" height="2.7" fill="#a9b8ab" transform="rotate(46 262.5 81.8)"/><rect x="266.0" y="79.8" width="5.4" height="2.7" fill="#c8d4c8" transform="rotate(46 268.7 81.1)"/><rect x="260.6" y="79.4" width="4.0" height="2.2" fill="#a9b8ab" transform="rotate(154 262.6 80.5)"/><rect x="253.3" y="77.2" width="4.8" height="2.4" fill="none" stroke="#c8d4c8" stroke-width="0.8" transform="rotate(46 255.7 78.4)"/><rect x="260.1" y="79.0" width="4.0" height="2.3" fill="#d8e0d6" transform="rotate(154 262.1 80.1)"/><rect x="263.2" y="76.2" width="3.2" height="3.0" fill="#d8e0d6" transform="rotate(154 264.7 77.6)"/><rect x="267.4" y="76.5" width="3.4" height="2.8" fill="none" stroke="#b8c6ba" stroke-width="0.8" transform="rotate(46 269.1 77.9)"/><rect x="260.2" y="79.0" width="5.2" height="2.8" fill="none" stroke="#c8d4c8" stroke-width="0.8" transform="rotate(46 262.8 80.4)"/><rect x="267.9" y="90.2" width="5.0" height="2.9" fill="#b8c6ba" transform="rotate(46 270.4 91.6)"/><rect x="273.0" y="94.6" width="3.7" height="2.8" fill="none" stroke="#a9b8ab" stroke-width="0.8" transform="rotate(154 274.8 96.1)"/><rect x="264.9" y="87.1" width="5.0" height="2.0" fill="none" stroke="#b8c6ba" stroke-width="0.8" transform="rotate(154 267.4 88.1)"/><rect x="266.4" y="85.6" width="4.8" height="2.9" fill="#c8d4c8" transform="rotate(46 268.7 87.0)"/><rect x="273.2" y="88.2" width="5.0" height="2.7" fill="#d8e0d6" transform="rotate(46 275.7 89.5)"/><rect x="270.2" y="91.1" width="4.5" height="2.0" fill="#b8c6ba" transform="rotate(46 272.4 92.1)"/><rect x="267.2" y="88.9" width="3.9" height="2.7" fill="none" stroke="#b8c6ba" stroke-width="0.8" transform="rotate(154 269.2 90.3)"/><rect x="276.5" y="95.1" width="3.3" height="2.6" fill="none" stroke="#b8c6ba" stroke-width="0.8" transform="rotate(154 278.1 96.4)"/><rect x="232.8" y="102.6" width="3.1" height="1.8" fill="#a9b8ab" transform="rotate(154 234.3 103.5)"/><rect x="227.1" y="103.3" width="3.7" height="1.9" fill="none" stroke="#b8c6ba" stroke-width="0.8" transform="rotate(46 228.9 104.2)"/><rect x="232.8" y="97.9" width="3.5" height="1.9" fill="#d8e0d6" transform="rotate(46 234.5 98.9)"/><rect x="228.5" y="105.9" width="5.3" height="1.9" fill="#a9b8ab" transform="rotate(46 231.1 106.8)"/><rect x="240.2" y="104.0" width="3.8" height="2.1" fill="none" stroke="#a9b8ab" stroke-width="0.8" transform="rotate(46 242.1 105.0)"/><rect x="238.9" y="106.5" width="3.6" height="2.7" fill="#d8e0d6" transform="rotate(46 240.7 107.9)"/><rect x="242.3" y="117.1" width="5.1" height="1.9" fill="none" stroke="#a9b8ab" stroke-width="0.8" transform="rotate(154 244.9 118.1)"/><rect x="236.3" y="108.4" width="5.3" height="2.6" fill="#a9b8ab" transform="rotate(46 239.0 109.7)"/><rect x="241.1" y="106.2" width="3.6" height="1.9" fill="none" stroke="#b8c6ba" stroke-width="0.8" transform="rotate(46 242.9 107.2)"/><rect x="241.2" y="116.0" width="5.2" height="2.4" fill="none" stroke="#c8d4c8" stroke-width="0.8" transform="rotate(154 243.8 117.2)"/><rect x="250.2" y="112.1" width="4.5" height="2.2" fill="#a9b8ab" transform="rotate(154 252.5 113.3)"/><rect x="248.8" y="114.8" width="3.1" height="1.9" fill="#d8e0d6" transform="rotate(154 250.3 115.7)"/><rect x="211.7" y="94.1" width="3.8" height="2.7" fill="#a9b8ab" transform="rotate(46 213.6 95.5)"/><rect x="207.0" y="97.1" width="3.7" height="2.3" fill="#d8e0d6" transform="rotate(46 208.8 98.3)"/><rect x="209.1" y="98.5" width="3.7" height="1.9" fill="none" stroke="#a9b8ab" stroke-width="0.8" transform="rotate(46 211.0 99.5)"/><rect x="222.5" y="101.3" width="5.2" height="2.6" fill="#a9b8ab" transform="rotate(46 225.1 102.6)"/><rect x="207.0" y="96.3" width="5.4" height="2.3" fill="#b8c6ba" transform="rotate(46 209.7 97.4)"/><rect x="211.6" y="94.0" width="5.2" height="1.9" fill="none" stroke="#d8e0d6" stroke-width="0.8" transform="rotate(154 214.2 94.9)"/><rect x="215.8" y="99.9" width="4.3" height="2.4" fill="none" stroke="#d8e0d6" stroke-width="0.8" transform="rotate(46 217.9 101.1)"/><rect x="209.5" y="100.2" width="3.5" height="2.5" fill="#b8c6ba" transform="rotate(46 211.2 101.4)"/><rect x="214.4" y="94.3" width="4.5" height="2.8" fill="#a9b8ab" transform="rotate(154 216.6 95.7)"/><rect x="189.6" y="122.2" width="4.8" height="2.8" fill="none" stroke="#b8c6ba" stroke-width="0.8" transform="rotate(46 192.0 123.6)"/><rect x="195.1" y="126.6" width="5.1" height="2.9" fill="none" stroke="#d8e0d6" stroke-width="0.8" transform="rotate(46 197.7 128.0)"/><rect x="193.5" y="130.3" width="4.2" height="1.8" fill="none" stroke="#a9b8ab" stroke-width="0.8" transform="rotate(154 195.7 131.3)"/><rect x="197.9" y="124.9" width="4.4" height="3.0" fill="#d8e0d6" transform="rotate(46 200.1 126.4)"/><rect x="198.3" y="127.4" width="5.3" height="3.0" fill="#d8e0d6" transform="rotate(46 200.9 128.9)"/><rect x="193.5" y="129.7" width="3.8" height="2.7" fill="none" stroke="#c8d4c8" stroke-width="0.8" transform="rotate(46 195.4 131.0)"/><rect x="187.8" y="122.3" width="4.1" height="1.8" fill="none" stroke="#b8c6ba" stroke-width="0.8" transform="rotate(154 189.9 123.2)"/><rect x="198.9" y="132.6" width="3.3" height="2.1" fill="none" stroke="#c8d4c8" stroke-width="0.8" transform="rotate(154 200.5 133.6)"/><rect x="199.9" y="142.1" width="3.7" height="2.8" fill="#a9b8ab" transform="rotate(154 201.7 143.5)"/><rect x="203.4" y="136.7" width="5.2" height="2.7" fill="#c8d4c8" transform="rotate(46 206.0 138.1)"/><rect x="196.6" y="139.2" width="3.3" height="1.9" fill="#b8c6ba" transform="rotate(154 198.2 140.2)"/><rect x="193.4" y="133.8" width="4.9" height="2.0" fill="#a9b8ab" transform="rotate(154 195.8 134.8)"/><rect x="198.4" y="138.0" width="3.1" height="3.0" fill="none" stroke="#d8e0d6" stroke-width="0.8" transform="rotate(46 199.9 139.5)"/><rect x="178.6" y="125.2" width="5.1" height="2.5" fill="#d8e0d6" transform="rotate(154 181.1 126.5)"/><rect x="185.7" y="121.8" width="4.3" height="2.9" fill="#b8c6ba" transform="rotate(154 187.9 123.3)"/><rect x="184.9" y="120.2" width="3.3" height="2.0" fill="#b8c6ba" transform="rotate(46 186.5 121.2)"/><rect x="176.2" y="114.0" width="5.4" height="2.7" fill="#c8d4c8" transform="rotate(154 179.0 115.4)"/><rect x="178.3" y="126.5" width="3.1" height="2.6" fill="#d8e0d6" transform="rotate(46 179.9 127.8)"/><rect x="186.0" y="121.8" width="3.3" height="1.9" fill="#b8c6ba" transform="rotate(46 187.6 122.8)"/><rect x="177.6" y="117.9" width="4.6" height="1.9" fill="none" stroke="#d8e0d6" stroke-width="0.8" transform="rotate(46 179.9 118.9)"/><rect x="210.2" y="157.6" width="3.3" height="2.0" fill="#a9b8ab" transform="rotate(46 211.9 158.6)"/><rect x="201.0" y="157.8" width="4.9" height="2.1" fill="#b8c6ba" transform="rotate(46 203.4 158.9)"/><rect x="200.9" y="156.8" width="4.2" height="2.5" fill="#a9b8ab" transform="rotate(154 203.0 158.0)"/><rect x="203.4" y="153.2" width="3.5" height="2.5" fill="none" stroke="#a9b8ab" stroke-width="0.8" transform="rotate(154 205.1 154.4)"/><rect x="201.1" y="159.1" width="3.6" height="2.5" fill="#d8e0d6" transform="rotate(46 202.9 160.3)"/><rect x="208.2" y="153.7" width="3.1" height="2.5" fill="none" stroke="#d8e0d6" stroke-width="0.8" transform="rotate(154 209.7 154.9)"/><rect x="202.8" y="153.7" width="4.1" height="2.7" fill="#b8c6ba" transform="rotate(46 204.9 155.0)"/><rect x="203.4" y="162.6" width="4.0" height="2.6" fill="#b8c6ba" transform="rotate(46 205.4 163.9)"/><rect x="206.0" y="163.8" width="4.3" height="2.7" fill="none" stroke="#a9b8ab" stroke-width="0.8" transform="rotate(154 208.2 165.1)"/><rect x="205.6" y="160.8" width="4.8" height="2.3" fill="#a9b8ab" transform="rotate(46 207.9 162.0)"/><rect x="250.6" y="159.6" width="5.5" height="2.0" fill="#d8e0d6" transform="rotate(154 253.3 160.6)"/><rect x="256.2" y="164.3" width="4.1" height="2.3" fill="none" stroke="#d8e0d6" stroke-width="0.8" transform="rotate(154 258.3 165.5)"/><rect x="253.0" y="164.8" width="4.6" height="1.8" fill="none" stroke="#a9b8ab" stroke-width="0.8" transform="rotate(154 255.3 165.7)"/><rect x="251.2" y="162.0" width="5.0" height="2.3" fill="none" stroke="#b8c6ba" stroke-width="0.8" transform="rotate(46 253.7 163.2)"/><rect x="259.3" y="167.0" width="5.1" height="2.8" fill="#b8c6ba" transform="rotate(154 261.9 168.4)"/><rect x="253.7" y="170.2" width="3.1" height="2.1" fill="#d8e0d6" transform="rotate(154 255.2 171.2)"/><rect x="255.5" y="166.7" width="5.5" height="2.4" fill="none" stroke="#a9b8ab" stroke-width="0.8" transform="rotate(46 258.3 167.9)"/><rect x="251.7" y="162.6" width="3.9" height="2.9" fill="none" stroke="#b8c6ba" stroke-width="0.8" transform="rotate(154 253.7 164.0)"/><rect x="253.6" y="162.0" width="4.4" height="2.5" fill="#a9b8ab" transform="rotate(154 255.8 163.2)"/><rect x="251.4" y="163.9" width="5.5" height="2.2" fill="none" stroke="#c8d4c8" stroke-width="0.8" transform="rotate(46 254.2 165.0)"/><rect x="266.1" y="167.5" width="3.8" height="2.0" fill="#d8e0d6" transform="rotate(154 268.0 168.5)"/><rect x="260.6" y="176.5" width="5.2" height="2.3" fill="#d8e0d6" transform="rotate(46 263.2 177.7)"/><rect x="256.2" y="170.1" width="4.0" height="1.9" fill="none" stroke="#c8d4c8" stroke-width="0.8" transform="rotate(46 258.2 171.0)"/><rect x="266.9" y="176.5" width="3.1" height="2.3" fill="#d8e0d6" transform="rotate(154 268.4 177.7)"/><rect x="259.3" y="173.6" width="4.0" height="1.9" fill="none" stroke="#c8d4c8" stroke-width="0.8" transform="rotate(46 261.3 174.6)"/><rect x="262.6" y="171.0" width="3.7" height="2.6" fill="#b8c6ba" transform="rotate(46 264.4 172.2)"/><rect x="266.2" y="167.9" width="3.4" height="2.7" fill="none" stroke="#c8d4c8" stroke-width="0.8" transform="rotate(46 267.9 169.2)"/><rect x="267.4" y="175.3" width="4.2" height="2.3" fill="#c8d4c8" transform="rotate(154 269.5 176.5)"/><rect x="286.2" y="140.3" width="3.9" height="2.0" fill="#c8d4c8" transform="rotate(46 288.1 141.3)"/><rect x="299.0" y="143.1" width="3.5" height="2.5" fill="#b8c6ba" transform="rotate(46 300.7 144.3)"/><rect x="286.1" y="143.8" width="4.1" height="2.5" fill="none" stroke="#c8d4c8" stroke-width="0.8" transform="rotate(46 288.2 145.1)"/><rect x="294.6" y="139.8" width="3.0" height="2.8" fill="#a9b8ab" transform="rotate(46 296.1 141.3)"/><rect x="293.8" y="145.6" width="5.4" height="2.1" fill="none" stroke="#b8c6ba" stroke-width="0.8" transform="rotate(46 296.5 146.6)"/><rect x="287.4" y="140.6" width="3.1" height="2.8" fill="none" stroke="#b8c6ba" stroke-width="0.8" transform="rotate(46 288.9 142.0)"/><rect x="282.4" y="139.9" width="3.7" height="2.5" fill="none" stroke="#a9b8ab" stroke-width="0.8" transform="rotate(46 284.2 141.2)"/><rect x="286.8" y="144.4" width="4.1" height="2.9" fill="none" stroke="#a9b8ab" stroke-width="0.8" transform="rotate(46 288.8 145.8)"/><rect x="291.0" y="137.2" width="3.1" height="2.6" fill="none" stroke="#b8c6ba" stroke-width="0.8" transform="rotate(46 292.5 138.5)"/><rect x="289.3" y="135.4" width="4.4" height="2.7" fill="#a9b8ab" transform="rotate(46 291.4 136.8)"/><rect x="297.0" y="145.6" width="3.5" height="2.3" fill="none" stroke="#b8c6ba" stroke-width="0.8" transform="rotate(154 298.8 146.7)"/><rect x="300.2" y="147.0" width="5.1" height="2.6" fill="#d8e0d6" transform="rotate(154 302.7 148.3)"/><rect x="292.3" y="150.7" width="4.3" height="2.3" fill="#b8c6ba" transform="rotate(46 294.5 151.8)"/><rect x="294.0" y="145.2" width="4.4" height="2.1" fill="none" stroke="#a9b8ab" stroke-width="0.8" transform="rotate(154 296.2 146.3)"/><rect x="304.2" y="149.1" width="3.0" height="2.7" fill="none" stroke="#b8c6ba" stroke-width="0.8" transform="rotate(154 305.7 150.4)"/><rect x="303.3" y="148.6" width="4.4" height="2.2" fill="none" stroke="#d8e0d6" stroke-width="0.8" transform="rotate(46 305.5 149.7)"/><rect x="304.4" y="148.8" width="3.7" height="2.8" fill="none" stroke="#d8e0d6" stroke-width="0.8" transform="rotate(46 306.3 150.2)"/><rect x="298.6" y="154.1" width="5.2" height="2.8" fill="none" stroke="#d8e0d6" stroke-width="0.8" transform="rotate(46 301.2 155.5)"/><rect x="293.3" y="148.7" width="4.7" height="2.9" fill="none" stroke="#a9b8ab" stroke-width="0.8" transform="rotate(46 295.7 150.1)"/><rect x="302.6" y="151.7" width="4.6" height="2.0" fill="#b8c6ba" transform="rotate(46 304.9 152.8)"/><rect x="298.4" y="142.1" width="3.4" height="2.0" fill="#a9b8ab" transform="rotate(46 300.1 143.1)"/><rect x="296.5" y="149.9" width="5.4" height="2.5" fill="#a9b8ab" transform="rotate(46 299.2 151.2)"/><rect x="323.2" y="133.7" width="4.4" height="2.9" fill="#d8e0d6" transform="rotate(46 325.4 135.1)"/><rect x="323.4" y="132.7" width="4.7" height="3.0" fill="#c8d4c8" transform="rotate(154 325.8 134.2)"/><rect x="313.6" y="128.2" width="4.9" height="1.9" fill="#a9b8ab" transform="rotate(154 316.0 129.1)"/><rect x="324.8" y="128.7" width="4.3" height="2.2" fill="#a9b8ab" transform="rotate(154 326.9 129.8)"/><rect x="319.9" y="131.8" width="5.1" height="2.6" fill="#c8d4c8" transform="rotate(46 322.5 133.1)"/><rect x="315.8" y="126.5" width="5.1" height="2.7" fill="none" stroke="#b8c6ba" stroke-width="0.8" transform="rotate(46 318.4 127.9)"/><rect x="320.1" y="132.3" width="3.7" height="2.5" fill="#b8c6ba" transform="rotate(154 321.9 133.6)"/><rect x="323.0" y="124.1" width="3.9" height="2.3" fill="none" stroke="#d8e0d6" stroke-width="0.8" transform="rotate(46 325.0 125.3)"/><rect x="212.5" y="191.9" width="3.6" height="2.1" fill="none" stroke="#a9b8ab" stroke-width="0.8" transform="rotate(46 214.3 192.9)"/><rect x="211.7" y="191.1" width="3.3" height="2.6" fill="none" stroke="#b8c6ba" stroke-width="0.8" transform="rotate(46 213.4 192.4)"/><rect x="214.1" y="192.4" width="4.9" height="2.0" fill="#a9b8ab" transform="rotate(154 216.6 193.4)"/><rect x="213.7" y="186.7" width="4.7" height="1.8" fill="none" stroke="#c8d4c8" stroke-width="0.8" transform="rotate(46 216.0 187.6)"/><rect x="212.5" y="185.1" width="4.8" height="2.3" fill="none" stroke="#d8e0d6" stroke-width="0.8" transform="rotate(46 214.9 186.3)"/><rect x="214.6" y="188.7" width="4.4" height="1.9" fill="none" stroke="#a9b8ab" stroke-width="0.8" transform="rotate(46 216.8 189.7)"/><rect x="209.1" y="193.6" width="4.4" height="1.9" fill="#a9b8ab" transform="rotate(46 211.3 194.6)"/><rect x="216.6" y="191.0" width="3.9" height="1.9" fill="#d8e0d6" transform="rotate(46 218.5 192.0)"/><rect x="205.9" y="185.8" width="3.1" height="2.3" fill="none" stroke="#d8e0d6" stroke-width="0.8" transform="rotate(46 207.4 187.0)"/><rect x="209.2" y="192.1" width="5.3" height="2.0" fill="#d8e0d6" transform="rotate(154 211.9 193.1)"/><rect x="212.9" y="185.6" width="5.1" height="2.2" fill="#d8e0d6" transform="rotate(46 215.5 186.7)"/><rect x="221.9" y="193.8" width="4.4" height="2.6" fill="#a9b8ab" transform="rotate(154 224.1 195.1)"/><rect x="224.3" y="203.5" width="4.2" height="2.0" fill="none" stroke="#c8d4c8" stroke-width="0.8" transform="rotate(46 226.4 204.5)"/><rect x="220.7" y="194.3" width="4.6" height="2.3" fill="#a9b8ab" transform="rotate(154 223.0 195.5)"/><rect x="219.0" y="195.3" width="3.1" height="2.5" fill="none" stroke="#a9b8ab" stroke-width="0.8" transform="rotate(154 220.5 196.5)"/><rect x="219.9" y="192.0" width="4.8" height="2.9" fill="#c8d4c8" transform="rotate(46 222.3 193.5)"/><rect x="219.4" y="204.2" width="3.4" height="2.2" fill="#d8e0d6" transform="rotate(46 221.1 205.3)"/><rect x="219.1" y="198.7" width="4.3" height="2.3" fill="#b8c6ba" transform="rotate(46 221.3 199.9)"/><rect x="222.8" y="204.3" width="5.0" height="1.9" fill="#d8e0d6" transform="rotate(154 225.3 205.2)"/><rect x="272.3" y="239.4" width="4.6" height="2.2" fill="#c8d4c8" transform="rotate(46 274.6 240.5)"/><rect x="262.5" y="233.4" width="4.7" height="2.0" fill="none" stroke="#a9b8ab" stroke-width="0.8" transform="rotate(46 264.9 234.4)"/><rect x="266.2" y="232.1" width="3.7" height="2.1" fill="#b8c6ba" transform="rotate(154 268.1 233.1)"/><rect x="260.8" y="232.9" width="3.6" height="1.9" fill="#d8e0d6" transform="rotate(46 262.6 233.9)"/><rect x="265.6" y="231.7" width="4.4" height="2.6" fill="#c8d4c8" transform="rotate(154 267.8 233.0)"/><rect x="267.1" y="238.1" width="3.3" height="2.4" fill="#c8d4c8" transform="rotate(46 268.7 239.3)"/><rect x="272.2" y="239.4" width="4.1" height="2.6" fill="#b8c6ba" transform="rotate(46 274.3 240.7)"/><rect x="273.8" y="236.0" width="4.9" height="1.9" fill="none" stroke="#d8e0d6" stroke-width="0.8" transform="rotate(46 276.3 237.0)"/><rect x="265.3" y="239.3" width="4.1" height="1.9" fill="#c8d4c8" transform="rotate(46 267.4 240.3)"/><rect x="278.6" y="222.0" width="4.8" height="2.2" fill="#d8e0d6" transform="rotate(46 281.0 223.1)"/><rect x="285.4" y="226.9" width="3.6" height="2.1" fill="#d8e0d6" transform="rotate(46 287.2 228.0)"/><rect x="272.9" y="222.7" width="3.2" height="2.5" fill="none" stroke="#c8d4c8" stroke-width="0.8" transform="rotate(154 274.5 223.9)"/><rect x="284.6" y="229.5" width="3.9" height="2.6" fill="none" stroke="#a9b8ab" stroke-width="0.8" transform="rotate(46 286.6 230.9)"/><rect x="276.8" y="220.2" width="5.0" height="2.0" fill="#d8e0d6" transform="rotate(46 279.3 221.2)"/><rect x="276.0" y="230.3" width="4.5" height="2.1" fill="#d8e0d6" transform="rotate(154 278.3 231.4)"/><rect x="275.2" y="221.1" width="3.4" height="2.4" fill="none" stroke="#c8d4c8" stroke-width="0.8" transform="rotate(154 276.9 222.3)"/><rect x="277.5" y="228.5" width="4.5" height="2.8" fill="none" stroke="#a9b8ab" stroke-width="0.8" transform="rotate(154 279.7 229.9)"/><rect x="280.9" y="231.2" width="3.2" height="2.2" fill="#b8c6ba" transform="rotate(46 282.5 232.3)"/><rect x="276.9" y="220.6" width="3.9" height="2.4" fill="#a9b8ab" transform="rotate(46 278.9 221.8)"/><rect x="277.7" y="224.3" width="4.2" height="2.1" fill="#c8d4c8" transform="rotate(46 279.8 225.3)"/><rect x="283.8" y="227.6" width="4.0" height="1.9" fill="#d8e0d6" transform="rotate(154 285.8 228.5)"/><rect x="232.1" y="242.6" width="4.7" height="2.9" fill="#c8d4c8" transform="rotate(154 234.4 244.1)"/><rect x="229.0" y="247.3" width="4.6" height="2.2" fill="#b8c6ba" transform="rotate(46 231.3 248.4)"/><rect x="230.6" y="249.0" width="3.8" height="2.7" fill="none" stroke="#b8c6ba" stroke-width="0.8" transform="rotate(154 232.4 250.3)"/><rect x="229.9" y="243.9" width="3.2" height="2.2" fill="#a9b8ab" transform="rotate(46 231.4 245.0)"/><rect x="228.0" y="249.5" width="5.5" height="2.0" fill="none" stroke="#a9b8ab" stroke-width="0.8" transform="rotate(46 230.7 250.5)"/><rect x="223.6" y="244.1" width="5.3" height="2.5" fill="none" stroke="#d8e0d6" stroke-width="0.8" transform="rotate(46 226.3 245.3)"/><rect x="226.4" y="245.6" width="5.4" height="1.9" fill="#c8d4c8" transform="rotate(46 229.1 246.5)"/><rect x="227.5" y="240.8" width="4.2" height="3.0" fill="#c8d4c8" transform="rotate(154 229.6 242.3)"/><rect x="228.9" y="240.3" width="5.2" height="2.5" fill="none" stroke="#d8e0d6" stroke-width="0.8" transform="rotate(154 231.5 241.6)"/><rect x="227.8" y="236.5" width="4.1" height="2.9" fill="none" stroke="#c8d4c8" stroke-width="0.8" transform="rotate(46 229.9 237.9)"/><rect x="309.9" y="196.7" width="3.1" height="1.9" fill="#d8e0d6" transform="rotate(154 311.4 197.7)"/><rect x="307.2" y="197.0" width="4.6" height="1.8" fill="none" stroke="#c8d4c8" stroke-width="0.8" transform="rotate(46 309.5 197.9)"/><rect x="305.5" y="202.4" width="4.6" height="2.3" fill="none" stroke="#d8e0d6" stroke-width="0.8" transform="rotate(154 307.8 203.5)"/><rect x="310.9" y="207.9" width="3.2" height="2.5" fill="none" stroke="#a9b8ab" stroke-width="0.8" transform="rotate(154 312.6 209.1)"/><rect x="313.9" y="200.0" width="5.3" height="2.5" fill="none" stroke="#c8d4c8" stroke-width="0.8" transform="rotate(154 316.5 201.2)"/><rect x="309.0" y="206.9" width="3.4" height="1.8" fill="none" stroke="#c8d4c8" stroke-width="0.8" transform="rotate(46 310.7 207.8)"/><rect x="309.9" y="200.4" width="4.7" height="2.8" fill="none" stroke="#d8e0d6" stroke-width="0.8" transform="rotate(46 312.2 201.8)"/><rect x="307.9" y="205.8" width="4.2" height="1.8" fill="#a9b8ab" transform="rotate(154 310.0 206.8)"/><rect x="308.5" y="201.7" width="3.7" height="2.1" fill="#c8d4c8" transform="rotate(46 310.4 202.8)"/><rect x="313.3" y="205.0" width="5.5" height="2.1" fill="#c8d4c8" transform="rotate(154 316.0 206.1)"/><rect x="314.8" y="202.4" width="4.4" height="2.0" fill="#d8e0d6" transform="rotate(154 317.0 203.4)"/><rect x="317.7" y="201.0" width="5.2" height="2.8" fill="none" stroke="#c8d4c8" stroke-width="0.8" transform="rotate(154 320.3 202.4)"/><rect x="322.1" y="198.8" width="5.1" height="2.1" fill="#a9b8ab" transform="rotate(154 324.6 199.8)"/><rect x="314.6" y="196.9" width="3.3" height="2.7" fill="#a9b8ab" transform="rotate(46 316.2 198.2)"/><rect x="321.3" y="193.7" width="3.9" height="2.9" fill="none" stroke="#b8c6ba" stroke-width="0.8" transform="rotate(46 323.3 195.1)"/><rect x="313.4" y="193.1" width="3.6" height="2.2" fill="#a9b8ab" transform="rotate(46 315.2 194.2)"/><rect x="313.3" y="197.2" width="3.5" height="2.5" fill="#d8e0d6" transform="rotate(46 315.1 198.4)"/><rect x="318.9" y="192.4" width="3.2" height="1.8" fill="none" stroke="#b8c6ba" stroke-width="0.8" transform="rotate(154 320.5 193.3)"/><rect x="320.7" y="199.1" width="4.1" height="2.5" fill="#b8c6ba" transform="rotate(154 322.8 200.3)"/><rect x="333.3" y="179.0" width="5.2" height="2.0" fill="#d8e0d6" transform="rotate(154 335.8 180.0)"/><rect x="343.8" y="180.4" width="5.3" height="2.0" fill="none" stroke="#d8e0d6" stroke-width="0.8" transform="rotate(46 346.5 181.3)"/><rect x="333.3" y="176.5" width="3.2" height="2.2" fill="#a9b8ab" transform="rotate(154 334.9 177.6)"/><rect x="347.6" y="181.1" width="3.6" height="2.8" fill="none" stroke="#c8d4c8" stroke-width="0.8" transform="rotate(154 349.4 182.5)"/><rect x="337.8" y="180.0" width="4.7" height="2.7" fill="none" stroke="#d8e0d6" stroke-width="0.8" transform="rotate(46 340.2 181.3)"/><rect x="328.9" y="177.1" width="5.4" height="2.4" fill="#b8c6ba" transform="rotate(46 331.6 178.3)"/><rect x="332.1" y="176.7" width="4.3" height="1.9" fill="#a9b8ab" transform="rotate(46 334.2 177.6)"/><rect x="328.6" y="176.6" width="5.1" height="3.0" fill="none" stroke="#c8d4c8" stroke-width="0.8" transform="rotate(46 331.2 178.1)"/><rect x="337.6" y="174.7" width="3.2" height="1.9" fill="#a9b8ab" transform="rotate(46 339.2 175.6)"/><rect x="344.8" y="182.5" width="3.8" height="1.8" fill="#d8e0d6" transform="rotate(46 346.7 183.4)"/><rect x="334.4" y="183.0" width="5.2" height="2.7" fill="#d8e0d6" transform="rotate(46 337.0 184.3)"/><rect x="188.8" y="178.1" width="4.0" height="2.3" fill="none" stroke="#c8d4c8" stroke-width="0.8" transform="rotate(46 190.7 179.2)"/><rect x="177.7" y="176.1" width="4.7" height="2.7" fill="#b8c6ba" transform="rotate(154 180.1 177.4)"/><rect x="178.2" y="170.1" width="3.1" height="2.7" fill="#d8e0d6" transform="rotate(46 179.8 171.4)"/><rect x="180.7" y="174.0" width="4.1" height="2.5" fill="#a9b8ab" transform="rotate(46 182.8 175.3)"/><rect x="179.1" y="177.1" width="3.6" height="2.6" fill="none" stroke="#a9b8ab" stroke-width="0.8" transform="rotate(154 180.9 178.4)"/><rect x="174.2" y="171.7" width="3.7" height="2.6" fill="#c8d4c8" transform="rotate(154 176.0 173.0)"/><rect x="185.9" y="173.0" width="4.5" height="2.1" fill="#a9b8ab" transform="rotate(154 188.2 174.1)"/><rect x="180.4" y="172.4" width="4.4" height="3.0" fill="#d8e0d6" transform="rotate(46 182.6 173.9)"/><rect x="180.3" y="175.8" width="3.6" height="2.0" fill="none" stroke="#a9b8ab" stroke-width="0.8" transform="rotate(154 182.1 176.8)"/><rect x="244.3" y="143.2" width="5.3" height="2.2" fill="none" stroke="#a9b8ab" stroke-width="0.8" transform="rotate(46 246.9 144.3)"/><rect x="242.5" y="134.2" width="3.3" height="2.2" fill="#d8e0d6" transform="rotate(154 244.1 135.3)"/><rect x="239.3" y="134.0" width="5.5" height="2.6" fill="#a9b8ab" transform="rotate(46 242.0 135.3)"/><rect x="240.2" y="135.8" width="3.0" height="2.0" fill="#b8c6ba" transform="rotate(46 241.7 136.8)"/><rect x="240.4" y="140.5" width="3.6" height="2.5" fill="none" stroke="#d8e0d6" stroke-width="0.8" transform="rotate(46 242.2 141.7)"/><rect x="237.8" y="136.8" width="3.7" height="2.2" fill="none" stroke="#a9b8ab" stroke-width="0.8" transform="rotate(46 239.7 137.8)"/><rect x="241.0" y="142.0" width="3.5" height="2.3" fill="#d8e0d6" transform="rotate(154 242.7 143.2)"/><rect x="246.8" y="140.2" width="3.1" height="2.7" fill="#a9b8ab" transform="rotate(154 248.4 141.6)"/><rect x="247.5" y="141.2" width="4.0" height="2.5" fill="#b8c6ba" transform="rotate(154 249.5 142.4)"/><rect x="246.0" y="142.9" width="3.2" height="2.0" fill="#c8d4c8" transform="rotate(154 247.6 143.9)"/><rect x="241.4" y="137.5" width="4.2" height="2.9" fill="none" stroke="#c8d4c8" stroke-width="0.8" transform="rotate(154 243.6 138.9)"/><rect x="238.9" y="141.6" width="4.8" height="2.3" fill="#b8c6ba" transform="rotate(154 241.3 142.8)"/><rect x="250.2" y="201.3" width="4.9" height="1.8" fill="none" stroke="#b8c6ba" stroke-width="0.8" transform="rotate(46 252.7 202.2)"/><rect x="241.5" y="199.9" width="4.4" height="2.7" fill="none" stroke="#c8d4c8" stroke-width="0.8" transform="rotate(154 243.7 201.3)"/><rect x="251.2" y="207.7" width="3.0" height="2.4" fill="#b8c6ba" transform="rotate(154 252.7 208.9)"/><rect x="241.5" y="200.2" width="4.8" height="2.4" fill="#a9b8ab" transform="rotate(46 243.9 201.4)"/><rect x="245.9" y="199.6" width="3.1" height="2.6" fill="#b8c6ba" transform="rotate(46 247.4 200.9)"/><rect x="238.4" y="201.4" width="3.7" height="2.1" fill="#d8e0d6" transform="rotate(46 240.3 202.5)"/><rect x="246.5" y="201.1" width="5.2" height="2.6" fill="#b8c6ba" transform="rotate(46 249.1 202.5)"/><rect x="247.5" y="208.8" width="3.6" height="2.0" fill="#d8e0d6" transform="rotate(46 249.4 209.8)"/><rect x="247.7" y="206.2" width="3.4" height="2.9" fill="#a9b8ab" transform="rotate(46 249.4 207.6)"/><rect x="192.8" y="216.8" width="3.0" height="1.9" fill="none" stroke="#d8e0d6" stroke-width="0.8" transform="rotate(154 194.3 217.8)"/><rect x="191.1" y="210.8" width="3.5" height="2.1" fill="none" stroke="#a9b8ab" stroke-width="0.8" transform="rotate(154 192.9 211.9)"/><rect x="198.4" y="214.8" width="3.5" height="2.0" fill="none" stroke="#c8d4c8" stroke-width="0.8" transform="rotate(154 200.2 215.8)"/><rect x="200.6" y="215.5" width="4.5" height="2.0" fill="#b8c6ba" transform="rotate(154 202.8 216.5)"/><rect x="193.1" y="216.6" width="3.7" height="2.1" fill="#b8c6ba" transform="rotate(154 194.9 217.6)"/><rect x="194.8" y="216.2" width="4.2" height="2.0" fill="none" stroke="#c8d4c8" stroke-width="0.8" transform="rotate(46 196.9 217.2)"/><rect x="196.3" y="214.1" width="5.3" height="2.6" fill="#c8d4c8" transform="rotate(46 199.0 215.4)"/><rect x="192.8" y="208.3" width="4.1" height="2.7" fill="#d8e0d6" transform="rotate(154 194.8 209.6)"/><rect x="197.2" y="215.0" width="3.6" height="2.5" fill="none" stroke="#b8c6ba" stroke-width="0.8" transform="rotate(46 199.0 216.3)"/><rect x="189.4" y="208.7" width="4.6" height="2.1" fill="none" stroke="#c8d4c8" stroke-width="0.8" transform="rotate(46 191.7 209.7)"/><rect x="300.6" y="176.0" width="4.7" height="1.9" fill="#c8d4c8" transform="rotate(154 302.9 177.0)"/><rect x="293.5" y="171.9" width="4.3" height="1.9" fill="#c8d4c8" transform="rotate(46 295.6 172.9)"/><rect x="294.0" y="175.9" width="3.2" height="2.4" fill="none" stroke="#c8d4c8" stroke-width="0.8" transform="rotate(154 295.7 177.1)"/><rect x="294.6" y="174.6" width="4.9" height="2.9" fill="none" stroke="#d8e0d6" stroke-width="0.8" transform="rotate(46 297.0 176.0)"/><rect x="294.3" y="176.9" width="3.9" height="2.9" fill="none" stroke="#c8d4c8" stroke-width="0.8" transform="rotate(154 296.3 178.3)"/><rect x="296.8" y="172.3" width="3.8" height="2.2" fill="#d8e0d6" transform="rotate(46 298.7 173.4)"/><rect x="300.2" y="176.1" width="4.9" height="1.9" fill="#a9b8ab" transform="rotate(46 302.6 177.0)"/><rect x="340.7" y="159.4" width="4.0" height="2.6" fill="none" stroke="#d8e0d6" stroke-width="0.8" transform="rotate(46 342.7 160.8)"/><rect x="345.9" y="167.2" width="3.9" height="2.6" fill="#c8d4c8" transform="rotate(46 347.9 168.5)"/><rect x="350.1" y="167.7" width="3.4" height="1.9" fill="none" stroke="#c8d4c8" stroke-width="0.8" transform="rotate(154 351.8 168.7)"/><rect x="343.5" y="161.8" width="3.8" height="2.1" fill="#c8d4c8" transform="rotate(46 345.4 162.9)"/><rect x="347.7" y="161.1" width="4.0" height="2.0" fill="#b8c6ba" transform="rotate(46 349.7 162.2)"/><rect x="349.3" y="163.1" width="3.2" height="1.9" fill="#b8c6ba" transform="rotate(46 351.0 164.1)"/></g>
<g opacity="0.85"><rect x="262.2" y="70.9" width="6" height="2" fill="#c9d6c9" transform="rotate(46 265.2 71.9)"/><rect x="258.4" y="72.8" width="6" height="2" fill="#c9d6c9" transform="rotate(46 261.4 73.8)"/><rect x="254.5" y="74.7" width="6" height="2" fill="#c9d6c9" transform="rotate(46 257.5 75.7)"/><rect x="250.7" y="76.6" width="6" height="2" fill="#c9d6c9" transform="rotate(46 253.7 77.6)"/><rect x="246.8" y="78.5" width="6" height="2" fill="#c9d6c9" transform="rotate(46 249.8 79.5)"/><rect x="243.0" y="80.4" width="6" height="2" fill="#c9d6c9" transform="rotate(46 246.0 81.4)"/><rect x="239.1" y="82.3" width="6" height="2" fill="#c9d6c9" transform="rotate(46 242.1 83.3)"/></g>
<rect x="144" y="142" width="11" height="12" rx="2" fill="url(#post)"/>
<ellipse cx="149.5" cy="142.5" rx="5.5" ry="2.2" fill="#d6d3cc"/>
<rect x="320" y="154" width="11" height="11" rx="2" fill="#a89a88"/>
<ellipse cx="325.5" cy="154.5" rx="5.5" ry="2.2" fill="#d8cdbd"/>
<polygon points="230.9,167.1 262.8,148 283.1,176 251.3,195.1" fill="none" stroke="#dde82c" stroke-width="1.9"/>
<line x1="230.9" y1="167.1" x2="354.6" y2="34.5" stroke="#dde82c" stroke-width="1.9"/>
<line x1="283.1" y1="176" x2="354.6" y2="161" stroke="#dde82c" stroke-width="1.9"/>
<g transform="translate(353.6,33.9)"><rect x="0" y="0" width="129" height="128.2" fill="#0b7a3e"/><radialGradient id="i1g" cx="0.5" cy="0.5" r="0.7"><stop offset="0" stop-color="#0f8444" stop-opacity="0.6"/><stop offset="1" stop-color="#056a33" stop-opacity="0.6"/></radialGradient><rect x="0" y="0" width="129" height="128.2" fill="url(#i1g)"/><polyline points="0,28 16,28" stroke="#2f9f5e" stroke-width="1.3" fill="none"/><polyline points="111,28 129,28" stroke="#2f9f5e" stroke-width="1.3" fill="none"/><polyline points="3,6 15,19" stroke="#2f9f5e" stroke-width="1.3" fill="none"/><polyline points="34,80 52,92 82,92 95,80" stroke="#2f9f5e" stroke-width="1.3" fill="none"/><polyline points="66,95 66,107" stroke="#2f9f5e" stroke-width="1.3" fill="none"/><polyline points="48,124 42,129" stroke="#2f9f5e" stroke-width="1.3" fill="none"/><polyline points="86,48 97,60" stroke="#2f9f5e" stroke-width="1.3" fill="none"/><polyline points="37,37 37,62" stroke="#2f9f5e" stroke-width="1.3" fill="none"/><rect x="16" y="20" width="30.5" height="15.6" fill="none" stroke="#e8ece6" stroke-width="1.2"/><rect x="80" y="20" width="31.4" height="16" fill="none" stroke="#e8ece6" stroke-width="1.2"/><rect x="48" y="48.9" width="31.3" height="16" fill="none" stroke="#e8ece6" stroke-width="1.2"/><rect x="48" y="107.4" width="31.3" height="16.8" fill="none" stroke="#e8ece6" stroke-width="1.2"/><circle cx="23.2" cy="28" r="3.3" fill="#b8beb4"/><circle cx="23.2" cy="28" r="2.1" fill="#1a1a16"/><circle cx="37.7" cy="28" r="3.3" fill="#b8beb4"/><circle cx="37.7" cy="28" r="2.1" fill="#1a1a16"/><circle cx="87.4" cy="28.5" r="3.3" fill="#b8beb4"/><circle cx="87.4" cy="28.5" r="2.1" fill="#1a1a16"/><circle cx="102.6" cy="28.5" r="3.3" fill="#b8beb4"/><circle cx="102.6" cy="28.5" r="2.1" fill="#1a1a16"/><circle cx="55.8" cy="56.4" r="3.3" fill="#b8beb4"/><circle cx="55.8" cy="56.4" r="2.1" fill="#1a1a16"/><circle cx="70.5" cy="57.4" r="3.3" fill="#b8beb4"/><circle cx="70.5" cy="57.4" r="2.1" fill="#1a1a16"/><circle cx="55.8" cy="115.1" r="3.3" fill="#b8beb4"/><circle cx="55.8" cy="115.1" r="2.1" fill="#1a1a16"/><circle cx="70" cy="115.1" r="3.3" fill="#b8beb4"/><circle cx="70" cy="115.1" r="2.1" fill="#1a1a16"/><rect x="52" y="23.2" width="22.5" height="9.7" rx="1" fill="#c9bfb8"/><rect x="52" y="23.2" width="2.2" height="9.7" fill="#e2e0da"/><rect x="72.3" y="23.2" width="2.2" height="9.7" fill="#e2e0da"/><rect x="35.3" y="38.5" width="21.6" height="9.6" rx="1" fill="#c9bfb8"/><rect x="35.3" y="38.5" width="2.2" height="9.6" fill="#e2e0da"/><rect x="54.699999999999996" y="38.5" width="2.2" height="9.6" fill="#e2e0da"/><rect x="67.3" y="38.5" width="21.7" height="9.6" rx="1" fill="#c9bfb8"/><rect x="67.3" y="38.5" width="2.2" height="9.6" fill="#e2e0da"/><rect x="86.8" y="38.5" width="2.2" height="9.6" fill="#e2e0da"/><rect x="24" y="62.5" width="10.5" height="20.8" rx="1" fill="#c9bfb8"/><rect x="24" y="62.5" width="10.5" height="2.2" fill="#e2e0da"/><rect x="24" y="81.1" width="10.5" height="2.2" fill="#e2e0da"/><rect x="61" y="74.5" width="10.3" height="20.9" rx="1" fill="#c9bfb8"/><rect x="61" y="74.5" width="10.3" height="2.2" fill="#e2e0da"/><rect x="61" y="93.2" width="10.3" height="2.2" fill="#e2e0da"/><rect x="97.8" y="61.7" width="9.6" height="20.8" rx="1" fill="#c9bfb8"/><rect x="97.8" y="61.7" width="9.6" height="2.2" fill="#e2e0da"/><rect x="97.8" y="80.3" width="9.6" height="2.2" fill="#e2e0da"/><text x="16" y="17" font-size="4.6" font-family="Liberation Sans, sans-serif" font-weight="bold" fill="#e8eee8">P15</text><text x="51.5" y="19.5" font-size="4.6" font-family="Liberation Sans, sans-serif" font-weight="bold" fill="#e8eee8">Cbl 37</text><text x="80" y="17" font-size="4.6" font-family="Liberation Sans, sans-serif" font-weight="bold" fill="#e8eee8">PL7</text><text x="16.5" y="44.5" font-size="4.6" font-family="Liberation Sans, sans-serif" font-weight="bold" fill="#e8eee8">Cbl 38</text><text x="95" y="43.5" font-size="4.6" font-family="Liberation Sans, sans-serif" font-weight="bold" fill="#e8eee8">Cbl 25</text><text x="24" y="58.5" font-size="4.6" font-family="Liberation Sans, sans-serif" font-weight="bold" fill="#e8eee8">Cbl 26</text><text x="81.5" y="59.5" font-size="4.6" font-family="Liberation Sans, sans-serif" font-weight="bold" fill="#e8eee8">PL4</text><text x="97" y="58.5" font-size="4.6" font-family="Liberation Sans, sans-serif" font-weight="bold" fill="#e8eee8">Cbl 27</text><text x="60.5" y="70.5" font-size="4.6" font-family="Liberation Sans, sans-serif" font-weight="bold" fill="#e8eee8">Cbl 21</text><text x="49" y="104.5" font-size="4.6" font-family="Liberation Sans, sans-serif" font-weight="bold" fill="#e8eee8">R7</text><ellipse cx="102.6" cy="72.1" rx="7.2" ry="12" fill="none" stroke="#e4ee20" stroke-width="1.4"/><text x="91" y="101.8" font-size="20" font-family="Liberation Serif, serif" fill="#e4ee20">Cb</text><rect x="0.8" y="0.8" width="127.4" height="126.6" fill="none" stroke="#e4ee20" stroke-width="2"/></g>
<g transform="translate(353.6,260)"><rect x="0" y="0" width="130" height="128.5" fill="#0a7038"/><linearGradient id="i2g" x1="0" y1="0" x2="1" y2="1"><stop offset="0" stop-color="#0b6f38"/><stop offset="0.6" stop-color="#0a7a3d"/><stop offset="1" stop-color="#066530"/></linearGradient><rect x="0" y="0" width="130" height="128.5" fill="url(#i2g)"/><path d="M3,20 L14,9 L36,9 L48,20 L75,20 L82,13 L108,13 L118,24 L130,24" stroke="#2a9657" stroke-width="1.2" fill="none"/><path d="M3,20 L3,56 L20,56" stroke="#2a9657" stroke-width="1.2" fill="none"/><path d="M78,56 L78,128" stroke="#2a9657" stroke-width="1.2" fill="none"/><path d="M100,40 L108,44 L130,44" stroke="#2a9657" stroke-width="1.2" fill="none"/><path d="M25,128 L38,118" stroke="#2a9657" stroke-width="1.2" fill="none"/><rect x="26.0" y="20.9" width="26.9" height="13.899999999999999" fill="#d9d6cf"/><rect x="28.5" y="17.9" width="21.9" height="19.9" rx="1.5" fill="#7d6f69"/><rect x="30.5" y="19.9" width="17.9" height="15.899999999999999" fill="#8e817a"/><text x="39.45" y="30.349999999999998" font-size="7" text-anchor="middle" font-family="Liberation Sans, sans-serif" fill="#4a3e3a">100</text><rect x="75.6" y="20.1" width="26.9" height="14.3" fill="#d9d6cf"/><rect x="78.1" y="17.1" width="21.9" height="20.3" rx="1.5" fill="#7d6f69"/><rect x="80.1" y="19.1" width="17.9" height="16.3" fill="#8e817a"/><text x="89.05" y="29.75" font-size="7" text-anchor="middle" font-family="Liberation Sans, sans-serif" fill="#4a3e3a">100</text><rect x="48.8" y="86.6" width="29.4" height="17" fill="#d9d6cf"/><rect x="51.3" y="83.6" width="24.4" height="23" rx="1.5" fill="#7d6f69"/><rect x="53.3" y="85.6" width="20.4" height="19" fill="#8e817a"/><text x="63.5" y="97.6" font-size="7" text-anchor="middle" font-family="Liberation Sans, sans-serif" fill="#4a3e3a">100</text><rect x="11.4" y="32.5" width="8.1" height="15.5" rx="1" fill="#c2b8b2"/><rect x="11.4" y="32.5" width="8.1" height="2" fill="#e0ddd7"/><rect x="61.8" y="32.5" width="8.1" height="14" rx="1" fill="#c2b8b2"/><rect x="61.8" y="32.5" width="8.1" height="2" fill="#e0ddd7"/><rect x="38.2" y="100.8" width="7.3" height="17.9" rx="1" fill="#c2b8b2"/><rect x="38.2" y="100.8" width="7.3" height="2" fill="#e0ddd7"/><rect x="125" y="30" width="5" height="16" rx="1" fill="#c2b8b2"/><rect x="125" y="30" width="5" height="2" fill="#e0ddd7"/><rect x="29.6" y="47.9" width="6" height="6" fill="#c9cdc4"/><circle cx="32.6" cy="50.9" r="1.7" fill="#1b1b18"/><rect x="41.1" y="47.9" width="6" height="6" fill="#c9cdc4"/><circle cx="44.1" cy="50.9" r="1.7" fill="#1b1b18"/><rect x="79.9" y="47" width="6" height="6" fill="#c9cdc4"/><circle cx="82.9" cy="50" r="1.7" fill="#1b1b18"/><rect x="91.4" y="47" width="6" height="6" fill="#c9cdc4"/><circle cx="94.4" cy="50" r="1.7" fill="#1b1b18"/><rect x="54.4" y="70.1" width="6" height="6" fill="#c9cdc4"/><circle cx="57.4" cy="73.1" r="1.7" fill="#1b1b18"/><rect x="65.7" y="70.1" width="6" height="6" fill="#c9cdc4"/><circle cx="68.7" cy="73.1" r="1.7" fill="#1b1b18"/><rect x="54.4" y="115.8" width="6" height="6" fill="#c9cdc4"/><circle cx="57.4" cy="118.8" r="1.7" fill="#1b1b18"/><rect x="65.7" y="115.8" width="6" height="6" fill="#c9cdc4"/><circle cx="68.7" cy="118.8" r="1.7" fill="#1b1b18"/><text x="9" y="30" font-size="3.8" font-family="Liberation Sans, sans-serif" font-weight="bold" fill="#e8eee8">Cal39</text><text x="30" y="16" font-size="3.8" font-family="Liberation Sans, sans-serif" font-weight="bold" fill="#e8eee8">L72</text><text x="61" y="31" font-size="3.8" font-family="Liberation Sans, sans-serif" font-weight="bold" fill="#e8eee8">Ca</text><text x="34" y="99" font-size="3.8" font-family="Liberation Sans, sans-serif" font-weight="bold" fill="#e8eee8">Cal38</text><text x="53" y="82" font-size="3.8" font-family="Liberation Sans, sans-serif" font-weight="bold" fill="#e8eee8">L2</text><text x="101" y="34" font-size="7" font-family="Liberation Sans, sans-serif" fill="#c8d8c8">3</text><ellipse cx="65.9" cy="40.7" rx="6.5" ry="12.2" fill="none" stroke="#e4ee20" stroke-width="1.4"/><ellipse cx="66.7" cy="98.4" rx="17" ry="17.3" fill="none" stroke="#e4ee20" stroke-width="1.4"/><text x="71" y="65.5" font-size="20" font-family="Liberation Serif, serif" fill="#e4ee20">Ca</text><text x="87.5" y="111" font-size="20" font-family="Liberation Serif, serif" fill="#e4ee20">L</text><rect x="0.8" y="0.8" width="128.4" height="126.9" fill="none" stroke="#e4ee20" stroke-width="1.6" stroke-dasharray="1.5 1"/></g>
</g>
<polyline points="639.2,321.8 643.3,314.2 647.5,306.8 651.6,299.6 655.8,292.6 659.9,285.7 664.1,279.1 668.2,272.6 672.4,266.2 676.5,260.0 680.7,253.9 684.8,248.0 689.0,242.1 693.1,236.4 697.3,230.8 701.4,225.3 705.6,219.8 709.7,214.5 713.9,209.3 718.0,204.1 722.2,199.0 726.3,194.0 730.5,189.1 734.6,184.2 738.8,179.4 742.9,174.7 747.1,170.0 751.2,165.4 755.4,160.8 759.5,156.3 763.6,151.9 767.8,147.5 771.9,143.1 776.1,138.8 780.2,134.5 784.4,130.3 788.5,126.1 792.7,121.9 796.8,117.8 801.0,113.7 805.1,109.7 809.3,105.7 813.4,101.7 817.6,97.8 821.7,93.9 825.9,90.0 830.0,86.1 834.2,82.3 838.3,78.5 842.5,74.7 846.6,70.9 850.8,67.2 854.9,63.5 859.1,59.8 863.2,56.2 867.4,52.5 871.5,48.9 875.7,45.3 879.8,41.7 884.0,38.2 888.1,34.6 892.2,31.1 896.4,27.6 900.5,24.1 904.7,20.6 908.8,17.1 913.0,13.7 917.1,10.3 921.3,6.9 925.4,3.5 929.6,0.1 933.7,-3.3 937.9,-6.7 942.0,-10.0 946.2,-13.3 950.3,-16.7 954.5,-20.0 958.6,-23.3 962.8,-26.6 966.9,-29.8 971.1,-33.1 975.2,-36.4 979.4,-39.6 983.5,-42.8 987.7,-46.1 991.8,-49.3 996.0,-52.5 1000.1,-55.7 1004.3,-58.9 1008.4,-62.1" fill="none" stroke="#111111" stroke-width="1.15" stroke-linejoin="round" clip-path="url(#clipb)"/>
<polyline points="639.2,322.5 643.3,314.9 647.5,307.6 651.6,300.4 655.8,293.4 659.9,286.6 664.1,280.0 668.2,273.5 672.4,267.2 676.5,261.0 680.7,254.9 684.8,249.0 689.0,243.2 693.1,237.5 697.3,231.9 701.4,226.4 705.6,221.0 709.7,215.7 713.9,210.5 718.0,205.3 722.2,200.3 726.3,195.3 730.5,190.4 734.6,185.5 738.8,180.7 742.9,176.0 747.1,171.4 751.2,166.8 755.4,162.2 759.5,157.7 763.6,153.3 767.8,148.9 771.9,144.5 776.1,140.2 780.2,136.0 784.4,131.8 788.5,127.6 792.7,123.5 796.8,119.4 801.0,115.3 805.1,111.3 809.3,107.3 813.4,103.3 817.6,99.4 821.7,95.5 825.9,91.6 830.0,87.8 834.2,84.0 838.3,80.2 842.5,76.4 846.6,72.7 850.8,69.0 854.9,65.3 859.1,61.6 863.2,57.9 867.4,54.3 871.5,50.7 875.7,47.1 879.8,43.6 884.0,40.0 888.1,36.5 892.2,33.0 896.4,29.5 900.5,26.0 904.7,22.5 908.8,19.1 913.0,15.6 917.1,12.2 921.3,8.8 925.4,5.4 929.6,2.1 933.7,-1.3 937.9,-4.6 942.0,-8.0 946.2,-11.3 950.3,-14.6 954.5,-17.9 958.6,-21.2 962.8,-24.5 966.9,-27.7 971.1,-31.0 975.2,-34.2 979.4,-37.5 983.5,-40.7 987.7,-43.9 991.8,-47.1 996.0,-50.3 1000.1,-53.5 1004.3,-56.7 1008.4,-59.8" fill="none" stroke="#111111" stroke-width="1.15" stroke-linejoin="round" clip-path="url(#clipb)"/>
<polyline points="639.2,323.0 643.3,315.4 647.5,308.1 651.6,300.9 655.8,294.0 659.9,287.2 664.1,280.6 668.2,274.1 672.4,267.8 676.5,261.6 680.7,255.6 684.8,249.7 689.0,243.9 693.1,238.2 697.3,232.6 701.4,227.1 705.6,221.7 709.7,216.5 713.9,211.2 718.0,206.1 722.2,201.1 726.3,196.1 730.5,191.2 734.6,186.4 738.8,181.6 742.9,176.9 747.1,172.2 751.2,167.7 755.4,163.1 759.5,158.7 763.6,154.2 767.8,149.8 771.9,145.5 776.1,141.2 780.2,137.0 784.4,132.8 788.5,128.6 792.7,124.5 796.8,120.4 801.0,116.3 805.1,112.3 809.3,108.3 813.4,104.4 817.6,100.5 821.7,96.6 825.9,92.7 830.0,88.9 834.2,85.1 838.3,81.3 842.5,77.5 846.6,73.8 850.8,70.1 854.9,66.4 859.1,62.8 863.2,59.1 867.4,55.5 871.5,51.9 875.7,48.3 879.8,44.8 884.0,41.2 888.1,37.7 892.2,34.2 896.4,30.7 900.5,27.3 904.7,23.8 908.8,20.4 913.0,16.9 917.1,13.5 921.3,10.1 925.4,6.8 929.6,3.4 933.7,0.0 937.9,-3.3 942.0,-6.6 946.2,-9.9 950.3,-13.2 954.5,-16.5 958.6,-19.8 962.8,-23.1 966.9,-26.3 971.1,-29.6 975.2,-32.8 979.4,-36.0 983.5,-39.3 987.7,-42.5 991.8,-45.7 996.0,-48.8 1000.1,-52.0 1004.3,-55.2 1008.4,-58.3" fill="none" stroke="#111111" stroke-width="1.15" stroke-linejoin="round" clip-path="url(#clipb)"/>
<polyline points="639.2,323.7 643.3,316.2 647.5,308.9 651.6,301.8 655.8,294.9 659.9,288.1 664.1,281.5 668.2,275.1 672.4,268.8 676.5,262.6 680.7,256.6 684.8,250.7 689.0,245.0 693.1,239.3 697.3,233.7 701.4,228.3 705.6,222.9 709.7,217.6 713.9,212.4 718.0,207.3 722.2,202.3 726.3,197.4 730.5,192.5 734.6,187.7 738.8,182.9 742.9,178.2 747.1,173.6 751.2,169.0 755.4,164.5 759.5,160.1 763.6,155.7 767.8,151.3 771.9,147.0 776.1,142.7 780.2,138.5 784.4,134.3 788.5,130.1 792.7,126.0 796.8,122.0 801.0,117.9 805.1,113.9 809.3,110.0 813.4,106.0 817.6,102.1 821.7,98.2 825.9,94.4 830.0,90.6 834.2,86.8 838.3,83.0 842.5,79.3 846.6,75.6 850.8,71.9 854.9,68.2 859.1,64.6 863.2,60.9 867.4,57.3 871.5,53.8 875.7,50.2 879.8,46.6 884.0,43.1 888.1,39.6 892.2,36.1 896.4,32.7 900.5,29.2 904.7,25.8 908.8,22.3 913.0,18.9 917.1,15.5 921.3,12.1 925.4,8.8 929.6,5.4 933.7,2.1 937.9,-1.2 942.0,-4.5 946.2,-7.8 950.3,-11.1 954.5,-14.4 958.6,-17.7 962.8,-20.9 966.9,-24.2 971.1,-27.4 975.2,-30.6 979.4,-33.8 983.5,-37.0 987.7,-40.2 991.8,-43.4 996.0,-46.6 1000.1,-49.8 1004.3,-52.9 1008.4,-56.1" fill="none" stroke="#111111" stroke-width="1.15" stroke-linejoin="round" clip-path="url(#clipb)"/>
<polyline points="639.2,324.6 643.3,317.1 647.5,309.8 651.6,302.7 655.8,295.8 659.9,289.1 664.1,282.5 668.2,276.1 672.4,269.8 676.5,263.7 680.7,257.7 684.8,251.9 689.0,246.1 693.1,240.5 697.3,234.9 701.4,229.5 705.6,224.2 709.7,218.9 713.9,213.7 718.0,208.7 722.2,203.7 726.3,198.7 730.5,193.9 734.6,189.1 738.8,184.3 742.9,179.7 747.1,175.1 751.2,170.5 755.4,166.0 759.5,161.6 763.6,157.2 767.8,152.9 771.9,148.6 776.1,144.3 780.2,140.1 784.4,135.9 788.5,131.8 792.7,127.7 796.8,123.7 801.0,119.6 805.1,115.6 809.3,111.7 813.4,107.8 817.6,103.9 821.7,100.0 825.9,96.2 830.0,92.4 834.2,88.6 838.3,84.9 842.5,81.2 846.6,77.5 850.8,73.8 854.9,70.1 859.1,66.5 863.2,62.9 867.4,59.3 871.5,55.7 875.7,52.2 879.8,48.7 884.0,45.2 888.1,41.7 892.2,38.2 896.4,34.7 900.5,31.3 904.7,27.9 908.8,24.5 913.0,21.1 917.1,17.7 921.3,14.3 925.4,11.0 929.6,7.6 933.7,4.3 937.9,1.0 942.0,-2.3 946.2,-5.6 950.3,-8.9 954.5,-12.1 958.6,-15.4 962.8,-18.6 966.9,-21.9 971.1,-25.1 975.2,-28.3 979.4,-31.5 983.5,-34.7 987.7,-37.8 991.8,-41.0 996.0,-44.2 1000.1,-47.3 1004.3,-50.5 1008.4,-53.6" fill="none" stroke="#111111" stroke-width="1.15" stroke-linejoin="round" clip-path="url(#clipb)"/>
<polyline points="639.2,325.2 643.3,317.7 647.5,310.5 651.6,303.4 655.8,296.5 659.9,289.8 664.1,283.3 668.2,276.9 672.4,270.7 676.5,264.6 680.7,258.6 684.8,252.8 689.0,247.0 693.1,241.4 697.3,235.9 701.4,230.5 705.6,225.2 709.7,219.9 713.9,214.8 718.0,209.7 722.2,204.7 726.3,199.8 730.5,195.0 734.6,190.2 738.8,185.5 742.9,180.8 747.1,176.2 751.2,171.7 755.4,167.2 759.5,162.8 763.6,158.4 767.8,154.1 771.9,149.8 776.1,145.6 780.2,141.4 784.4,137.2 788.5,133.1 792.7,129.0 796.8,125.0 801.0,121.0 805.1,117.0 809.3,113.1 813.4,109.2 817.6,105.3 821.7,101.5 825.9,97.6 830.0,93.9 834.2,90.1 838.3,86.4 842.5,82.7 846.6,79.0 850.8,75.3 854.9,71.7 859.1,68.1 863.2,64.5 867.4,60.9 871.5,57.3 875.7,53.8 879.8,50.3 884.0,46.8 888.1,43.3 892.2,39.8 896.4,36.4 900.5,33.0 904.7,29.5 908.8,26.1 913.0,22.8 917.1,19.4 921.3,16.0 925.4,12.7 929.6,9.4 933.7,6.1 937.9,2.8 942.0,-0.5 946.2,-3.8 950.3,-7.1 954.5,-10.3 958.6,-13.5 962.8,-16.8 966.9,-20.0 971.1,-23.2 975.2,-26.4 979.4,-29.6 983.5,-32.8 987.7,-35.9 991.8,-39.1 996.0,-42.2 1000.1,-45.4 1004.3,-48.5 1008.4,-51.6" fill="none" stroke="#111111" stroke-width="1.15" stroke-linejoin="round" clip-path="url(#clipb)"/>
<polyline points="639.2,325.6 643.3,318.1 647.5,310.9 651.6,303.8 655.8,296.9 659.9,290.2 664.1,283.7 668.2,277.3 672.4,271.1 676.5,265.0 680.7,259.1 684.8,253.2 689.0,247.5 693.1,241.9 697.3,236.4 701.4,231.0 705.6,225.7 709.7,220.4 713.9,215.3 718.0,210.3 722.2,205.3 726.3,200.4 730.5,195.5 734.6,190.8 738.8,186.1 742.9,181.4 747.1,176.8 751.2,172.3 755.4,167.8 759.5,163.4 763.6,159.1 767.8,154.7 771.9,150.5 776.1,146.2 780.2,142.0 784.4,137.9 788.5,133.8 792.7,129.7 796.8,125.7 801.0,121.7 805.1,117.7 809.3,113.8 813.4,109.9 817.6,106.0 821.7,102.2 825.9,98.4 830.0,94.6 834.2,90.9 838.3,87.1 842.5,83.4 846.6,79.7 850.8,76.1 854.9,72.5 859.1,68.8 863.2,65.3 867.4,61.7 871.5,58.1 875.7,54.6 879.8,51.1 884.0,47.6 888.1,44.1 892.2,40.7 896.4,37.2 900.5,33.8 904.7,30.4 908.8,27.0 913.0,23.6 917.1,20.3 921.3,16.9 925.4,13.6 929.6,10.3 933.7,7.0 937.9,3.7 942.0,0.4 946.2,-2.9 950.3,-6.1 954.5,-9.4 958.6,-12.6 962.8,-15.8 966.9,-19.0 971.1,-22.2 975.2,-25.4 979.4,-28.6 983.5,-31.8 987.7,-34.9 991.8,-38.1 996.0,-41.2 1000.1,-44.4 1004.3,-47.5 1008.4,-50.6" fill="none" stroke="#111111" stroke-width="1.15" stroke-linejoin="round" clip-path="url(#clipb)"/>
<polyline points="639.2,326.3 643.3,318.8 647.5,311.6 651.6,304.6 655.8,297.7 659.9,291.1 664.1,284.6 668.2,278.2 672.4,272.0 676.5,265.9 680.7,260.0 684.8,254.2 689.0,248.5 693.1,242.9 697.3,237.4 701.4,232.0 705.6,226.7 709.7,221.5 713.9,216.4 718.0,211.3 722.2,206.4 726.3,201.5 730.5,196.7 734.6,191.9 738.8,187.2 742.9,182.6 747.1,178.0 751.2,173.5 755.4,169.1 759.5,164.7 763.6,160.3 767.8,156.0 771.9,151.8 776.1,147.5 780.2,143.4 784.4,139.2 788.5,135.2 792.7,131.1 796.8,127.1 801.0,123.1 805.1,119.1 809.3,115.2 813.4,111.4 817.6,107.5 821.7,103.7 825.9,99.9 830.0,96.1 834.2,92.4 838.3,88.7 842.5,85.0 846.6,81.3 850.8,77.7 854.9,74.0 859.1,70.4 863.2,66.9 867.4,63.3 871.5,59.8 875.7,56.3 879.8,52.8 884.0,49.3 888.1,45.8 892.2,42.4 896.4,39.0 900.5,35.6 904.7,32.2 908.8,28.8 913.0,25.4 917.1,22.1 921.3,18.7 925.4,15.4 929.6,12.1 933.7,8.8 937.9,5.5 942.0,2.3 946.2,-1.0 950.3,-4.2 954.5,-7.5 958.6,-10.7 962.8,-13.9 966.9,-17.1 971.1,-20.3 975.2,-23.5 979.4,-26.6 983.5,-29.8 987.7,-32.9 991.8,-36.1 996.0,-39.2 1000.1,-42.3 1004.3,-45.4 1008.4,-48.5" fill="none" stroke="#111111" stroke-width="1.15" stroke-linejoin="round" clip-path="url(#clipb)"/>
<polyline points="639.2,326.9 643.3,319.4 647.5,312.2 651.6,305.2 655.8,298.4 659.9,291.8 664.1,285.3 668.2,278.9 672.4,272.7 676.5,266.7 680.7,260.8 684.8,255.0 689.0,249.3 693.1,243.7 697.3,238.2 701.4,232.9 705.6,227.6 709.7,222.4 713.9,217.3 718.0,212.3 722.2,207.3 726.3,202.4 730.5,197.6 734.6,192.9 738.8,188.2 742.9,183.6 747.1,179.1 751.2,174.6 755.4,170.1 759.5,165.7 763.6,161.4 767.8,157.1 771.9,152.9 776.1,148.7 780.2,144.5 784.4,140.4 788.5,136.3 792.7,132.3 796.8,128.3 801.0,124.3 805.1,120.4 809.3,116.5 813.4,112.6 817.6,108.7 821.7,104.9 825.9,101.1 830.0,97.4 834.2,93.7 838.3,90.0 842.5,86.3 846.6,82.6 850.8,79.0 854.9,75.4 859.1,71.8 863.2,68.2 867.4,64.7 871.5,61.2 875.7,57.7 879.8,54.2 884.0,50.7 888.1,47.3 892.2,43.8 896.4,40.4 900.5,37.0 904.7,33.6 908.8,30.3 913.0,26.9 917.1,23.6 921.3,20.3 925.4,17.0 929.6,13.7 933.7,10.4 937.9,7.1 942.0,3.9 946.2,0.6 950.3,-2.6 954.5,-5.8 958.6,-9.1 962.8,-12.3 966.9,-15.4 971.1,-18.6 975.2,-21.8 979.4,-24.9 983.5,-28.1 987.7,-31.2 991.8,-34.4 996.0,-37.5 1000.1,-40.6 1004.3,-43.7 1008.4,-46.8" fill="none" stroke="#111111" stroke-width="1.15" stroke-linejoin="round" clip-path="url(#clipb)"/>
<polyline points="639.2,327.7 643.3,320.3 647.5,313.1 651.6,306.1 655.8,299.3 659.9,292.7 664.1,286.2 668.2,279.9 672.4,273.8 676.5,267.7 680.7,261.8 684.8,256.1 689.0,250.4 693.1,244.8 697.3,239.4 701.4,234.0 705.6,228.8 709.7,223.6 713.9,218.5 718.0,213.5 722.2,208.6 726.3,203.7 730.5,199.0 734.6,194.2 738.8,189.6 742.9,185.0 747.1,180.5 751.2,176.0 755.4,171.6 759.5,167.2 763.6,162.9 767.8,158.6 771.9,154.4 776.1,150.2 780.2,146.0 784.4,141.9 788.5,137.9 792.7,133.9 796.8,129.9 801.0,125.9 805.1,122.0 809.3,118.1 813.4,114.3 817.6,110.4 821.7,106.6 825.9,102.9 830.0,99.1 834.2,95.4 838.3,91.7 842.5,88.1 846.6,84.4 850.8,80.8 854.9,77.2 859.1,73.7 863.2,70.1 867.4,66.6 871.5,63.1 875.7,59.6 879.8,56.1 884.0,52.7 888.1,49.2 892.2,45.8 896.4,42.4 900.5,39.0 904.7,35.7 908.8,32.3 913.0,29.0 917.1,25.7 921.3,22.4 925.4,19.1 929.6,15.8 933.7,12.5 937.9,9.3 942.0,6.0 946.2,2.8 950.3,-0.4 954.5,-3.6 958.6,-6.8 962.8,-10.0 966.9,-13.2 971.1,-16.4 975.2,-19.5 979.4,-22.7 983.5,-25.8 987.7,-28.9 991.8,-32.0 996.0,-35.1 1000.1,-38.2 1004.3,-41.3 1008.4,-44.4" fill="none" stroke="#111111" stroke-width="1.15" stroke-linejoin="round" clip-path="url(#clipb)"/>
<polyline points="639.2,328.2 643.3,320.8 647.5,313.6 651.6,306.7 655.8,299.9 659.9,293.3 664.1,286.8 668.2,280.5 672.4,274.4 676.5,268.4 680.7,262.5 684.8,256.7 689.0,251.1 693.1,245.5 697.3,240.1 701.4,234.7 705.6,229.5 709.7,224.3 713.9,219.3 718.0,214.3 722.2,209.4 726.3,204.5 730.5,199.7 734.6,195.0 738.8,190.4 742.9,185.8 747.1,181.3 751.2,176.8 755.4,172.4 759.5,168.0 763.6,163.7 767.8,159.5 771.9,155.3 776.1,151.1 780.2,147.0 784.4,142.9 788.5,138.8 792.7,134.8 796.8,130.8 801.0,126.9 805.1,123.0 809.3,119.1 813.4,115.2 817.6,111.4 821.7,107.6 825.9,103.9 830.0,100.2 834.2,96.5 838.3,92.8 842.5,89.1 846.6,85.5 850.8,81.9 854.9,78.3 859.1,74.8 863.2,71.2 867.4,67.7 871.5,64.2 875.7,60.7 879.8,57.3 884.0,53.8 888.1,50.4 892.2,47.0 896.4,43.6 900.5,40.2 904.7,36.9 908.8,33.5 913.0,30.2 917.1,26.9 921.3,23.6 925.4,20.3 929.6,17.0 933.7,13.8 937.9,10.5 942.0,7.3 946.2,4.1 950.3,0.9 954.5,-2.3 958.6,-5.5 962.8,-8.7 966.9,-11.9 971.1,-15.0 975.2,-18.2 979.4,-21.3 983.5,-24.4 987.7,-27.5 991.8,-30.6 996.0,-33.7 1000.1,-36.8 1004.3,-39.9 1008.4,-43.0" fill="none" stroke="#111111" stroke-width="1.15" stroke-linejoin="round" clip-path="url(#clipb)"/>
<polyline points="639.2,329.0 643.3,321.7 647.5,314.5 651.6,307.6 655.8,300.8 659.9,294.2 664.1,287.8 668.2,281.5 672.4,275.4 676.5,269.4 680.7,263.5 684.8,257.8 689.0,252.2 693.1,246.7 697.3,241.2 701.4,235.9 705.6,230.7 709.7,225.6 713.9,220.5 718.0,215.5 722.2,210.6 726.3,205.8 730.5,201.1 734.6,196.4 738.8,191.7 742.9,187.2 747.1,182.7 751.2,178.2 755.4,173.8 759.5,169.5 763.6,165.2 767.8,161.0 771.9,156.8 776.1,152.6 780.2,148.5 784.4,144.4 788.5,140.4 792.7,136.4 796.8,132.4 801.0,128.5 805.1,124.6 809.3,120.7 813.4,116.9 817.6,113.1 821.7,109.4 825.9,105.6 830.0,101.9 834.2,98.2 838.3,94.6 842.5,90.9 846.6,87.3 850.8,83.7 854.9,80.2 859.1,76.6 863.2,73.1 867.4,69.6 871.5,66.1 875.7,62.6 879.8,59.2 884.0,55.8 888.1,52.4 892.2,49.0 896.4,45.6 900.5,42.2 904.7,38.9 908.8,35.6 913.0,32.3 917.1,29.0 921.3,25.7 925.4,22.4 929.6,19.2 933.7,15.9 937.9,12.7 942.0,9.5 946.2,6.3 950.3,3.1 954.5,-0.1 958.6,-3.3 962.8,-6.5 966.9,-9.6 971.1,-12.7 975.2,-15.9 979.4,-19.0 983.5,-22.1 987.7,-25.2 991.8,-28.3 996.0,-31.4 1000.1,-34.4 1004.3,-37.5 1008.4,-40.6" fill="none" stroke="#111111" stroke-width="1.15" stroke-linejoin="round" clip-path="url(#clipb)"/>
<polyline points="639.2,329.7 643.3,322.4 647.5,315.3 651.6,308.4 655.8,301.6 659.9,295.1 664.1,288.7 668.2,282.4 672.4,276.3 676.5,270.3 680.7,264.5 684.8,258.8 689.0,253.1 693.1,247.6 697.3,242.2 701.4,236.9 705.6,231.7 709.7,226.6 713.9,221.6 718.0,216.6 722.2,211.7 726.3,206.9 730.5,202.2 734.6,197.5 738.8,192.9 742.9,188.4 747.1,183.9 751.2,179.5 755.4,175.1 759.5,170.8 763.6,166.5 767.8,162.2 771.9,158.1 776.1,153.9 780.2,149.8 784.4,145.8 788.5,141.7 792.7,137.8 796.8,133.8 801.0,129.9 805.1,126.0 809.3,122.2 813.4,118.4 817.6,114.6 821.7,110.8 825.9,107.1 830.0,103.4 834.2,99.7 838.3,96.1 842.5,92.5 846.6,88.9 850.8,85.3 854.9,81.8 859.1,78.2 863.2,74.7 867.4,71.2 871.5,67.8 875.7,64.3 879.8,60.9 884.0,57.5 888.1,54.1 892.2,50.7 896.4,47.3 900.5,44.0 904.7,40.7 908.8,37.4 913.0,34.1 917.1,30.8 921.3,27.5 925.4,24.3 929.6,21.0 933.7,17.8 937.9,14.6 942.0,11.4 946.2,8.2 950.3,5.0 954.5,1.8 958.6,-1.3 962.8,-4.5 966.9,-7.6 971.1,-10.8 975.2,-13.9 979.4,-17.0 983.5,-20.1 987.7,-23.2 991.8,-26.2 996.0,-29.3 1000.1,-32.4 1004.3,-35.4 1008.4,-38.5" fill="none" stroke="#111111" stroke-width="1.15" stroke-linejoin="round" clip-path="url(#clipb)"/>
<polyline points="639.2,330.3 643.3,322.9 647.5,315.8 651.6,308.9 655.8,302.2 659.9,295.7 664.1,289.3 668.2,283.0 672.4,276.9 676.5,271.0 680.7,265.1 684.8,259.4 689.0,253.8 693.1,248.3 697.3,242.9 701.4,237.6 705.6,232.5 709.7,227.3 713.9,222.3 718.0,217.4 722.2,212.5 726.3,207.7 730.5,203.0 734.6,198.3 738.8,193.7 742.9,189.2 747.1,184.7 751.2,180.3 755.4,175.9 759.5,171.6 763.6,167.3 767.8,163.1 771.9,159.0 776.1,154.8 780.2,150.7 784.4,146.7 788.5,142.7 792.7,138.7 796.8,134.8 801.0,130.9 805.1,127.0 809.3,123.2 813.4,119.4 817.6,115.6 821.7,111.9 825.9,108.1 830.0,104.5 834.2,100.8 838.3,97.2 842.5,93.5 846.6,90.0 850.8,86.4 854.9,82.9 859.1,79.3 863.2,75.8 867.4,72.4 871.5,68.9 875.7,65.5 879.8,62.0 884.0,58.6 888.1,55.2 892.2,51.9 896.4,48.5 900.5,45.2 904.7,41.9 908.8,38.6 913.0,35.3 917.1,32.0 921.3,28.7 925.4,25.5 929.6,22.3 933.7,19.0 937.9,15.8 942.0,12.6 946.2,9.5 950.3,6.3 954.5,3.1 958.6,-0.0 962.8,-3.2 966.9,-6.3 971.1,-9.4 975.2,-12.5 979.4,-15.6 983.5,-18.7 987.7,-21.8 991.8,-24.8 996.0,-27.9 1000.1,-30.9 1004.3,-34.0 1008.4,-37.0" fill="none" stroke="#111111" stroke-width="1.15" stroke-linejoin="round" clip-path="url(#clipb)"/>
<polyline points="639.2,331.1 643.3,323.8 647.5,316.7 651.6,309.8 655.8,303.1 659.9,296.6 664.1,290.2 668.2,284.0 672.4,277.9 676.5,272.0 680.7,266.2 684.8,260.5 689.0,254.9 693.1,249.4 697.3,244.0 701.4,238.8 705.6,233.6 709.7,228.5 713.9,223.5 718.0,218.6 722.2,213.7 726.3,208.9 730.5,204.2 734.6,199.6 738.8,195.0 742.9,190.5 747.1,186.0 751.2,181.6 755.4,177.3 759.5,173.0 763.6,168.7 767.8,164.5 771.9,160.4 776.1,156.3 780.2,152.2 784.4,148.2 788.5,144.2 792.7,140.2 796.8,136.3 801.0,132.4 805.1,128.6 809.3,124.8 813.4,121.0 817.6,117.2 821.7,113.5 825.9,109.8 830.0,106.1 834.2,102.5 838.3,98.8 842.5,95.3 846.6,91.7 850.8,88.1 854.9,84.6 859.1,81.1 863.2,77.6 867.4,74.2 871.5,70.7 875.7,67.3 879.8,63.9 884.0,60.5 888.1,57.1 892.2,53.8 896.4,50.4 900.5,47.1 904.7,43.8 908.8,40.5 913.0,37.3 917.1,34.0 921.3,30.7 925.4,27.5 929.6,24.3 933.7,21.1 937.9,17.9 942.0,14.7 946.2,11.6 950.3,8.4 954.5,5.3 958.6,2.1 962.8,-1.0 966.9,-4.1 971.1,-7.2 975.2,-10.3 979.4,-13.4 983.5,-16.5 987.7,-19.5 991.8,-22.6 996.0,-25.6 1000.1,-28.7 1004.3,-31.7 1008.4,-34.7" fill="none" stroke="#111111" stroke-width="1.15" stroke-linejoin="round" clip-path="url(#clipb)"/>
<polyline points="639.2,331.7 643.3,324.4 647.5,317.4 651.6,310.5 655.8,303.8 659.9,297.3 664.1,290.9 668.2,284.7 672.4,278.7 676.5,272.7 680.7,266.9 684.8,261.3 689.0,255.7 693.1,250.2 697.3,244.9 701.4,239.6 705.6,234.5 709.7,229.4 713.9,224.4 718.0,219.5 722.2,214.6 726.3,209.9 730.5,205.2 734.6,200.6 738.8,196.0 742.9,191.5 747.1,187.0 751.2,182.7 755.4,178.3 759.5,174.0 763.6,169.8 767.8,165.6 771.9,161.5 776.1,157.4 780.2,153.3 784.4,149.3 788.5,145.3 792.7,141.4 796.8,137.5 801.0,133.6 805.1,129.7 809.3,125.9 813.4,122.2 817.6,118.4 821.7,114.7 825.9,111.0 830.0,107.4 834.2,103.7 838.3,100.1 842.5,96.5 846.6,93.0 850.8,89.4 854.9,85.9 859.1,82.4 863.2,79.0 867.4,75.5 871.5,72.1 875.7,68.7 879.8,65.3 884.0,61.9 888.1,58.5 892.2,55.2 896.4,51.9 900.5,48.6 904.7,45.3 908.8,42.0 913.0,38.7 917.1,35.5 921.3,32.3 925.4,29.0 929.6,25.8 933.7,22.6 937.9,19.5 942.0,16.3 946.2,13.1 950.3,10.0 954.5,6.8 958.6,3.7 962.8,0.6 966.9,-2.5 971.1,-5.6 975.2,-8.7 979.4,-11.7 983.5,-14.8 987.7,-17.8 991.8,-20.9 996.0,-23.9 1000.1,-26.9 1004.3,-30.0 1008.4,-33.0" fill="none" stroke="#111111" stroke-width="1.15" stroke-linejoin="round" clip-path="url(#clipb)"/>
<polyline points="639.2,332.1 643.3,324.9 647.5,317.8 651.6,311.0 655.8,304.3 659.9,297.8 664.1,291.4 668.2,285.2 672.4,279.2 676.5,273.3 680.7,267.5 684.8,261.8 689.0,256.2 693.1,250.8 697.3,245.5 701.4,240.2 705.6,235.0 709.7,230.0 713.9,225.0 718.0,220.1 722.2,215.3 726.3,210.5 730.5,205.8 734.6,201.2 738.8,196.6 742.9,192.2 747.1,187.7 751.2,183.3 755.4,179.0 759.5,174.7 763.6,170.5 767.8,166.3 771.9,162.2 776.1,158.1 780.2,154.0 784.4,150.0 788.5,146.1 792.7,142.1 796.8,138.2 801.0,134.4 805.1,130.5 809.3,126.7 813.4,123.0 817.6,119.2 821.7,115.5 825.9,111.8 830.0,108.2 834.2,104.6 838.3,101.0 842.5,97.4 846.6,93.8 850.8,90.3 854.9,86.8 859.1,83.3 863.2,79.9 867.4,76.4 871.5,73.0 875.7,69.6 879.8,66.2 884.0,62.8 888.1,59.5 892.2,56.2 896.4,52.8 900.5,49.5 904.7,46.3 908.8,43.0 913.0,39.7 917.1,36.5 921.3,33.3 925.4,30.1 929.6,26.9 933.7,23.7 937.9,20.5 942.0,17.3 946.2,14.2 950.3,11.1 954.5,7.9 958.6,4.8 962.8,1.7 966.9,-1.4 971.1,-4.5 975.2,-7.5 979.4,-10.6 983.5,-13.7 987.7,-16.7 991.8,-19.7 996.0,-22.8 1000.1,-25.8 1004.3,-28.8 1008.4,-31.8" fill="none" stroke="#111111" stroke-width="1.15" stroke-linejoin="round" clip-path="url(#clipb)"/>
<polyline points="639.2,333.0 643.3,325.8 647.5,318.7 651.6,311.9 655.8,305.2 659.9,298.8 664.1,292.4 668.2,286.3 672.4,280.2 676.5,274.3 680.7,268.6 684.8,262.9 689.0,257.4 693.1,251.9 697.3,246.6 701.4,241.4 705.6,236.2 709.7,231.2 713.9,226.2 718.0,221.3 722.2,216.5 726.3,211.8 730.5,207.1 734.6,202.5 738.8,198.0 742.9,193.5 747.1,189.1 751.2,184.7 755.4,180.4 759.5,176.2 763.6,172.0 767.8,167.8 771.9,163.7 776.1,159.6 780.2,155.6 784.4,151.6 788.5,147.6 792.7,143.7 796.8,139.8 801.0,136.0 805.1,132.2 809.3,128.4 813.4,124.6 817.6,120.9 821.7,117.2 825.9,113.6 830.0,109.9 834.2,106.3 838.3,102.7 842.5,99.2 846.6,95.6 850.8,92.1 854.9,88.6 859.1,85.2 863.2,81.7 867.4,78.3 871.5,74.9 875.7,71.5 879.8,68.1 884.0,64.8 888.1,61.4 892.2,58.1 896.4,54.8 900.5,51.5 904.7,48.3 908.8,45.0 913.0,41.8 917.1,38.6 921.3,35.4 925.4,32.2 929.6,29.0 933.7,25.8 937.9,22.6 942.0,19.5 946.2,16.4 950.3,13.2 954.5,10.1 958.6,7.0 962.8,4.0 966.9,0.9 971.1,-2.2 975.2,-5.2 979.4,-8.3 983.5,-11.3 987.7,-14.4 991.8,-17.4 996.0,-20.4 1000.1,-23.4 1004.3,-26.4 1008.4,-29.4" fill="none" stroke="#111111" stroke-width="1.15" stroke-linejoin="round" clip-path="url(#clipb)"/>
<polyline points="639.2,333.6 643.3,326.3 647.5,319.3 651.6,312.5 655.8,305.8 659.9,299.4 664.1,293.0 668.2,286.9 672.4,280.9 676.5,275.0 680.7,269.2 684.8,263.6 689.0,258.1 693.1,252.6 697.3,247.3 701.4,242.1 705.6,237.0 709.7,231.9 713.9,227.0 718.0,222.1 722.2,217.3 726.3,212.6 730.5,207.9 734.6,203.3 738.8,198.8 742.9,194.3 747.1,189.9 751.2,185.6 755.4,181.3 759.5,177.0 763.6,172.8 767.8,168.7 771.9,164.6 776.1,160.5 780.2,156.5 784.4,152.5 788.5,148.5 792.7,144.6 796.8,140.8 801.0,136.9 805.1,133.1 809.3,129.4 813.4,125.6 817.6,121.9 821.7,118.2 825.9,114.6 830.0,111.0 834.2,107.4 838.3,103.8 842.5,100.2 846.6,96.7 850.8,93.2 854.9,89.7 859.1,86.3 863.2,82.8 867.4,79.4 871.5,76.0 875.7,72.6 879.8,69.3 884.0,65.9 888.1,62.6 892.2,59.3 896.4,56.0 900.5,52.8 904.7,49.5 908.8,46.2 913.0,43.0 917.1,39.8 921.3,36.6 925.4,33.4 929.6,30.2 933.7,27.1 937.9,23.9 942.0,20.8 946.2,17.7 950.3,14.6 954.5,11.5 958.6,8.4 962.8,5.3 966.9,2.2 971.1,-0.8 975.2,-3.9 979.4,-6.9 983.5,-9.9 987.7,-12.9 991.8,-16.0 996.0,-19.0 1000.1,-21.9 1004.3,-24.9 1008.4,-27.9" fill="none" stroke="#111111" stroke-width="1.15" stroke-linejoin="round" clip-path="url(#clipb)"/>
<polyline points="639.2,334.3 643.3,327.1 647.5,320.1 651.6,313.3 655.8,306.6 659.9,300.2 664.1,293.9 668.2,287.7 672.4,281.7 676.5,275.8 680.7,270.1 684.8,264.5 689.0,259.0 693.1,253.6 697.3,248.3 701.4,243.1 705.6,237.9 709.7,232.9 713.9,228.0 718.0,223.1 722.2,218.3 726.3,213.6 730.5,209.0 734.6,204.4 738.8,199.9 742.9,195.4 747.1,191.0 751.2,186.7 755.4,182.4 759.5,178.2 763.6,174.0 767.8,169.9 771.9,165.8 776.1,161.7 780.2,157.7 784.4,153.7 788.5,149.8 792.7,145.9 796.8,142.1 801.0,138.2 805.1,134.4 809.3,130.7 813.4,127.0 817.6,123.3 821.7,119.6 825.9,116.0 830.0,112.3 834.2,108.8 838.3,105.2 842.5,101.7 846.6,98.2 850.8,94.7 854.9,91.2 859.1,87.8 863.2,84.3 867.4,80.9 871.5,77.5 875.7,74.2 879.8,70.8 884.0,67.5 888.1,64.2 892.2,60.9 896.4,57.6 900.5,54.4 904.7,51.1 908.8,47.9 913.0,44.7 917.1,41.5 921.3,38.3 925.4,35.1 929.6,32.0 933.7,28.8 937.9,25.7 942.0,22.6 946.2,19.4 950.3,16.3 954.5,13.3 958.6,10.2 962.8,7.1 966.9,4.1 971.1,1.0 975.2,-2.0 979.4,-5.0 983.5,-8.1 987.7,-11.1 991.8,-14.1 996.0,-17.0 1000.1,-20.0 1004.3,-23.0 1008.4,-25.9" fill="none" stroke="#111111" stroke-width="1.15" stroke-linejoin="round" clip-path="url(#clipb)"/>
<polyline points="639.2,334.9 643.3,327.7 647.5,320.7 651.6,313.9 655.8,307.3 659.9,300.8 664.1,294.6 668.2,288.4 672.4,282.4 676.5,276.6 680.7,270.8 684.8,265.2 689.0,259.7 693.1,254.3 697.3,249.0 701.4,243.8 705.6,238.7 709.7,233.7 713.9,228.8 718.0,224.0 722.2,219.2 726.3,214.5 730.5,209.9 734.6,205.3 738.8,200.8 742.9,196.3 747.1,192.0 751.2,187.6 755.4,183.4 759.5,179.1 763.6,175.0 767.8,170.8 771.9,166.8 776.1,162.7 780.2,158.7 784.4,154.8 788.5,150.8 792.7,147.0 796.8,143.1 801.0,139.3 805.1,135.5 809.3,131.8 813.4,128.1 817.6,124.4 821.7,120.7 825.9,117.1 830.0,113.5 834.2,109.9 838.3,106.4 842.5,102.8 846.6,99.3 850.8,95.9 854.9,92.4 859.1,89.0 863.2,85.6 867.4,82.2 871.5,78.8 875.7,75.5 879.8,72.1 884.0,68.8 888.1,65.5 892.2,62.2 896.4,59.0 900.5,55.7 904.7,52.5 908.8,49.2 913.0,46.0 917.1,42.9 921.3,39.7 925.4,36.5 929.6,33.4 933.7,30.2 937.9,27.1 942.0,24.0 946.2,20.9 950.3,17.8 954.5,14.7 958.6,11.7 962.8,8.6 966.9,5.6 971.1,2.5 975.2,-0.5 979.4,-3.5 983.5,-6.5 987.7,-9.5 991.8,-12.5 996.0,-15.4 1000.1,-18.4 1004.3,-21.4 1008.4,-24.3" fill="none" stroke="#111111" stroke-width="1.15" stroke-linejoin="round" clip-path="url(#clipb)"/>
<polyline points="639.2,335.7 643.3,328.5 647.5,321.6 651.6,314.8 655.8,308.2 659.9,301.8 664.1,295.5 668.2,289.4 672.4,283.4 676.5,277.5 680.7,271.8 684.8,266.2 689.0,260.8 693.1,255.4 697.3,250.1 701.4,244.9 705.6,239.8 709.7,234.8 713.9,229.9 718.0,225.1 722.2,220.3 726.3,215.7 730.5,211.0 734.6,206.5 738.8,202.0 742.9,197.6 747.1,193.2 751.2,188.9 755.4,184.6 759.5,180.4 763.6,176.3 767.8,172.2 771.9,168.1 776.1,164.1 780.2,160.1 784.4,156.1 788.5,152.2 792.7,148.4 796.8,144.5 801.0,140.7 805.1,137.0 809.3,133.3 813.4,129.6 817.6,125.9 821.7,122.2 825.9,118.6 830.0,115.1 834.2,111.5 838.3,108.0 842.5,104.4 846.6,101.0 850.8,97.5 854.9,94.1 859.1,90.6 863.2,87.2 867.4,83.9 871.5,80.5 875.7,77.2 879.8,73.9 884.0,70.6 888.1,67.3 892.2,64.0 896.4,60.7 900.5,57.5 904.7,54.3 908.8,51.1 913.0,47.9 917.1,44.7 921.3,41.6 925.4,38.4 929.6,35.3 933.7,32.2 937.9,29.1 942.0,26.0 946.2,22.9 950.3,19.8 954.5,16.7 958.6,13.7 962.8,10.7 966.9,7.6 971.1,4.6 975.2,1.6 979.4,-1.4 983.5,-4.4 987.7,-7.4 991.8,-10.3 996.0,-13.3 1000.1,-16.2 1004.3,-19.2 1008.4,-22.1" fill="none" stroke="#111111" stroke-width="1.15" stroke-linejoin="round" clip-path="url(#clipb)"/>
<polyline points="639.2,336.3 643.3,329.1 647.5,322.1 651.6,315.4 655.8,308.8 659.9,302.4 664.1,296.1 668.2,290.0 672.4,284.0 676.5,278.2 680.7,272.5 684.8,266.9 689.0,261.4 693.1,256.1 697.3,250.8 701.4,245.6 705.6,240.6 709.7,235.6 713.9,230.7 718.0,225.9 722.2,221.1 726.3,216.4 730.5,211.8 734.6,207.3 738.8,202.8 742.9,198.4 747.1,194.0 751.2,189.7 755.4,185.5 759.5,181.3 763.6,177.1 767.8,173.0 771.9,169.0 776.1,165.0 780.2,161.0 784.4,157.1 788.5,153.2 792.7,149.3 796.8,145.5 801.0,141.7 805.1,138.0 809.3,134.2 813.4,130.6 817.6,126.9 821.7,123.3 825.9,119.7 830.0,116.1 834.2,112.5 838.3,109.0 842.5,105.5 846.6,102.0 850.8,98.6 854.9,95.2 859.1,91.7 863.2,88.4 867.4,85.0 871.5,81.6 875.7,78.3 879.8,75.0 884.0,71.7 888.1,68.4 892.2,65.2 896.4,61.9 900.5,58.7 904.7,55.5 908.8,52.3 913.0,49.1 917.1,46.0 921.3,42.8 925.4,39.7 929.6,36.6 933.7,33.4 937.9,30.4 942.0,27.3 946.2,24.2 950.3,21.1 954.5,18.1 958.6,15.0 962.8,12.0 966.9,9.0 971.1,6.0 975.2,3.0 979.4,-0.0 983.5,-3.0 987.7,-6.0 991.8,-8.9 996.0,-11.9 1000.1,-14.8 1004.3,-17.7 1008.4,-20.7" fill="none" stroke="#111111" stroke-width="1.15" stroke-linejoin="round" clip-path="url(#clipb)"/>
<polyline points="639.2,336.8 643.3,329.7 647.5,322.7 651.6,316.0 655.8,309.4 659.9,303.0 664.1,296.7 668.2,290.6 672.4,284.7 676.5,278.8 680.7,273.1 684.8,267.6 689.0,262.1 693.1,256.7 697.3,251.5 701.4,246.3 705.6,241.3 709.7,236.3 713.9,231.4 718.0,226.6 722.2,221.9 726.3,217.2 730.5,212.6 734.6,208.1 738.8,203.6 742.9,199.2 747.1,194.9 751.2,190.6 755.4,186.3 759.5,182.1 763.6,178.0 767.8,173.9 771.9,169.9 776.1,165.8 780.2,161.9 784.4,158.0 788.5,154.1 792.7,150.2 796.8,146.4 801.0,142.6 805.1,138.9 809.3,135.2 813.4,131.5 817.6,127.9 821.7,124.2 825.9,120.6 830.0,117.1 834.2,113.5 838.3,110.0 842.5,106.5 846.6,103.1 850.8,99.6 854.9,96.2 859.1,92.8 863.2,89.4 867.4,86.1 871.5,82.7 875.7,79.4 879.8,76.1 884.0,72.8 888.1,69.6 892.2,66.3 896.4,63.1 900.5,59.9 904.7,56.7 908.8,53.5 913.0,50.3 917.1,47.2 921.3,44.0 925.4,40.9 929.6,37.8 933.7,34.7 937.9,31.6 942.0,28.5 946.2,25.5 950.3,22.4 954.5,19.4 958.6,16.3 962.8,13.3 966.9,10.3 971.1,7.3 975.2,4.3 979.4,1.3 983.5,-1.6 987.7,-4.6 991.8,-7.5 996.0,-10.5 1000.1,-13.4 1004.3,-16.3 1008.4,-19.2" fill="none" stroke="#111111" stroke-width="1.15" stroke-linejoin="round" clip-path="url(#clipb)"/>
<polyline points="639.2,337.7 643.3,330.5 647.5,323.6 651.6,316.8 655.8,310.3 659.9,303.9 664.1,297.6 668.2,291.5 672.4,285.6 676.5,279.8 680.7,274.1 684.8,268.6 689.0,263.1 693.1,257.8 697.3,252.5 701.4,247.4 705.6,242.3 709.7,237.4 713.9,232.5 718.0,227.7 722.2,223.0 726.3,218.3 730.5,213.7 734.6,209.2 738.8,204.8 742.9,200.4 747.1,196.1 751.2,191.8 755.4,187.6 759.5,183.4 763.6,179.3 767.8,175.2 771.9,171.1 776.1,167.2 780.2,163.2 784.4,159.3 788.5,155.4 792.7,151.6 796.8,147.8 801.0,144.0 805.1,140.3 809.3,136.6 813.4,132.9 817.6,129.3 821.7,125.7 825.9,122.1 830.0,118.6 834.2,115.1 838.3,111.6 842.5,108.1 846.6,104.6 850.8,101.2 854.9,97.8 859.1,94.4 863.2,91.0 867.4,87.7 871.5,84.4 875.7,81.1 879.8,77.8 884.0,74.5 888.1,71.3 892.2,68.0 896.4,64.8 900.5,61.6 904.7,58.4 908.8,55.3 913.0,52.1 917.1,49.0 921.3,45.8 925.4,42.7 929.6,39.6 933.7,36.6 937.9,33.5 942.0,30.4 946.2,27.4 950.3,24.3 954.5,21.3 958.6,18.3 962.8,15.3 966.9,12.3 971.1,9.3 975.2,6.3 979.4,3.4 983.5,0.4 987.7,-2.5 991.8,-5.5 996.0,-8.4 1000.1,-11.3 1004.3,-14.2 1008.4,-17.1" fill="none" stroke="#111111" stroke-width="1.15" stroke-linejoin="round" clip-path="url(#clipb)"/>
<polyline points="639.2,338.4 643.3,331.3 647.5,324.4 651.6,317.6 655.8,311.1 659.9,304.7 664.1,298.5 668.2,292.4 672.4,286.5 676.5,280.7 680.7,275.0 684.8,269.5 689.0,264.0 693.1,258.7 697.3,253.5 701.4,248.3 705.6,243.3 709.7,238.4 713.9,233.5 718.0,228.7 722.2,224.0 726.3,219.4 730.5,214.8 734.6,210.3 738.8,205.9 742.9,201.5 747.1,197.2 751.2,192.9 755.4,188.7 759.5,184.5 763.6,180.4 767.8,176.3 771.9,172.3 776.1,168.3 780.2,164.4 784.4,160.5 788.5,156.7 792.7,152.8 796.8,149.1 801.0,145.3 805.1,141.6 809.3,137.9 813.4,134.3 817.6,130.6 821.7,127.0 825.9,123.5 830.0,119.9 834.2,116.4 838.3,112.9 842.5,109.5 846.6,106.0 850.8,102.6 854.9,99.2 859.1,95.9 863.2,92.5 867.4,89.2 871.5,85.9 875.7,82.6 879.8,79.3 884.0,76.1 888.1,72.8 892.2,69.6 896.4,66.4 900.5,63.2 904.7,60.0 908.8,56.9 913.0,53.7 917.1,50.6 921.3,47.5 925.4,44.4 929.6,41.3 933.7,38.2 937.9,35.2 942.0,32.1 946.2,29.1 950.3,26.1 954.5,23.1 958.6,20.1 962.8,17.1 966.9,14.1 971.1,11.1 975.2,8.2 979.4,5.2 983.5,2.3 987.7,-0.7 991.8,-3.6 996.0,-6.5 1000.1,-9.4 1004.3,-12.3 1008.4,-15.2" fill="none" stroke="#111111" stroke-width="1.15" stroke-linejoin="round" clip-path="url(#clipb)"/>
<polyline points="639.2,338.9 643.3,331.8 647.5,324.8 651.6,318.1 655.8,311.6 659.9,305.2 664.1,299.0 668.2,292.9 672.4,287.0 676.5,281.2 680.7,275.5 684.8,270.0 689.0,264.6 693.1,259.3 697.3,254.0 701.4,248.9 705.6,243.9 709.7,239.0 713.9,234.1 718.0,229.3 722.2,224.6 726.3,220.0 730.5,215.4 734.6,210.9 738.8,206.5 742.9,202.1 747.1,197.8 751.2,193.6 755.4,189.4 759.5,185.2 763.6,181.1 767.8,177.1 771.9,173.0 776.1,169.1 780.2,165.1 784.4,161.3 788.5,157.4 792.7,153.6 796.8,149.8 801.0,146.1 805.1,142.4 809.3,138.7 813.4,135.1 817.6,131.4 821.7,127.9 825.9,124.3 830.0,120.8 834.2,117.3 838.3,113.8 842.5,110.3 846.6,106.9 850.8,103.5 854.9,100.1 859.1,96.8 863.2,93.4 867.4,90.1 871.5,86.8 875.7,83.5 879.8,80.2 884.0,77.0 888.1,73.8 892.2,70.6 896.4,67.4 900.5,64.2 904.7,61.0 908.8,57.9 913.0,54.7 917.1,51.6 921.3,48.5 925.4,45.4 929.6,42.3 933.7,39.3 937.9,36.2 942.0,33.2 946.2,30.2 950.3,27.1 954.5,24.1 958.6,21.1 962.8,18.2 966.9,15.2 971.1,12.2 975.2,9.3 979.4,6.3 983.5,3.4 987.7,0.5 991.8,-2.4 996.0,-5.3 1000.1,-8.2 1004.3,-11.1 1008.4,-14.0" fill="none" stroke="#111111" stroke-width="1.15" stroke-linejoin="round" clip-path="url(#clipb)"/>
<polyline points="639.2,352.9 643.3,345.7 647.5,338.7 651.6,332.0 655.8,325.4 659.9,319.1 664.1,312.9 668.2,306.9 672.4,301.0 676.5,295.3 680.7,289.7 684.8,284.3 689.0,279.0 693.1,273.8 697.3,268.7 701.4,263.7 705.6,258.8 709.7,254.1 713.9,249.4 718.0,244.8 722.2,240.3 726.3,235.8 730.5,231.5 734.6,227.2 738.8,223.0 742.9,218.8 747.1,214.8 751.2,210.7 755.4,206.8 759.5,202.9 763.6,199.0 767.8,195.2 771.9,191.5 776.1,187.8 780.2,184.1 784.4,180.5 788.5,176.9 792.7,173.4 796.8,169.9 801.0,166.5 805.1,163.1 809.3,159.7 813.4,156.4 817.6,153.0 821.7,149.8 825.9,146.5 830.0,143.3 834.2,140.1 838.3,137.0 842.5,133.8 846.6,130.7 850.8,127.6 854.9,124.6 859.1,121.6 863.2,118.5 867.4,115.6 871.5,112.6 875.7,109.6 879.8,106.7 884.0,103.8 888.1,100.9 892.2,98.1 896.4,95.2 900.5,92.4 904.7,89.6 908.8,86.8 913.0,84.0 917.1,81.3 921.3,78.5 925.4,75.8 929.6,73.1 933.7,70.4 937.9,67.7 942.0,65.0 946.2,62.3 950.3,59.7 954.5,57.0 958.6,54.4 962.8,51.8 966.9,49.2 971.1,46.6 975.2,44.0 979.4,41.5 983.5,38.9 987.7,36.4 991.8,33.8 996.0,31.3 1000.1,28.8 1004.3,26.3 1008.4,23.8" fill="none" stroke="#d62c38" stroke-width="1.25" stroke-linejoin="round" clip-path="url(#clipb)"/>
<polyline points="639.2,373.4 643.3,366.6 647.5,360.0 651.6,353.7 655.8,347.5 659.9,341.5 664.1,335.7 668.2,330.1 672.4,324.6 676.5,319.3 680.7,314.1 684.8,309.1 689.0,304.2 693.1,299.4 697.3,294.7 701.4,290.2 705.6,285.7 709.7,281.3 713.9,277.1 718.0,272.9 722.2,268.8 726.3,264.8 730.5,260.8 734.6,257.0 738.8,253.2 742.9,249.4 747.1,245.8 751.2,242.2 755.4,238.6 759.5,235.2 763.6,231.7 767.8,228.4 771.9,225.0 776.1,221.8 780.2,218.5 784.4,215.4 788.5,212.2 792.7,209.1 796.8,206.1 801.0,203.0 805.1,200.1 809.3,197.1 813.4,194.2 817.6,191.3 821.7,188.5 825.9,185.7 830.0,182.9 834.2,180.1 838.3,177.4 842.5,174.7 846.6,172.0 850.8,169.4 854.9,166.8 859.1,164.2 863.2,161.6 867.4,159.1 871.5,156.5 875.7,154.0 879.8,151.5 884.0,149.1 888.1,146.6 892.2,144.2 896.4,141.8 900.5,139.4 904.7,137.0 908.8,134.7 913.0,132.3 917.1,130.0 921.3,127.7 925.4,125.4 929.6,123.2 933.7,120.9 937.9,118.6 942.0,116.4 946.2,114.2 950.3,112.0 954.5,109.8 958.6,107.6 962.8,105.4 966.9,103.3 971.1,101.1 975.2,99.0 979.4,96.9 983.5,94.8 987.7,92.7 991.8,90.6 996.0,88.5 1000.1,86.4 1004.3,84.4 1008.4,82.3" fill="none" stroke="#2828b0" stroke-width="1.25" stroke-linejoin="round" clip-path="url(#clipb)"/>
<polyline points="639.2,376.6 643.3,369.8 647.5,363.3 651.6,357.1 655.8,351.0 659.9,345.1 664.1,339.4 668.2,333.8 672.4,328.5 676.5,323.2 680.7,318.1 684.8,313.2 689.0,308.4 693.1,303.6 697.3,299.1 701.4,294.6 705.6,290.2 709.7,285.9 713.9,281.7 718.0,277.6 722.2,273.6 726.3,269.7 730.5,265.8 734.6,262.1 738.8,258.4 742.9,254.7 747.1,251.1 751.2,247.6 755.4,244.2 759.5,240.8 763.6,237.4 767.8,234.2 771.9,230.9 776.1,227.7 780.2,224.6 784.4,221.5 788.5,218.4 792.7,215.4 796.8,212.5 801.0,209.5 805.1,206.6 809.3,203.8 813.4,201.0 817.6,198.2 821.7,195.4 825.9,192.7 830.0,190.0 834.2,187.3 838.3,184.7 842.5,182.1 846.6,179.5 850.8,176.9 854.9,174.4 859.1,171.9 863.2,169.4 867.4,166.9 871.5,164.5 875.7,162.1 879.8,159.7 884.0,157.3 888.1,155.0 892.2,152.6 896.4,150.3 900.5,148.0 904.7,145.7 908.8,143.4 913.0,141.2 917.1,139.0 921.3,136.7 925.4,134.5 929.6,132.3 933.7,130.2 937.9,128.0 942.0,125.9 946.2,123.7 950.3,121.6 954.5,119.5 958.6,117.4 962.8,115.3 966.9,113.3 971.1,111.2 975.2,109.2 979.4,107.1 983.5,105.1 987.7,103.1 991.8,101.1 996.0,99.1 1000.1,97.1 1004.3,95.1 1008.4,93.2" fill="none" stroke="#2828b0" stroke-width="1.25" stroke-linejoin="round" clip-path="url(#clipb)"/>
<polyline points="639.2,379.7 643.3,373.1 647.5,366.6 651.6,360.4 655.8,354.4 659.9,348.6 664.1,343.0 668.2,337.5 672.4,332.2 676.5,327.1 680.7,322.0 684.8,317.2 689.0,312.4 693.1,307.8 697.3,303.2 701.4,298.8 705.6,294.5 709.7,290.3 713.9,286.2 718.0,282.1 722.2,278.2 726.3,274.3 730.5,270.5 734.6,266.8 738.8,263.2 742.9,259.6 747.1,256.1 751.2,252.6 755.4,249.3 759.5,245.9 763.6,242.6 767.8,239.4 771.9,236.2 776.1,233.1 780.2,230.0 784.4,227.0 788.5,224.0 792.7,221.0 796.8,218.1 801.0,215.3 805.1,212.4 809.3,209.6 813.4,206.9 817.6,204.1 821.7,201.4 825.9,198.8 830.0,196.1 834.2,193.5 838.3,190.9 842.5,188.4 846.6,185.8 850.8,183.3 854.9,180.9 859.1,178.4 863.2,176.0 867.4,173.6 871.5,171.2 875.7,168.8 879.8,166.5 884.0,164.2 888.1,161.9 892.2,159.6 896.4,157.3 900.5,155.1 904.7,152.8 908.8,150.6 913.0,148.4 917.1,146.2 921.3,144.1 925.4,141.9 929.6,139.8 933.7,137.7 937.9,135.6 942.0,133.5 946.2,131.4 950.3,129.3 954.5,127.3 958.6,125.2 962.8,123.2 966.9,121.2 971.1,119.2 975.2,117.2 979.4,115.2 983.5,113.2 987.7,111.3 991.8,109.3 996.0,107.4 1000.1,105.4 1004.3,103.5 1008.4,101.6" fill="none" stroke="#2828b0" stroke-width="1.25" stroke-linejoin="round" clip-path="url(#clipb)"/>
<polyline points="639.2,385.7 643.3,379.2 647.5,372.9 651.6,366.8 655.8,360.9 659.9,355.2 664.1,349.6 668.2,344.3 672.4,339.1 676.5,334.0 680.7,329.1 684.8,324.3 689.0,319.6 693.1,315.1 697.3,310.7 701.4,306.4 705.6,302.2 709.7,298.0 713.9,294.0 718.0,290.1 722.2,286.2 726.3,282.5 730.5,278.8 734.6,275.1 738.8,271.6 742.9,268.1 747.1,264.7 751.2,261.3 755.4,258.0 759.5,254.8 763.6,251.6 767.8,248.4 771.9,245.4 776.1,242.3 780.2,239.3 784.4,236.4 788.5,233.5 792.7,230.6 796.8,227.8 801.0,225.0 805.1,222.3 809.3,219.5 813.4,216.9 817.6,214.2 821.7,211.6 825.9,209.0 830.0,206.5 834.2,203.9 838.3,201.4 842.5,199.0 846.6,196.5 850.8,194.1 854.9,191.7 859.1,189.4 863.2,187.0 867.4,184.7 871.5,182.4 875.7,180.1 879.8,177.9 884.0,175.6 888.1,173.4 892.2,171.2 896.4,169.0 900.5,166.9 904.7,164.7 908.8,162.6 913.0,160.5 917.1,158.4 921.3,156.3 925.4,154.2 929.6,152.2 933.7,150.1 937.9,148.1 942.0,146.1 946.2,144.1 950.3,142.1 954.5,140.1 958.6,138.2 962.8,136.2 966.9,134.3 971.1,132.4 975.2,130.5 979.4,128.6 983.5,126.7 987.7,124.8 991.8,122.9 996.0,121.1 1000.1,119.2 1004.3,117.4 1008.4,115.5" fill="none" stroke="#2828b0" stroke-width="1.25" stroke-linejoin="round" clip-path="url(#clipb)"/>
<polyline points="639.2,396.8 643.3,390.5 647.5,384.5 651.6,378.7 655.8,373.1 659.9,367.7 664.1,362.5 668.2,357.4 672.4,352.5 676.5,347.7 680.7,343.1 684.8,338.6 689.0,334.3 693.1,330.0 697.3,325.9 701.4,321.9 705.6,318.0 709.7,314.2 713.9,310.5 718.0,306.8 722.2,303.3 726.3,299.8 730.5,296.4 734.6,293.1 738.8,289.9 742.9,286.7 747.1,283.6 751.2,280.5 755.4,277.5 759.5,274.6 763.6,271.7 767.8,268.9 771.9,266.1 776.1,263.4 780.2,260.7 784.4,258.1 788.5,255.5 792.7,252.9 796.8,250.4 801.0,247.9 805.1,245.5 809.3,243.1 813.4,240.7 817.6,238.4 821.7,236.1 825.9,233.8 830.0,231.6 834.2,229.4 838.3,227.2 842.5,225.0 846.6,222.9 850.8,220.8 854.9,218.7 859.1,216.7 863.2,214.7 867.4,212.7 871.5,210.7 875.7,208.7 879.8,206.8 884.0,204.8 888.1,202.9 892.2,201.1 896.4,199.2 900.5,197.3 904.7,195.5 908.8,193.7 913.0,191.9 917.1,190.1 921.3,188.3 925.4,186.6 929.6,184.9 933.7,183.1 937.9,181.4 942.0,179.7 946.2,178.1 950.3,176.4 954.5,174.7 958.6,173.1 962.8,171.5 966.9,169.9 971.1,168.2 975.2,166.7 979.4,165.1 983.5,163.5 987.7,161.9 991.8,160.4 996.0,158.8 1000.1,157.3 1004.3,155.8 1008.4,154.3" fill="none" stroke="#3cd246" stroke-width="1.25" stroke-linejoin="round" clip-path="url(#clipb)"/>
<polyline points="639.2,398.5 643.3,392.2 647.5,386.1 651.6,380.3 655.8,374.6 659.9,369.1 664.1,363.9 668.2,358.7 672.4,353.8 676.5,349.0 680.7,344.3 684.8,339.8 689.0,335.4 693.1,331.1 697.3,327.0 701.4,322.9 705.6,319.0 709.7,315.2 713.9,311.4 718.0,307.8 722.2,304.2 726.3,300.7 730.5,297.3 734.6,294.0 738.8,290.7 742.9,287.5 747.1,284.4 751.2,281.3 755.4,278.3 759.5,275.4 763.6,272.5 767.8,269.6 771.9,266.8 776.1,264.1 780.2,261.4 784.4,258.8 788.5,256.2 792.7,253.6 796.8,251.1 801.0,248.6 805.1,246.2 809.3,243.8 813.4,241.4 817.6,239.0 821.7,236.7 825.9,234.5 830.0,232.2 834.2,230.0 838.3,227.8 842.5,225.7 846.6,223.6 850.8,221.5 854.9,219.4 859.1,217.3 863.2,215.3 867.4,213.3 871.5,211.3 875.7,209.4 879.8,207.4 884.0,205.5 888.1,203.6 892.2,201.7 896.4,199.9 900.5,198.0 904.7,196.2 908.8,194.4 913.0,192.6 917.1,190.8 921.3,189.1 925.4,187.3 929.6,185.6 933.7,183.9 937.9,182.2 942.0,180.5 946.2,178.8 950.3,177.2 954.5,175.5 958.6,173.9 962.8,172.3 966.9,170.6 971.1,169.0 975.2,167.5 979.4,165.9 983.5,164.3 987.7,162.8 991.8,161.2 996.0,159.7 1000.1,158.2 1004.3,156.7 1008.4,155.2" fill="none" stroke="#3cd246" stroke-width="1.25" stroke-linejoin="round" clip-path="url(#clipb)"/>
<polyline points="639.2,400.5 643.3,394.2 647.5,388.1 651.6,382.2 655.8,376.6 659.9,371.1 664.1,365.9 668.2,360.8 672.4,355.9 676.5,351.1 680.7,346.5 684.8,342.0 689.0,337.6 693.1,333.4 697.3,329.2 701.4,325.2 705.6,321.3 709.7,317.5 713.9,313.8 718.0,310.2 722.2,306.7 726.3,303.2 730.5,299.8 734.6,296.5 738.8,293.3 742.9,290.2 747.1,287.1 751.2,284.1 755.4,281.1 759.5,278.2 763.6,275.4 767.8,272.6 771.9,269.8 776.1,267.1 780.2,264.5 784.4,261.9 788.5,259.3 792.7,256.8 796.8,254.3 801.0,251.9 805.1,249.5 809.3,247.2 813.4,244.8 817.6,242.6 821.7,240.3 825.9,238.1 830.0,235.9 834.2,233.7 838.3,231.6 842.5,229.5 846.6,227.4 850.8,225.4 854.9,223.4 859.1,221.4 863.2,219.4 867.4,217.4 871.5,215.5 875.7,213.6 879.8,211.7 884.0,209.8 888.1,208.0 892.2,206.2 896.4,204.4 900.5,202.6 904.7,200.8 908.8,199.1 913.0,197.3 917.1,195.6 921.3,193.9 925.4,192.2 929.6,190.5 933.7,188.9 937.9,187.2 942.0,185.6 946.2,184.0 950.3,182.4 954.5,180.8 958.6,179.2 962.8,177.7 966.9,176.1 971.1,174.6 975.2,173.0 979.4,171.5 983.5,170.0 987.7,168.5 991.8,167.0 996.0,165.6 1000.1,164.1 1004.3,162.6 1008.4,161.2" fill="none" stroke="#3cd246" stroke-width="1.25" stroke-linejoin="round" clip-path="url(#clipb)"/>
<polyline points="639.2,401.9 643.3,395.6 647.5,389.5 651.6,383.6 655.8,377.9 659.9,372.5 664.1,367.2 668.2,362.1 672.4,357.1 676.5,352.3 680.7,347.7 684.8,343.2 689.0,338.8 693.1,334.6 697.3,330.4 701.4,326.4 705.6,322.5 709.7,318.7 713.9,315.0 718.0,311.3 722.2,307.8 726.3,304.4 730.5,301.0 734.6,297.7 738.8,294.5 742.9,291.3 747.1,288.2 751.2,285.2 755.4,282.3 759.5,279.4 763.6,276.5 767.8,273.7 771.9,271.0 776.1,268.3 780.2,265.7 784.4,263.1 788.5,260.5 792.7,258.0 796.8,255.6 801.0,253.1 805.1,250.8 809.3,248.4 813.4,246.1 817.6,243.8 821.7,241.6 825.9,239.4 830.0,237.2 834.2,235.1 838.3,232.9 842.5,230.8 846.6,228.8 850.8,226.7 854.9,224.7 859.1,222.7 863.2,220.8 867.4,218.9 871.5,216.9 875.7,215.0 879.8,213.2 884.0,211.3 888.1,209.5 892.2,207.7 896.4,205.9 900.5,204.1 904.7,202.4 908.8,200.6 913.0,198.9 917.1,197.2 921.3,195.5 925.4,193.8 929.6,192.2 933.7,190.6 937.9,188.9 942.0,187.3 946.2,185.7 950.3,184.1 954.5,182.6 958.6,181.0 962.8,179.5 966.9,177.9 971.1,176.4 975.2,174.9 979.4,173.4 983.5,171.9 987.7,170.4 991.8,169.0 996.0,167.5 1000.1,166.1 1004.3,164.6 1008.4,163.2" fill="none" stroke="#3cd246" stroke-width="1.25" stroke-linejoin="round" clip-path="url(#clipb)"/>
<polyline points="639.2,404.2 643.3,397.8 647.5,391.6 651.6,385.6 655.8,379.9 659.9,374.4 664.1,369.0 668.2,363.9 672.4,358.9 676.5,354.0 680.7,349.3 684.8,344.8 689.0,340.4 693.1,336.1 697.3,331.9 701.4,327.9 705.6,323.9 709.7,320.1 713.9,316.3 718.0,312.7 722.2,309.1 726.3,305.7 730.5,302.3 734.6,299.0 738.8,295.7 742.9,292.6 747.1,289.5 751.2,286.4 755.4,283.5 759.5,280.6 763.6,277.7 767.8,274.9 771.9,272.2 776.1,269.5 780.2,266.9 784.4,264.3 788.5,261.7 792.7,259.2 796.8,256.8 801.0,254.3 805.1,252.0 809.3,249.6 813.4,247.3 817.6,245.1 821.7,242.8 825.9,240.6 830.0,238.4 834.2,236.3 838.3,234.2 842.5,232.1 846.6,230.1 850.8,228.0 854.9,226.1 859.1,224.1 863.2,222.1 867.4,220.2 871.5,218.3 875.7,216.4 879.8,214.6 884.0,212.7 888.1,210.9 892.2,209.1 896.4,207.4 900.5,205.6 904.7,203.9 908.8,202.2 913.0,200.5 917.1,198.8 921.3,197.1 925.4,195.5 929.6,193.8 933.7,192.2 937.9,190.6 942.0,189.0 946.2,187.4 950.3,185.9 954.5,184.3 958.6,182.8 962.8,181.3 966.9,179.8 971.1,178.3 975.2,176.8 979.4,175.3 983.5,173.8 987.7,172.4 991.8,170.9 996.0,169.5 1000.1,168.1 1004.3,166.7 1008.4,165.3" fill="none" stroke="#3cd246" stroke-width="1.25" stroke-linejoin="round" clip-path="url(#clipb)"/>
<polyline points="639.2,401.9 643.3,396.1 647.5,390.4 651.6,385.0 655.8,379.8 659.9,374.7 664.1,369.8 668.2,365.1 672.4,360.5 676.5,356.0 680.7,351.7 684.8,347.5 689.0,343.4 693.1,339.4 697.3,335.6 701.4,331.8 705.6,328.1 709.7,324.5 713.9,321.0 718.0,317.6 722.2,314.3 726.3,311.0 730.5,307.9 734.6,304.7 738.8,301.7 742.9,298.7 747.1,295.8 751.2,292.9 755.4,290.1 759.5,287.3 763.6,284.6 767.8,282.0 771.9,279.3 776.1,276.8 780.2,274.2 784.4,271.8 788.5,269.3 792.7,266.9 796.8,264.5 801.0,262.2 805.1,259.9 809.3,257.6 813.4,255.4 817.6,253.2 821.7,251.0 825.9,248.9 830.0,246.8 834.2,244.7 838.3,242.6 842.5,240.6 846.6,238.6 850.8,236.6 854.9,234.6 859.1,232.7 863.2,230.8 867.4,228.9 871.5,227.0 875.7,225.1 879.8,223.3 884.0,221.5 888.1,219.7 892.2,217.9 896.4,216.1 900.5,214.4 904.7,212.6 908.8,210.9 913.0,209.2 917.1,207.5 921.3,205.8 925.4,204.2 929.6,202.5 933.7,200.9 937.9,199.3 942.0,197.7 946.2,196.1 950.3,194.5 954.5,192.9 958.6,191.4 962.8,189.8 966.9,188.3 971.1,186.8 975.2,185.2 979.4,183.7 983.5,182.2 987.7,180.8 991.8,179.3 996.0,177.8 1000.1,176.4 1004.3,174.9 1008.4,173.5" fill="none" stroke="#3cd246" stroke-width="1.25" stroke-linejoin="round" clip-path="url(#clipb)"/>
<polyline points="639.2,403.5 643.3,397.8 647.5,392.2 651.6,386.8 655.8,381.6 659.9,376.6 664.1,371.8 668.2,367.1 672.4,362.5 676.5,358.1 680.7,353.9 684.8,349.7 689.0,345.7 693.1,341.8 697.3,338.0 701.4,334.2 705.6,330.6 709.7,327.1 713.9,323.6 718.0,320.3 722.2,317.0 726.3,313.8 730.5,310.7 734.6,307.6 738.8,304.6 742.9,301.6 747.1,298.8 751.2,295.9 755.4,293.2 759.5,290.4 763.6,287.8 767.8,285.2 771.9,282.6 776.1,280.1 780.2,277.6 784.4,275.1 788.5,272.7 792.7,270.4 796.8,268.0 801.0,265.7 805.1,263.5 809.3,261.3 813.4,259.1 817.6,256.9 821.7,254.8 825.9,252.7 830.0,250.6 834.2,248.5 838.3,246.5 842.5,244.5 846.6,242.6 850.8,240.6 854.9,238.7 859.1,236.8 863.2,234.9 867.4,233.0 871.5,231.2 875.7,229.4 879.8,227.6 884.0,225.8 888.1,224.0 892.2,222.3 896.4,220.6 900.5,218.8 904.7,217.1 908.8,215.5 913.0,213.8 917.1,212.1 921.3,210.5 925.4,208.9 929.6,207.3 933.7,205.7 937.9,204.1 942.0,202.5 946.2,201.0 950.3,199.4 954.5,197.9 958.6,196.4 962.8,194.9 966.9,193.4 971.1,191.9 975.2,190.4 979.4,188.9 983.5,187.5 987.7,186.0 991.8,184.6 996.0,183.1 1000.1,181.7 1004.3,180.3 1008.4,178.9" fill="none" stroke="#3cd246" stroke-width="1.25" stroke-linejoin="round" clip-path="url(#clipb)"/>
<polyline points="639.2,410.5 643.3,404.2 647.5,398.1 651.6,392.3 655.8,386.7 659.9,381.2 664.1,376.0 668.2,371.0 672.4,366.1 676.5,361.4 680.7,356.8 684.8,352.4 689.0,348.1 693.1,343.9 697.3,339.9 701.4,336.0 705.6,332.2 709.7,328.5 713.9,324.9 718.0,321.4 722.2,318.0 726.3,314.6 730.5,311.4 734.6,308.2 738.8,305.1 742.9,302.1 747.1,299.2 751.2,296.3 755.4,293.5 759.5,290.7 763.6,288.0 767.8,285.4 771.9,282.8 776.1,280.2 780.2,277.7 784.4,275.3 788.5,272.9 792.7,270.6 796.8,268.3 801.0,266.0 805.1,263.8 809.3,261.6 813.4,259.4 817.6,257.3 821.7,255.2 825.9,253.2 830.0,251.2 834.2,249.2 838.3,247.3 842.5,245.3 846.6,243.4 850.8,241.6 854.9,239.7 859.1,237.9 863.2,236.2 867.4,234.4 871.5,232.7 875.7,230.9 879.8,229.2 884.0,227.6 888.1,225.9 892.2,224.3 896.4,222.7 900.5,221.1 904.7,219.5 908.8,218.0 913.0,216.4 917.1,214.9 921.3,213.4 925.4,211.9 929.6,210.5 933.7,209.0 937.9,207.6 942.0,206.1 946.2,204.7 950.3,203.3 954.5,201.9 958.6,200.6 962.8,199.2 966.9,197.9 971.1,196.5 975.2,195.2 979.4,193.9 983.5,192.6 987.7,191.3 991.8,190.1 996.0,188.8 1000.1,187.6 1004.3,186.3 1008.4,185.1" fill="none" stroke="#3cd246" stroke-width="1.25" stroke-linejoin="round" clip-path="url(#clipb)"/>
<polyline points="639.2,418.3 643.3,413.0 647.5,407.9 651.6,403.0 655.8,398.3 659.9,393.8 664.1,389.4 668.2,385.2 672.4,381.1 676.5,377.2 680.7,373.4 684.8,369.6 689.0,366.1 693.1,362.6 697.3,359.2 701.4,355.9 705.6,352.7 709.7,349.6 713.9,346.6 718.0,343.6 722.2,340.8 726.3,338.0 730.5,335.3 734.6,332.6 738.8,330.0 742.9,327.5 747.1,325.0 751.2,322.5 755.4,320.2 759.5,317.8 763.6,315.6 767.8,313.3 771.9,311.2 776.1,309.0 780.2,306.9 784.4,304.9 788.5,302.8 792.7,300.9 796.8,298.9 801.0,297.0 805.1,295.1 809.3,293.3 813.4,291.5 817.6,289.7 821.7,287.9 825.9,286.2 830.0,284.5 834.2,282.8 838.3,281.1 842.5,279.5 846.6,277.9 850.8,276.3 854.9,274.8 859.1,273.2 863.2,271.7 867.4,270.2 871.5,268.7 875.7,267.3 879.8,265.8 884.0,264.4 888.1,263.0 892.2,261.6 896.4,260.3 900.5,258.9 904.7,257.6 908.8,256.2 913.0,254.9 917.1,253.6 921.3,252.3 925.4,251.1 929.6,249.8 933.7,248.6 937.9,247.4 942.0,246.1 946.2,244.9 950.3,243.7 954.5,242.6 958.6,241.4 962.8,240.2 966.9,239.1 971.1,237.9 975.2,236.8 979.4,235.7 983.5,234.6 987.7,233.5 991.8,232.4 996.0,231.3 1000.1,230.2 1004.3,229.2 1008.4,228.1" fill="none" stroke="#111111" stroke-width="1.25" stroke-linejoin="round" clip-path="url(#clipb)"/>
<polyline points="639.2,419.5 643.3,414.2 647.5,409.1 651.6,404.2 655.8,399.5 659.9,395.0 664.1,390.6 668.2,386.3 672.4,382.2 676.5,378.3 680.7,374.4 684.8,370.7 689.0,367.1 693.1,363.6 697.3,360.2 701.4,356.9 705.6,353.7 709.7,350.6 713.9,347.5 718.0,344.6 722.2,341.7 726.3,338.9 730.5,336.2 734.6,333.5 738.8,330.9 742.9,328.3 747.1,325.8 751.2,323.4 755.4,321.0 759.5,318.7 763.6,316.4 767.8,314.2 771.9,312.0 776.1,309.8 780.2,307.7 784.4,305.6 788.5,303.6 792.7,301.6 796.8,299.7 801.0,297.7 805.1,295.9 809.3,294.0 813.4,292.2 817.6,290.4 821.7,288.6 825.9,286.9 830.0,285.2 834.2,283.5 838.3,281.8 842.5,280.2 846.6,278.6 850.8,277.0 854.9,275.4 859.1,273.9 863.2,272.4 867.4,270.9 871.5,269.4 875.7,267.9 879.8,266.5 884.0,265.0 888.1,263.6 892.2,262.2 896.4,260.9 900.5,259.5 904.7,258.2 908.8,256.8 913.0,255.5 917.1,254.2 921.3,252.9 925.4,251.7 929.6,250.4 933.7,249.2 937.9,247.9 942.0,246.7 946.2,245.5 950.3,244.3 954.5,243.1 958.6,241.9 962.8,240.8 966.9,239.6 971.1,238.5 975.2,237.3 979.4,236.2 983.5,235.1 987.7,234.0 991.8,232.9 996.0,231.8 1000.1,230.7 1004.3,229.7 1008.4,228.6" fill="none" stroke="#111111" stroke-width="1.25" stroke-linejoin="round" clip-path="url(#clipb)"/>
<polyline points="639.2,423.4 643.3,418.0 647.5,412.7 651.6,407.7 655.8,402.9 659.9,398.3 664.1,393.8 668.2,389.5 672.4,385.3 676.5,381.3 680.7,377.4 684.8,373.6 689.0,370.0 693.1,366.4 697.3,363.0 701.4,359.7 705.6,356.4 709.7,353.3 713.9,350.2 718.0,347.3 722.2,344.4 726.3,341.6 730.5,338.8 734.6,336.1 738.8,333.5 742.9,331.0 747.1,328.5 751.2,326.1 755.4,323.7 759.5,321.4 763.6,319.1 767.8,316.9 771.9,314.7 776.1,312.6 780.2,310.5 784.4,308.5 788.5,306.5 792.7,304.5 796.8,302.6 801.0,300.7 805.1,298.9 809.3,297.1 813.4,295.3 817.6,293.5 821.7,291.8 825.9,290.1 830.0,288.4 834.2,286.8 838.3,285.2 842.5,283.6 846.6,282.1 850.8,280.5 854.9,279.0 859.1,277.5 863.2,276.0 867.4,274.6 871.5,273.2 875.7,271.8 879.8,270.4 884.0,269.0 888.1,267.7 892.2,266.3 896.4,265.0 900.5,263.7 904.7,262.4 908.8,261.2 913.0,259.9 917.1,258.7 921.3,257.5 925.4,256.3 929.6,255.1 933.7,253.9 937.9,252.7 942.0,251.6 946.2,250.4 950.3,249.3 954.5,248.2 958.6,247.1 962.8,246.0 966.9,244.9 971.1,243.8 975.2,242.8 979.4,241.7 983.5,240.7 987.7,239.7 991.8,238.6 996.0,237.6 1000.1,236.6 1004.3,235.6 1008.4,234.6" fill="none" stroke="#111111" stroke-width="1.25" stroke-linejoin="round" clip-path="url(#clipb)"/>
<polyline points="639.2,424.3 643.3,418.9 647.5,413.7 651.6,408.7 655.8,404.0 659.9,399.3 664.1,394.9 668.2,390.6 672.4,386.5 676.5,382.4 680.7,378.6 684.8,374.8 689.0,371.2 693.1,367.7 697.3,364.3 701.4,360.9 705.6,357.7 709.7,354.6 713.9,351.6 718.0,348.6 722.2,345.7 726.3,342.9 730.5,340.2 734.6,337.5 738.8,334.9 742.9,332.4 747.1,329.9 751.2,327.5 755.4,325.1 759.5,322.8 763.6,320.6 767.8,318.4 771.9,316.2 776.1,314.1 780.2,312.0 784.4,310.0 788.5,308.0 792.7,306.0 796.8,304.1 801.0,302.2 805.1,300.4 809.3,298.6 813.4,296.8 817.6,295.0 821.7,293.3 825.9,291.6 830.0,290.0 834.2,288.3 838.3,286.7 842.5,285.1 846.6,283.6 850.8,282.0 854.9,280.5 859.1,279.0 863.2,277.6 867.4,276.1 871.5,274.7 875.7,273.3 879.8,271.9 884.0,270.5 888.1,269.2 892.2,267.8 896.4,266.5 900.5,265.2 904.7,263.9 908.8,262.7 913.0,261.4 917.1,260.2 921.3,259.0 925.4,257.7 929.6,256.6 933.7,255.4 937.9,254.2 942.0,253.0 946.2,251.9 950.3,250.8 954.5,249.7 958.6,248.5 962.8,247.4 966.9,246.4 971.1,245.3 975.2,244.2 979.4,243.2 983.5,242.1 987.7,241.1 991.8,240.1 996.0,239.1 1000.1,238.0 1004.3,237.0 1008.4,236.1" fill="none" stroke="#111111" stroke-width="1.25" stroke-linejoin="round" clip-path="url(#clipb)"/>
<polyline points="639.2,426.7 643.3,421.2 647.5,416.0 651.6,411.1 655.8,406.3 659.9,401.6 664.1,397.2 668.2,392.9 672.4,388.8 676.5,384.8 680.7,380.9 684.8,377.2 689.0,373.6 693.1,370.1 697.3,366.7 701.4,363.4 705.6,360.2 709.7,357.1 713.9,354.1 718.0,351.2 722.2,348.4 726.3,345.6 730.5,342.9 734.6,340.3 738.8,337.7 742.9,335.3 747.1,332.8 751.2,330.5 755.4,328.2 759.5,325.9 763.6,323.7 767.8,321.6 771.9,319.5 776.1,317.4 780.2,315.4 784.4,313.4 788.5,311.5 792.7,309.6 796.8,307.8 801.0,306.0 805.1,304.2 809.3,302.4 813.4,300.7 817.6,299.0 821.7,297.4 825.9,295.8 830.0,294.2 834.2,292.6 838.3,291.1 842.5,289.6 846.6,288.1 850.8,286.7 854.9,285.2 859.1,283.8 863.2,282.4 867.4,281.1 871.5,279.7 875.7,278.4 879.8,277.1 884.0,275.8 888.1,274.5 892.2,273.3 896.4,272.1 900.5,270.8 904.7,269.6 908.8,268.5 913.0,267.3 917.1,266.1 921.3,265.0 925.4,263.9 929.6,262.8 933.7,261.7 937.9,260.6 942.0,259.5 946.2,258.5 950.3,257.4 954.5,256.4 958.6,255.4 962.8,254.4 966.9,253.4 971.1,252.4 975.2,251.4 979.4,250.5 983.5,249.5 987.7,248.6 991.8,247.7 996.0,246.7 1000.1,245.8 1004.3,244.9 1008.4,244.0" fill="none" stroke="#111111" stroke-width="1.25" stroke-linejoin="round" clip-path="url(#clipb)"/>
<polyline points="639.2,428.1 643.3,422.8 647.5,417.8 651.6,412.9 655.8,408.2 659.9,403.7 664.1,399.4 668.2,395.3 672.4,391.2 676.5,387.4 680.7,383.6 684.8,380.0 689.0,376.5 693.1,373.1 697.3,369.9 701.4,366.7 705.6,363.6 709.7,360.7 713.9,357.8 718.0,355.0 722.2,352.3 726.3,349.6 730.5,347.0 734.6,344.5 738.8,342.1 742.9,339.7 747.1,337.4 751.2,335.2 755.4,333.0 759.5,330.8 763.6,328.7 767.8,326.7 771.9,324.7 776.1,322.7 780.2,320.8 784.4,319.0 788.5,317.2 792.7,315.4 796.8,313.6 801.0,311.9 805.1,310.3 809.3,308.6 813.4,307.0 817.6,305.5 821.7,303.9 825.9,302.4 830.0,300.9 834.2,299.5 838.3,298.0 842.5,296.6 846.6,295.3 850.8,293.9 854.9,292.6 859.1,291.3 863.2,290.0 867.4,288.7 871.5,287.5 875.7,286.3 879.8,285.0 884.0,283.9 888.1,282.7 892.2,281.6 896.4,280.4 900.5,279.3 904.7,278.2 908.8,277.1 913.0,276.1 917.1,275.0 921.3,274.0 925.4,273.0 929.6,272.0 933.7,271.0 937.9,270.0 942.0,269.0 946.2,268.1 950.3,267.1 954.5,266.2 958.6,265.3 962.8,264.4 966.9,263.5 971.1,262.6 975.2,261.7 979.4,260.9 983.5,260.0 987.7,259.2 991.8,258.3 996.0,257.5 1000.1,256.7 1004.3,255.9 1008.4,255.1" fill="none" stroke="#111111" stroke-width="1.25" stroke-linejoin="round" clip-path="url(#clipb)"/>
<line x1="639.2" y1="201.45" x2="1008.4" y2="201.45" stroke="#111" stroke-width="1.3" stroke-dasharray="6.2 5.5" stroke-dashoffset="0.5"/>
<rect x="639.20" y="52.60" width="369.20" height="297.70" fill="none" stroke="#2a2a2a" stroke-width="1.3"/>
<path d="M639.20 350.30v-6M639.20 52.60v6M731.50 350.30v-6M731.50 52.60v6M823.80 350.30v-6M823.80 52.60v6M916.10 350.30v-6M916.10 52.60v6M1008.40 350.30v-6M1008.40 52.60v6M685.35 350.30v-3.5M685.35 52.60v3.5M777.65 350.30v-3.5M777.65 52.60v3.5M869.95 350.30v-3.5M869.95 52.60v3.5M962.25 350.30v-3.5M962.25 52.60v3.5M639.20 350.30h6M1008.40 350.30h-6M639.20 275.88h6M1008.40 275.88h-6M639.20 201.45h6M1008.40 201.45h-6M639.20 127.02h6M1008.40 127.02h-6M639.20 52.60h6M1008.40 52.60h-6M639.20 313.09h3.5M1008.40 313.09h-3.5M639.20 238.66h3.5M1008.40 238.66h-3.5M639.20 164.24h3.5M1008.40 164.24h-3.5M639.20 89.81h3.5M1008.40 89.81h-3.5" stroke="#2a2a2a" stroke-width="1.3" fill="none"/>
<text x="639.20" y="370.30" text-anchor="middle" font-size="18">50</text>
<text x="731.50" y="370.30" text-anchor="middle" font-size="18">75</text>
<text x="823.80" y="370.30" text-anchor="middle" font-size="18">100</text>
<text x="916.10" y="370.30" text-anchor="middle" font-size="18">125</text>
<text x="1008.40" y="370.30" text-anchor="middle" font-size="18">150</text>
<text x="632.20" y="356.10" text-anchor="end" font-size="18">-0.2</text>
<text x="632.20" y="281.68" text-anchor="end" font-size="18">-0.1</text>
<text x="632.20" y="207.25" text-anchor="end" font-size="18">0.0</text>
<text x="632.20" y="132.82" text-anchor="end" font-size="18">0.1</text>
<text x="632.20" y="58.40" text-anchor="end" font-size="18">0.2</text>
<text x="823.8" y="401.8" text-anchor="middle" font-size="22.6">f (kHz)</text>
<text transform="translate(592.3,202) rotate(-90)" text-anchor="middle" font-size="22.6">j<tspan font-size="16" dy="4.5">n</tspan><tspan dy="-4.5"> (Ω</tspan><tspan font-size="15.5" dy="-10">-1</tspan><tspan dy="10">)</tspan></text>
<polyline points="92.8,754.2 93.5,754.1 94.3,754.0 95.0,753.9 95.8,753.8 96.5,753.7 97.2,753.6 98.0,753.5 98.7,753.4 99.4,753.3 100.2,753.2 100.9,753.1 101.7,753.0 102.4,752.9 103.1,752.8 103.9,752.7 104.6,752.6 105.3,752.5 106.1,752.4 106.8,752.3 107.6,752.2 108.3,752.1 109.0,752.0 109.8,751.9 110.5,751.8 111.2,751.7 112.0,751.6 112.7,751.4 113.5,751.3 114.2,751.2 114.9,751.0 115.7,750.9 116.4,750.7 117.1,750.6 117.9,750.5 118.6,750.3 119.4,750.2 120.1,750.1 120.8,750.0 121.6,749.9 122.3,749.9 123.1,749.8 123.8,749.7 124.5,749.6 125.3,749.5 126.0,749.5 126.7,749.4 127.5,749.3 128.2,749.2 129.0,749.1 129.7,748.9 130.4,748.8 131.2,748.7 131.9,748.5 132.6,748.4 133.4,748.2 134.1,748.1 134.9,747.9 135.6,747.8 136.3,747.6 137.1,747.4 137.8,747.2 138.5,747.1 139.3,746.9 140.0,746.6 140.8,746.4 141.5,746.2 142.2,746.0 143.0,745.7 143.7,745.5 144.5,745.3 145.2,745.0 145.9,744.8 146.7,744.6 147.4,744.4 148.1,744.1 148.9,743.9 149.6,743.7 150.4,743.5 151.1,743.3 151.8,743.1 152.6,742.9 153.3,742.6 154.0,742.4 154.8,742.2 155.5,741.9 156.3,741.7 157.0,741.4 157.7,741.2 158.5,740.9 159.2,740.7 159.9,740.4 160.7,740.1 161.4,739.8 162.2,739.5 162.9,739.2 163.6,738.8 164.4,738.4 165.1,738.0 165.8,737.6 166.6,737.0 167.3,736.4 168.1,735.9 168.8,735.3 169.5,734.7 170.3,734.1 171.0,733.5 171.8,732.9 172.5,732.3 173.2,731.7 174.0,731.1 174.7,730.6 175.4,730.0 176.2,729.4 176.9,728.8 177.7,728.3 178.4,727.7 179.1,727.3 179.9,726.9 180.6,726.5 181.3,726.1 182.1,725.8 182.8,725.5 183.6,725.2 184.3,725.0 185.0,724.7 185.8,724.5 186.5,724.3 187.2,724.2 188.0,724.1 188.7,724.0 189.5,723.9 190.2,723.6 190.9,723.1 191.7,722.4 192.4,721.7 193.2,720.8 193.9,719.7 194.6,718.5 195.4,717.0 196.1,714.9 196.8,712.2 197.6,709.3 198.3,706.3 199.1,703.3 199.8,700.1 200.5,696.7 201.3,693.0 202.0,689.0 202.7,684.7 203.5,680.1 204.2,675.3 205.0,670.6 205.7,665.8 206.4,660.4 207.2,653.7 207.9,643.2 208.6,629.3 209.4,618.0 210.1,607.2 210.9,593.9 211.6,578.6 212.3,562.8 213.1,547.2 213.8,538.2 214.5,531.5 215.3,528.4 216.0,531.0 216.8,538.0 217.5,547.7 218.2,563.7 219.0,577.9 219.7,589.7 220.5,600.5 221.2,610.4 221.9,619.4 222.7,628.4 223.4,638.2 224.1,648.1 224.9,656.8 225.6,663.5 226.4,668.4 227.1,672.6 227.8,676.3 228.6,679.5 229.3,682.5 230.0,685.1 230.8,687.6 231.5,689.9 232.3,692.1 233.0,694.3 233.7,696.5 234.5,698.6 235.2,700.6 235.9,702.6 236.7,704.4 237.4,706.2 238.2,707.9 238.9,709.5 239.6,711.1 240.4,712.6 241.1,714.1 241.9,715.5 242.6,716.9 243.3,718.2 244.1,719.5 244.8,720.7 245.5,721.9 246.3,723.0 247.0,724.2 247.8,725.2 248.5,726.3 249.2,727.3 250.0,728.2 250.7,729.2 251.4,730.1 252.2,730.9 252.9,731.8 253.7,732.6 254.4,733.4 255.1,734.1 255.9,734.8 256.6,735.5 257.3,736.2 258.1,736.9 258.8,737.6 259.6,738.2 260.3,738.9 261.0,739.4 261.8,740.0 262.5,740.4 263.2,740.8 264.0,741.1 264.7,741.4 265.5,741.6 266.2,741.8 266.9,742.1 267.7,742.3 268.4,742.6 269.2,742.9 269.9,743.3 270.6,743.6 271.4,744.0 272.1,744.4 272.8,744.9 273.6,745.4 274.3,745.9 275.1,746.5 275.8,747.1 276.5,747.7 277.3,748.2 278.0,748.7 278.7,749.1 279.5,749.4 280.2,749.7 281.0,750.0 281.7,750.3 282.4,750.5 283.2,750.7 283.9,750.8 284.6,750.7 285.4,750.1 286.1,748.9 286.9,747.4 287.6,745.9 288.3,744.2 289.1,742.2 289.8,740.2 290.6,738.5 291.3,736.8 292.0,735.1 292.8,733.9 293.5,733.3 294.2,733.5 295.0,733.8 295.7,734.3 296.5,734.9 297.2,735.5 297.9,736.1 298.7,736.8 299.4,737.6 300.1,738.5 300.9,739.3 301.6,740.0 302.4,740.5 303.1,741.1 303.8,741.6 304.6,742.1 305.3,742.6 306.0,743.0 306.8,743.4 307.5,743.8 308.3,744.1 309.0,744.4 309.7,744.6 310.5,744.9 311.2,745.1 311.9,745.3 312.7,745.5 313.4,745.7 314.2,745.9 314.9,746.1 315.6,746.2 316.4,746.4 317.1,746.6 317.9,746.7 318.6,746.9 319.3,747.0 320.1,747.2 320.8,747.3 321.5,747.5 322.3,747.6 323.0,747.7 323.8,747.9 324.5,748.0 325.2,748.1 326.0,748.2 326.7,748.4 327.4,748.5 328.2,748.6 328.9,748.7 329.7,748.8 330.4,748.9 331.1,749.0 331.9,749.1 332.6,749.2 333.3,749.3 334.1,749.4 334.8,749.5 335.6,749.5 336.3,749.6 337.0,749.7 337.8,749.8 338.5,749.9 339.3,750.0 340.0,750.1 340.7,750.2 341.5,750.3 342.2,750.3 342.9,750.4 343.7,750.5 344.4,750.6 345.2,750.7 345.9,750.8 346.6,750.9 347.4,750.9 348.1,751.0 348.8,751.1 349.6,751.2 350.3,751.2 351.1,751.3 351.8,751.4 352.5,751.4 353.3,751.5 354.0,751.6 354.7,751.6 355.5,751.7 356.2,751.8 357.0,751.8 357.7,751.9 358.4,751.9 359.2,752.0 359.9,752.1 360.6,752.1 361.4,752.2 362.1,752.2 362.9,752.3 363.6,752.3 364.3,752.4 365.1,752.5 365.8,752.5 366.6,752.6 367.3,752.7 368.0,752.7 368.8,752.8 369.5,752.8 370.2,752.9 371.0,753.0 371.7,753.0 372.5,753.1 373.2,753.1 373.9,753.2 374.7,753.2 375.4,753.2 376.1,753.3 376.9,753.3 377.6,753.4 378.4,753.4 379.1,753.4 379.8,753.5 380.6,753.5 381.3,753.5 382.0,753.6 382.8,753.6 383.5,753.6 384.3,753.6 385.0,753.7 385.7,753.7 386.5,753.7 387.2,753.8 388.0,753.8 388.7,753.8 389.4,753.8 390.2,753.8 390.9,753.9 391.6,753.9 392.4,753.9 393.1,753.9 393.9,753.9 394.6,753.9 395.3,754.0 396.1,754.0 396.8,754.0 397.5,754.0 398.3,754.0 399.0,754.0 399.8,754.0 400.5,754.0 401.2,754.1 402.0,754.1 402.7,754.1 403.4,754.1 404.2,754.1 404.9,754.1 405.7,754.1 406.4,754.2 407.1,754.2 407.9,754.2 408.6,754.2 409.3,754.3 410.1,754.3 410.8,754.3 411.6,754.3 412.3,754.3 413.0,754.4 413.8,754.4 414.5,754.4 415.3,754.4 416.0,754.5 416.7,754.5 417.5,754.5 418.2,754.5 418.9,754.6 419.7,754.6 420.4,754.6 421.2,754.6 421.9,754.6 422.6,754.6 423.4,754.7 424.1,754.7 424.8,754.7 425.6,754.7 426.3,754.7 427.1,754.7 427.8,754.8 428.5,754.8 429.3,754.8 430.0,754.8 430.7,754.8 431.5,754.8 432.2,754.8 433.0,754.8 433.7,754.9 434.4,754.9 435.2,754.9 435.9,754.9 436.7,754.9 437.4,754.9 438.1,755.0 438.9,755.0 439.6,755.0 440.3,755.0 441.1,755.0 441.8,755.0 442.6,755.0 443.3,755.1 444.0,755.1 444.8,755.1 445.5,755.1 446.2,755.1 447.0,755.1 447.7,755.2 448.5,755.2 449.2,755.2 449.9,755.2 450.7,755.2 451.4,755.2 452.1,755.2 452.9,755.2 453.6,755.2 454.4,755.3 455.1,755.3 455.8,755.3 456.6,755.3 457.3,755.3 458.0,755.3 458.8,755.3 459.5,755.3 460.3,755.3 461.0,755.3" fill="none" stroke="#d62c38" stroke-width="1.4" stroke-linejoin="round" clip-path="url(#clipc)"/>
<polyline points="92.8,754.2 93.5,754.1 94.3,754.0 95.0,753.9 95.8,753.7 96.5,753.6 97.2,753.5 98.0,753.3 98.7,753.2 99.4,753.1 100.2,752.9 100.9,752.8 101.7,752.7 102.4,752.6 103.1,752.4 103.9,752.3 104.6,752.1 105.3,752.0 106.1,751.9 106.8,751.7 107.6,751.6 108.3,751.5 109.0,751.3 109.8,751.2 110.5,751.1 111.2,751.0 112.0,750.9 112.7,750.8 113.5,750.6 114.2,750.5 114.9,750.4 115.7,750.3 116.4,750.2 117.1,750.1 117.9,750.0 118.6,749.9 119.4,749.8 120.1,749.7 120.8,749.5 121.6,749.4 122.3,749.3 123.1,749.2 123.8,749.1 124.5,748.9 125.3,748.8 126.0,748.7 126.7,748.6 127.5,748.4 128.2,748.3 129.0,748.1 129.7,748.0 130.4,747.8 131.2,747.6 131.9,747.5 132.6,747.3 133.4,747.1 134.1,746.9 134.9,746.7 135.6,746.5 136.3,746.3 137.1,746.1 137.8,745.9 138.5,745.6 139.3,745.4 140.0,745.1 140.8,744.9 141.5,744.6 142.2,744.3 143.0,744.0 143.7,743.7 144.5,743.4 145.2,743.0 145.9,742.7 146.7,742.3 147.4,741.9 148.1,741.5 148.9,741.0 149.6,740.6 150.4,740.1 151.1,739.6 151.8,739.1 152.6,738.5 153.3,738.0 154.0,737.4 154.8,736.7 155.5,736.1 156.3,735.4 157.0,734.8 157.7,734.1 158.5,733.3 159.2,732.5 159.9,731.6 160.7,730.7 161.4,729.7 162.2,728.6 162.9,727.4 163.6,726.1 164.4,724.4 165.1,722.5 165.8,720.4 166.6,718.2 167.3,715.6 168.1,712.7 168.8,709.5 169.5,706.2 170.3,702.5 171.0,699.4 171.8,696.6 172.5,694.2 173.2,692.9 174.0,693.3 174.7,694.8 175.4,697.0 176.2,699.7 176.9,703.9 177.7,708.0 178.4,711.4 179.1,714.5 179.9,717.1 180.6,719.1 181.3,721.0 182.1,722.5 182.8,723.6 183.6,724.1 184.3,724.5 185.0,724.8 185.8,725.0 186.5,725.0 187.2,725.0 188.0,725.0 188.7,725.0 189.5,725.0 190.2,725.1 190.9,725.8 191.7,726.8 192.4,728.1 193.2,729.4 193.9,730.6 194.6,731.9 195.4,733.2 196.1,734.6 196.8,736.1 197.6,737.6 198.3,739.0 199.1,740.4 199.8,741.8 200.5,743.1 201.3,744.4 202.0,745.7 202.7,746.9 203.5,748.1 204.2,749.2 205.0,750.2 205.7,751.2 206.4,752.1 207.2,753.1 207.9,753.9 208.6,754.7 209.4,755.4 210.1,755.9 210.9,756.4 211.6,756.8 212.3,757.3 213.1,757.7 213.8,758.0 214.5,758.3 215.3,758.6 216.0,758.9 216.8,759.0 217.5,759.1 218.2,759.1 219.0,759.0 219.7,758.9 220.5,758.6 221.2,758.4 221.9,758.0 222.7,757.7 223.4,757.3 224.1,756.9 224.9,756.4 225.6,756.0 226.4,755.6 227.1,755.1 227.8,754.5 228.6,753.9 229.3,753.2 230.0,752.5 230.8,751.7 231.5,751.0 232.3,750.2 233.0,749.4 233.7,748.6 234.5,747.7 235.2,746.8 235.9,745.8 236.7,744.8 237.4,743.7 238.2,742.6 238.9,741.5 239.6,740.4 240.4,739.2 241.1,737.9 241.9,736.7 242.6,735.4 243.3,734.1 244.1,732.7 244.8,731.2 245.5,729.6 246.3,727.8 247.0,725.8 247.8,723.4 248.5,720.7 249.2,717.7 250.0,714.5 250.7,711.2 251.4,707.7 252.2,703.6 252.9,699.1 253.7,694.9 254.4,691.4 255.1,688.4 255.9,685.6 256.6,683.4 257.3,682.5 258.1,683.2 258.8,685.3 259.6,688.1 260.3,691.1 261.0,694.3 261.8,698.3 262.5,702.7 263.2,707.1 264.0,711.3 264.7,715.7 265.5,719.9 266.2,723.7 266.9,726.9 267.7,730.1 268.4,732.9 269.2,734.6 269.9,734.8 270.6,734.1 271.4,733.1 272.1,731.8 272.8,730.5 273.6,728.3 274.3,725.7 275.1,723.5 275.8,722.7 276.5,723.6 277.3,725.5 278.0,728.0 278.7,730.2 279.5,731.8 280.2,733.3 281.0,734.6 281.7,735.3 282.4,734.5 283.2,731.7 283.9,727.8 284.6,723.5 285.4,717.5 286.1,710.4 286.9,703.8 287.6,697.3 288.3,691.1 289.1,686.5 289.8,682.6 290.6,679.1 291.3,676.6 292.0,675.7 292.8,676.6 293.5,679.0 294.2,682.1 295.0,685.3 295.7,688.6 296.5,692.6 297.2,696.6 297.9,700.1 298.7,702.9 299.4,705.5 300.1,707.8 300.9,710.0 301.6,712.1 302.4,714.3 303.1,716.4 303.8,718.5 304.6,720.6 305.3,722.5 306.0,724.2 306.8,725.7 307.5,727.1 308.3,728.5 309.0,729.7 309.7,730.9 310.5,731.9 311.2,732.9 311.9,733.7 312.7,734.5 313.4,735.3 314.2,736.0 314.9,736.6 315.6,737.2 316.4,737.8 317.1,738.3 317.9,738.8 318.6,739.3 319.3,739.7 320.1,740.2 320.8,740.6 321.5,741.0 322.3,741.3 323.0,741.6 323.8,741.9 324.5,742.2 325.2,742.4 326.0,742.7 326.7,742.9 327.4,743.1 328.2,743.3 328.9,743.5 329.7,743.7 330.4,743.9 331.1,744.1 331.9,744.3 332.6,744.4 333.3,744.6 334.1,744.8 334.8,745.0 335.6,745.2 336.3,745.4 337.0,745.5 337.8,745.7 338.5,745.8 339.3,745.9 340.0,746.1 340.7,746.2 341.5,746.3 342.2,746.4 342.9,746.5 343.7,746.7 344.4,746.8 345.2,746.9 345.9,747.0 346.6,747.1 347.4,747.2 348.1,747.3 348.8,747.4 349.6,747.5 350.3,747.6 351.1,747.7 351.8,747.8 352.5,747.9 353.3,748.0 354.0,748.1 354.7,748.2 355.5,748.3 356.2,748.3 357.0,748.4 357.7,748.5 358.4,748.6 359.2,748.6 359.9,748.7 360.6,748.8 361.4,748.8 362.1,748.9 362.9,749.0 363.6,749.0 364.3,749.1 365.1,749.2 365.8,749.2 366.6,749.3 367.3,749.4 368.0,749.4 368.8,749.5 369.5,749.5 370.2,749.6 371.0,749.7 371.7,749.7 372.5,749.8 373.2,749.9 373.9,749.9 374.7,750.0 375.4,750.1 376.1,750.1 376.9,750.2 377.6,750.3 378.4,750.4 379.1,750.4 379.8,750.5 380.6,750.6 381.3,750.7 382.0,750.8 382.8,750.8 383.5,750.9 384.3,751.0 385.0,751.1 385.7,751.1 386.5,751.2 387.2,751.3 388.0,751.4 388.7,751.4 389.4,751.5 390.2,751.6 390.9,751.6 391.6,751.7 392.4,751.7 393.1,751.8 393.9,751.8 394.6,751.9 395.3,751.9 396.1,752.0 396.8,752.1 397.5,752.1 398.3,752.2 399.0,752.2 399.8,752.3 400.5,752.3 401.2,752.4 402.0,752.4 402.7,752.4 403.4,752.5 404.2,752.5 404.9,752.6 405.7,752.6 406.4,752.7 407.1,752.7 407.9,752.8 408.6,752.8 409.3,752.9 410.1,752.9 410.8,753.0 411.6,753.0 412.3,753.1 413.0,753.1 413.8,753.2 414.5,753.2 415.3,753.2 416.0,753.3 416.7,753.3 417.5,753.4 418.2,753.4 418.9,753.5 419.7,753.5 420.4,753.5 421.2,753.6 421.9,753.6 422.6,753.6 423.4,753.7 424.1,753.7 424.8,753.7 425.6,753.8 426.3,753.8 427.1,753.8 427.8,753.8 428.5,753.9 429.3,753.9 430.0,753.9 430.7,754.0 431.5,754.0 432.2,754.0 433.0,754.0 433.7,754.1 434.4,754.1 435.2,754.1 435.9,754.1 436.7,754.2 437.4,754.2 438.1,754.2 438.9,754.2 439.6,754.3 440.3,754.3 441.1,754.3 441.8,754.3 442.6,754.4 443.3,754.4 444.0,754.4 444.8,754.4 445.5,754.4 446.2,754.5 447.0,754.5 447.7,754.5 448.5,754.5 449.2,754.5 449.9,754.6 450.7,754.6 451.4,754.6 452.1,754.6 452.9,754.7 453.6,754.7 454.4,754.7 455.1,754.7 455.8,754.7 456.6,754.8 457.3,754.8 458.0,754.8 458.8,754.8 459.5,754.8 460.3,754.9 461.0,754.9" fill="none" stroke="#2828b0" stroke-width="1.4" stroke-linejoin="round" clip-path="url(#clipc)"/>
<polyline points="92.8,754.2 93.5,754.1 94.3,754.0 95.0,753.9 95.8,753.7 96.5,753.6 97.2,753.5 98.0,753.4 98.7,753.2 99.4,753.1 100.2,753.0 100.9,752.8 101.7,752.7 102.4,752.5 103.1,752.4 103.9,752.2 104.6,752.1 105.3,751.9 106.1,751.8 106.8,751.6 107.6,751.5 108.3,751.3 109.0,751.2 109.8,751.0 110.5,750.9 111.2,750.8 112.0,750.7 112.7,750.6 113.5,750.5 114.2,750.4 114.9,750.2 115.7,750.1 116.4,750.0 117.1,749.9 117.9,749.8 118.6,749.7 119.4,749.6 120.1,749.5 120.8,749.4 121.6,749.2 122.3,749.1 123.1,749.0 123.8,748.9 124.5,748.7 125.3,748.6 126.0,748.5 126.7,748.3 127.5,748.2 128.2,748.0 129.0,747.8 129.7,747.6 130.4,747.4 131.2,747.2 131.9,746.9 132.6,746.7 133.4,746.4 134.1,746.2 134.9,745.9 135.6,745.6 136.3,745.3 137.1,745.0 137.8,744.7 138.5,744.5 139.3,744.2 140.0,743.9 140.8,743.6 141.5,743.3 142.2,743.0 143.0,742.7 143.7,742.4 144.5,742.0 145.2,741.7 145.9,741.3 146.7,740.9 147.4,740.5 148.1,740.1 148.9,739.7 149.6,739.2 150.4,738.8 151.1,738.3 151.8,737.7 152.6,737.2 153.3,736.5 154.0,735.9 154.8,735.1 155.5,734.3 156.3,733.4 157.0,732.4 157.7,731.2 158.5,729.9 159.2,728.4 159.9,726.7 160.7,725.0 161.4,723.0 162.2,720.9 162.9,718.7 163.6,716.3 164.4,713.8 165.1,711.1 165.8,708.2 166.6,705.3 167.3,702.1 168.1,698.8 168.8,694.4 169.5,688.6 170.3,683.7 171.0,679.5 171.8,675.5 172.5,671.7 173.2,668.6 174.0,667.5 174.7,669.5 175.4,671.9 176.2,675.1 176.9,679.8 177.7,686.9 178.4,694.3 179.1,700.2 179.9,705.0 180.6,709.3 181.3,713.1 182.1,716.6 182.8,719.7 183.6,722.2 184.3,723.8 185.0,724.8 185.8,725.5 186.5,726.1 187.2,726.5 188.0,726.4 188.7,726.0 189.5,725.2 190.2,724.3 190.9,723.3 191.7,722.3 192.4,720.9 193.2,719.3 193.9,717.9 194.6,716.9 195.4,716.6 196.1,717.0 196.8,717.7 197.6,718.6 198.3,719.7 199.1,720.9 199.8,722.0 200.5,723.4 201.3,724.9 202.0,726.5 202.7,728.0 203.5,729.3 204.2,730.6 205.0,732.0 205.7,733.2 206.4,734.5 207.2,735.7 207.9,736.9 208.6,737.9 209.4,739.0 210.1,739.9 210.9,740.7 211.6,741.5 212.3,742.3 213.1,743.0 213.8,743.7 214.5,744.3 215.3,744.9 216.0,745.5 216.8,746.1 217.5,746.7 218.2,747.2 219.0,747.7 219.7,748.2 220.5,748.7 221.2,749.1 221.9,749.6 222.7,750.0 223.4,750.4 224.1,750.8 224.9,751.2 225.6,751.6 226.4,752.0 227.1,752.3 227.8,752.7 228.6,753.1 229.3,753.4 230.0,753.7 230.8,754.1 231.5,754.4 232.3,754.7 233.0,755.0 233.7,755.3 234.5,755.5 235.2,755.8 235.9,756.1 236.7,756.3 237.4,756.6 238.2,756.8 238.9,757.1 239.6,757.3 240.4,757.5 241.1,757.7 241.9,757.9 242.6,758.1 243.3,758.3 244.1,758.5 244.8,758.7 245.5,758.9 246.3,759.0 247.0,759.2 247.8,759.3 248.5,759.5 249.2,759.6 250.0,759.7 250.7,759.8 251.4,759.9 252.2,760.0 252.9,760.0 253.7,760.1 254.4,760.2 255.1,760.3 255.9,760.3 256.6,760.4 257.3,760.5 258.1,760.5 258.8,760.6 259.6,760.6 260.3,760.6 261.0,760.6 261.8,760.5 262.5,760.4 263.2,760.3 264.0,760.1 264.7,759.9 265.5,759.8 266.2,759.6 266.9,759.4 267.7,759.2 268.4,759.0 269.2,758.8 269.9,758.5 270.6,758.2 271.4,757.9 272.1,757.4 272.8,756.9 273.6,756.4 274.3,756.1 275.1,756.2 275.8,756.4 276.5,756.8 277.3,757.2 278.0,757.4 278.7,757.6 279.5,757.8 280.2,758.0 281.0,758.2 281.7,758.4 282.4,758.5 283.2,758.7 283.9,758.8 284.6,758.8 285.4,758.8 286.1,758.8 286.9,758.8 287.6,758.7 288.3,758.6 289.1,758.6 289.8,758.5 290.6,758.5 291.3,758.4 292.0,758.4 292.8,758.4 293.5,758.4 294.2,758.4 295.0,758.4 295.7,758.4 296.5,758.4 297.2,758.4 297.9,758.4 298.7,758.4 299.4,758.4 300.1,758.4 300.9,758.4 301.6,758.3 302.4,758.3 303.1,758.2 303.8,758.2 304.6,758.1 305.3,758.0 306.0,757.9 306.8,757.7 307.5,757.4 308.3,757.1 309.0,756.9 309.7,756.6 310.5,756.3 311.2,756.0 311.9,755.7 312.7,755.4 313.4,755.1 314.2,754.8 314.9,754.5 315.6,754.1 316.4,753.8 317.1,753.5 317.9,753.1 318.6,752.8 319.3,752.4 320.1,752.1 320.8,751.7 321.5,751.3 322.3,750.9 323.0,750.5 323.8,750.1 324.5,749.7 325.2,749.2 326.0,748.7 326.7,748.2 327.4,747.7 328.2,747.1 328.9,746.5 329.7,745.7 330.4,744.9 331.1,743.9 331.9,742.9 332.6,741.8 333.3,740.7 334.1,739.6 334.8,738.6 335.6,737.5 336.3,736.4 337.0,735.1 337.8,733.5 338.5,731.4 339.3,728.9 340.0,726.5 340.7,724.6 341.5,722.8 342.2,721.1 342.9,719.5 343.7,718.5 344.4,718.2 345.2,718.9 345.9,720.6 346.6,722.7 347.4,724.9 348.1,727.4 348.8,730.3 349.6,733.2 350.3,735.4 351.1,736.8 351.8,738.0 352.5,738.6 353.3,738.1 354.0,736.2 354.7,733.2 355.5,729.8 356.2,726.2 357.0,722.7 357.7,718.3 358.4,713.7 359.2,709.7 359.9,707.0 360.6,704.5 361.4,702.5 362.1,701.5 362.9,702.1 363.6,704.4 364.3,707.4 365.1,710.5 365.8,713.1 366.6,715.8 367.3,718.5 368.0,721.2 368.8,723.8 369.5,726.4 370.2,728.9 371.0,731.4 371.7,733.7 372.5,735.9 373.2,737.9 373.9,739.9 374.7,741.8 375.4,743.3 376.1,744.2 376.9,744.9 377.6,745.4 378.4,745.5 379.1,744.7 379.8,743.2 380.6,741.5 381.3,740.1 382.0,738.7 382.8,737.3 383.5,736.1 384.3,735.6 385.0,736.2 385.7,737.5 386.5,738.6 387.2,739.1 388.0,739.6 388.7,740.0 389.4,740.2 390.2,739.6 390.9,737.5 391.6,734.7 392.4,731.9 393.1,729.5 393.9,726.9 394.6,724.2 395.3,722.0 396.1,720.6 396.8,720.6 397.5,721.7 398.3,723.5 399.0,725.4 399.8,727.2 400.5,729.2 401.2,731.3 402.0,733.2 402.7,734.4 403.4,735.4 404.2,736.2 404.9,736.3 405.7,735.0 406.4,732.4 407.1,729.2 407.9,726.3 408.6,723.4 409.3,720.2 410.1,717.1 410.8,714.5 411.6,711.9 412.3,709.7 413.0,709.1 413.8,709.8 414.5,711.1 415.3,712.6 416.0,714.3 416.7,716.6 417.5,719.1 418.2,721.4 418.9,723.2 419.7,724.8 420.4,726.3 421.2,727.7 421.9,729.0 422.6,730.2 423.4,731.3 424.1,732.4 424.8,733.4 425.6,734.3 426.3,735.2 427.1,735.9 427.8,736.6 428.5,737.2 429.3,737.8 430.0,738.4 430.7,738.9 431.5,739.4 432.2,739.8 433.0,740.2 433.7,740.6 434.4,741.0 435.2,741.3 435.9,741.6 436.7,741.9 437.4,742.1 438.1,742.4 438.9,742.7 439.6,742.9 440.3,743.2 441.1,743.4 441.8,743.7 442.6,743.9 443.3,744.2 444.0,744.4 444.8,744.6 445.5,744.9 446.2,745.1 447.0,745.3 447.7,745.4 448.5,745.6 449.2,745.7 449.9,745.9 450.7,746.0 451.4,746.1 452.1,746.2 452.9,746.3 453.6,746.4 454.4,746.5 455.1,746.6 455.8,746.7 456.6,746.8 457.3,746.9 458.0,747.0 458.8,747.1 459.5,747.2 460.3,747.3 461.0,747.4" fill="none" stroke="#3cd246" stroke-width="1.4" stroke-linejoin="round" clip-path="url(#clipc)"/>
<polyline points="92.8,754.2 93.5,754.1 94.3,754.0 95.0,753.9 95.8,753.7 96.5,753.6 97.2,753.5 98.0,753.4 98.7,753.2 99.4,753.1 100.2,753.0 100.9,752.8 101.7,752.7 102.4,752.5 103.1,752.4 103.9,752.2 104.6,752.1 105.3,751.9 106.1,751.8 106.8,751.6 107.6,751.5 108.3,751.3 109.0,751.2 109.8,751.0 110.5,750.9 111.2,750.8 112.0,750.7 112.7,750.6 113.5,750.5 114.2,750.4 114.9,750.3 115.7,750.2 116.4,750.0 117.1,749.9 117.9,749.8 118.6,749.7 119.4,749.6 120.1,749.5 120.8,749.3 121.6,749.2 122.3,749.1 123.1,748.9 123.8,748.8 124.5,748.7 125.3,748.5 126.0,748.3 126.7,748.2 127.5,748.0 128.2,747.8 129.0,747.6 129.7,747.4 130.4,747.2 131.2,747.0 131.9,746.7 132.6,746.5 133.4,746.2 134.1,745.9 134.9,745.6 135.6,745.3 136.3,745.1 137.1,744.8 137.8,744.5 138.5,744.2 139.3,743.9 140.0,743.6 140.8,743.3 141.5,743.0 142.2,742.7 143.0,742.3 143.7,742.0 144.5,741.6 145.2,741.3 145.9,740.9 146.7,740.5 147.4,740.0 148.1,739.6 148.9,739.1 149.6,738.6 150.4,738.0 151.1,737.5 151.8,736.9 152.6,736.2 153.3,735.6 154.0,734.9 154.8,734.2 155.5,733.4 156.3,732.6 157.0,731.8 157.7,731.0 158.5,730.0 159.2,729.1 159.9,727.9 160.7,726.7 161.4,725.3 162.2,723.8 162.9,722.0 163.6,719.7 164.4,716.3 165.1,712.2 165.8,707.7 166.6,702.9 167.3,698.3 168.1,693.7 168.8,688.7 169.5,683.0 170.3,676.5 171.0,670.0 171.8,663.6 172.5,659.0 173.2,655.6 174.0,654.8 174.7,657.7 175.4,662.0 176.2,668.1 176.9,674.9 177.7,682.5 178.4,689.9 179.1,697.4 179.9,704.1 180.6,708.9 181.3,712.8 182.1,716.1 182.8,718.8 183.6,721.2 184.3,723.3 185.0,725.1 185.8,726.7 186.5,728.4 187.2,730.0 188.0,731.3 188.7,732.1 189.5,732.3 190.2,732.0 190.9,731.4 191.7,730.6 192.4,729.6 193.2,727.3 193.9,724.0 194.6,720.5 195.4,717.4 196.1,714.1 196.8,710.8 197.6,708.3 198.3,707.5 199.1,708.2 199.8,709.5 200.5,711.2 201.3,712.9 202.0,714.9 202.7,717.4 203.5,720.1 204.2,722.6 205.0,724.8 205.7,726.5 206.4,728.1 207.2,729.7 207.9,731.1 208.6,732.4 209.4,733.5 210.1,734.6 210.9,735.5 211.6,736.3 212.3,737.1 213.1,737.8 213.8,738.5 214.5,739.1 215.3,739.7 216.0,740.3 216.8,740.8 217.5,741.4 218.2,741.9 219.0,742.4 219.7,742.9 220.5,743.4 221.2,743.8 221.9,744.3 222.7,744.7 223.4,745.1 224.1,745.5 224.9,745.9 225.6,746.3 226.4,746.6 227.1,746.9 227.8,747.3 228.6,747.6 229.3,747.9 230.0,748.2 230.8,748.4 231.5,748.7 232.3,749.0 233.0,749.2 233.7,749.5 234.5,749.7 235.2,750.0 235.9,750.2 236.7,750.4 237.4,750.6 238.2,750.9 238.9,751.1 239.6,751.3 240.4,751.5 241.1,751.6 241.9,751.8 242.6,752.0 243.3,752.1 244.1,752.2 244.8,752.4 245.5,752.5 246.3,752.7 247.0,752.8 247.8,752.9 248.5,753.1 249.2,753.2 250.0,753.4 250.7,753.6 251.4,753.7 252.2,753.9 252.9,754.0 253.7,754.2 254.4,754.3 255.1,754.4 255.9,754.6 256.6,754.7 257.3,754.8 258.1,754.9 258.8,755.0 259.6,755.1 260.3,755.2 261.0,755.3 261.8,755.4 262.5,755.5 263.2,755.6 264.0,755.7 264.7,755.8 265.5,755.8 266.2,755.9 266.9,756.0 267.7,756.1 268.4,756.1 269.2,756.2 269.9,756.2 270.6,756.2 271.4,756.2 272.1,756.2 272.8,756.2 273.6,756.2 274.3,756.1 275.1,756.1 275.8,756.1 276.5,756.1 277.3,756.1 278.0,756.2 278.7,756.3 279.5,756.5 280.2,756.6 281.0,756.8 281.7,756.9 282.4,757.1 283.2,757.3 283.9,757.4 284.6,757.5 285.4,757.6 286.1,757.7 286.9,757.8 287.6,757.9 288.3,758.0 289.1,758.1 289.8,758.1 290.6,758.2 291.3,758.3 292.0,758.3 292.8,758.4 293.5,758.5 294.2,758.5 295.0,758.6 295.7,758.7 296.5,758.8 297.2,758.8 297.9,758.9 298.7,759.0 299.4,759.0 300.1,759.1 300.9,759.2 301.6,759.3 302.4,759.3 303.1,759.4 303.8,759.5 304.6,759.6 305.3,759.7 306.0,759.7 306.8,759.8 307.5,759.9 308.3,760.0 309.0,760.1 309.7,760.1 310.5,760.2 311.2,760.3 311.9,760.3 312.7,760.4 313.4,760.5 314.2,760.5 314.9,760.6 315.6,760.6 316.4,760.7 317.1,760.7 317.9,760.8 318.6,760.8 319.3,760.9 320.1,760.9 320.8,761.0 321.5,761.0 322.3,761.0 323.0,761.1 323.8,761.1 324.5,761.1 325.2,761.2 326.0,761.2 326.7,761.2 327.4,761.3 328.2,761.3 328.9,761.3 329.7,761.4 330.4,761.4 331.1,761.4 331.9,761.4 332.6,761.5 333.3,761.5 334.1,761.5 334.8,761.6 335.6,761.6 336.3,761.6 337.0,761.6 337.8,761.7 338.5,761.7 339.3,761.7 340.0,761.8 340.7,761.8 341.5,761.8 342.2,761.8 342.9,761.8 343.7,761.8 344.4,761.8 345.2,761.8 345.9,761.9 346.6,761.9 347.4,761.9 348.1,761.9 348.8,761.9 349.6,761.9 350.3,761.9 351.1,761.9 351.8,761.9 352.5,761.9 353.3,761.9 354.0,761.9 354.7,761.9 355.5,761.9 356.2,761.9 357.0,761.9 357.7,761.9 358.4,761.9 359.2,761.9 359.9,761.9 360.6,761.9 361.4,761.9 362.1,761.8 362.9,761.8 363.6,761.8 364.3,761.8 365.1,761.7 365.8,761.7 366.6,761.6 367.3,761.6 368.0,761.5 368.8,761.5 369.5,761.4 370.2,761.4 371.0,761.3 371.7,761.2 372.5,761.2 373.2,761.1 373.9,761.1 374.7,761.0 375.4,761.0 376.1,760.9 376.9,760.9 377.6,760.8 378.4,760.8 379.1,760.7 379.8,760.7 380.6,760.7 381.3,760.6 382.0,760.6 382.8,760.5 383.5,760.5 384.3,760.4 385.0,760.4 385.7,760.3 386.5,760.3 387.2,760.2 388.0,760.2 388.7,760.1 389.4,760.0 390.2,759.9 390.9,759.9 391.6,759.8 392.4,759.7 393.1,759.5 393.9,759.4 394.6,759.3 395.3,759.1 396.1,758.9 396.8,758.7 397.5,758.5 398.3,758.3 399.0,758.0 399.8,757.6 400.5,757.2 401.2,756.7 402.0,756.2 402.7,755.7 403.4,755.1 404.2,754.5 404.9,753.7 405.7,752.7 406.4,751.7 407.1,750.7 407.9,749.8 408.6,748.9 409.3,748.1 410.1,747.5 410.8,747.4 411.6,747.7 412.3,748.4 413.0,749.2 413.8,750.1 414.5,751.3 415.3,752.5 416.0,753.6 416.7,754.5 417.5,755.4 418.2,756.2 418.9,757.0 419.7,757.7 420.4,758.2 421.2,758.6 421.9,759.0 422.6,759.4 423.4,759.7 424.1,759.9 424.8,760.2 425.6,760.4 426.3,760.6 427.1,760.7 427.8,760.9 428.5,761.0 429.3,761.1 430.0,761.2 430.7,761.3 431.5,761.4 432.2,761.5 433.0,761.6 433.7,761.6 434.4,761.7 435.2,761.7 435.9,761.7 436.7,761.8 437.4,761.8 438.1,761.8 438.9,761.8 439.6,761.8 440.3,761.8 441.1,761.8 441.8,761.8 442.6,761.8 443.3,761.8 444.0,761.9 444.8,761.9 445.5,761.9 446.2,761.9 447.0,761.9 447.7,761.9 448.5,761.9 449.2,761.9 449.9,761.9 450.7,761.9 451.4,761.9 452.1,761.9 452.9,761.9 453.6,761.9 454.4,761.8 455.1,761.8 455.8,761.8 456.6,761.7 457.3,761.7 458.0,761.7 458.8,761.6 459.5,761.6 460.3,761.5 461.0,761.5" fill="none" stroke="#111111" stroke-width="1.4" stroke-linejoin="round" clip-path="url(#clipc)"/>
<line x1="102.6" y1="480.8" x2="144.0" y2="480.8" stroke="#d62c38" stroke-width="1.4"/>
<text x="149.0" y="486.7" font-size="17.9">corner</text>
<line x1="102.6" y1="503.4" x2="144.0" y2="503.4" stroke="#2828b0" stroke-width="1.4"/>
<text x="149.0" y="509.3" font-size="17.9">hinge</text>
<line x1="102.6" y1="526.0" x2="144.0" y2="526.0" stroke="#3cd246" stroke-width="1.4"/>
<text x="149.0" y="531.9" font-size="17.9">surface</text>
<line x1="102.6" y1="548.6" x2="144.0" y2="548.6" stroke="#111111" stroke-width="1.4"/>
<text x="149.0" y="554.5" font-size="17.9">bulk</text>
<rect x="92.80" y="464.50" width="368.20" height="297.60" fill="none" stroke="#2a2a2a" stroke-width="1.3"/>
<path d="M92.80 762.10v-6M92.80 464.50v6M184.85 762.10v-6M184.85 464.50v6M276.90 762.10v-6M276.90 464.50v6M368.95 762.10v-6M368.95 464.50v6M461.00 762.10v-6M461.00 464.50v6M138.82 762.10v-3.5M138.82 464.50v3.5M230.88 762.10v-3.5M230.88 464.50v3.5M322.93 762.10v-3.5M322.93 464.50v3.5M414.98 762.10v-3.5M414.98 464.50v3.5M92.80 762.10h6M461.00 762.10h-6M92.80 687.70h6M461.00 687.70h-6M92.80 613.30h6M461.00 613.30h-6M92.80 538.90h6M461.00 538.90h-6M92.80 464.50h6M461.00 464.50h-6M92.80 724.90h3.5M461.00 724.90h-3.5M92.80 650.50h3.5M461.00 650.50h-3.5M92.80 576.10h3.5M461.00 576.10h-3.5M92.80 501.70h3.5M461.00 501.70h-3.5" stroke="#2a2a2a" stroke-width="1.3" fill="none"/>
<text x="92.80" y="782.10" text-anchor="middle" font-size="18">50</text>
<text x="184.85" y="782.10" text-anchor="middle" font-size="18">75</text>
<text x="276.90" y="782.10" text-anchor="middle" font-size="18">100</text>
<text x="368.95" y="782.10" text-anchor="middle" font-size="18">125</text>
<text x="461.00" y="782.10" text-anchor="middle" font-size="18">150</text>
<text x="85.80" y="767.90" text-anchor="end" font-size="18">0</text>
<text x="85.80" y="693.50" text-anchor="end" font-size="18">50</text>
<text x="85.80" y="619.10" text-anchor="end" font-size="18">100</text>
<text x="85.80" y="544.70" text-anchor="end" font-size="18">150</text>
<text x="85.80" y="470.30" text-anchor="end" font-size="18">200</text>
<text x="276.9" y="816.5" text-anchor="middle" font-size="22.6">f (kHz)</text>
<text transform="translate(51.1,613.3) rotate(-90)" text-anchor="middle" font-size="22.6">Z (Ω)</text>
<polyline points="639.2,748.9 639.9,748.8 640.7,748.7 641.4,748.5 642.2,748.4 642.9,748.3 643.6,748.1 644.4,748.0 645.1,747.9 645.9,747.8 646.6,747.6 647.3,747.5 648.1,747.4 648.8,747.2 649.6,747.1 650.3,746.9 651.0,746.8 651.8,746.7 652.5,746.5 653.3,746.4 654.0,746.3 654.7,746.1 655.5,746.0 656.2,745.8 657.0,745.7 657.7,745.6 658.4,745.4 659.2,745.3 659.9,745.2 660.7,745.0 661.4,744.9 662.1,744.7 662.9,744.6 663.6,744.4 664.4,744.3 665.1,744.1 665.8,744.0 666.6,743.8 667.3,743.7 668.1,743.5 668.8,743.3 669.5,743.1 670.3,743.0 671.0,742.8 671.8,742.6 672.5,742.4 673.2,742.2 674.0,742.0 674.7,741.8 675.5,741.6 676.2,741.4 676.9,741.1 677.7,740.9 678.4,740.7 679.2,740.4 679.9,740.2 680.6,740.0 681.4,739.7 682.1,739.5 682.9,739.2 683.6,739.0 684.3,738.7 685.1,738.4 685.8,738.2 686.6,737.9 687.3,737.6 688.0,737.4 688.8,737.1 689.5,736.8 690.3,736.5 691.0,736.2 691.7,735.9 692.5,735.5 693.2,735.2 694.0,734.8 694.7,734.4 695.4,734.0 696.2,733.6 696.9,733.2 697.7,732.7 698.4,732.1 699.1,731.5 699.9,730.8 700.6,730.1 701.3,729.4 702.1,728.7 702.8,727.9 703.6,727.2 704.3,726.4 705.0,725.7 705.8,724.9 706.5,724.1 707.3,723.3 708.0,722.5 708.7,721.7 709.5,720.9 710.2,720.0 711.0,719.2 711.7,718.3 712.4,717.4 713.2,716.5 713.9,715.6 714.7,714.7 715.4,713.8 716.1,712.8 716.9,711.9 717.6,710.9 718.4,710.0 719.1,708.9 719.8,707.9 720.6,706.9 721.3,705.8 722.1,704.8 722.8,703.8 723.5,702.8 724.3,701.8 725.0,700.8 725.8,699.9 726.5,698.9 727.2,698.0 728.0,697.0 728.7,696.1 729.5,695.3 730.2,694.5 730.9,693.7 731.7,693.1 732.4,692.5 733.2,691.8 733.9,691.2 734.6,690.4 735.4,689.6 736.1,688.6 736.9,687.5 737.6,686.2 738.3,684.8 739.1,683.2 739.8,681.3 740.6,679.0 741.3,676.3 742.0,672.9 742.8,668.7 743.5,663.4 744.3,656.7 745.0,650.1 745.7,644.4 746.5,638.5 747.2,631.9 748.0,624.7 748.7,616.2 749.4,604.8 750.2,593.7 750.9,582.2 751.7,570.8 752.4,560.4 753.1,551.8 753.9,545.6 754.6,541.0 755.4,536.4 756.1,532.5 756.8,532.9 757.6,535.9 758.3,539.6 759.1,544.1 759.8,549.6 760.5,557.0 761.3,564.4 762.0,570.6 762.8,576.4 763.5,583.2 764.2,591.3 765.0,600.1 765.7,608.5 766.5,615.9 767.2,621.4 767.9,626.0 768.7,630.1 769.4,634.1 770.2,638.0 770.9,641.6 771.6,645.1 772.4,648.3 773.1,651.3 773.9,654.3 774.6,657.1 775.3,659.8 776.1,662.4 776.8,665.0 777.6,667.4 778.3,669.8 779.0,672.1 779.8,674.2 780.5,676.2 781.3,678.2 782.0,680.2 782.7,682.2 783.5,684.2 784.2,686.3 785.0,688.5 785.7,690.7 786.4,693.0 787.2,695.2 787.9,697.7 788.7,700.3 789.4,702.9 790.1,705.3 790.9,707.2 791.6,708.7 792.4,710.2 793.1,711.5 793.8,712.8 794.6,713.9 795.3,715.0 796.1,716.1 796.8,717.0 797.5,718.0 798.3,718.9 799.0,719.8 799.8,720.7 800.5,721.5 801.2,722.3 802.0,723.1 802.7,723.9 803.5,724.6 804.2,725.2 804.9,725.8 805.7,726.4 806.4,726.8 807.2,727.3 807.9,727.7 808.6,728.1 809.4,728.4 810.1,728.8 810.9,729.1 811.6,729.4 812.3,729.7 813.1,730.1 813.8,730.5 814.6,730.8 815.3,731.2 816.0,731.5 816.8,731.8 817.5,732.2 818.3,732.6 819.0,733.0 819.7,733.5 820.5,734.0 821.2,734.7 822.0,735.3 822.7,736.0 823.4,736.6 824.2,737.2 824.9,737.7 825.6,738.2 826.4,738.7 827.1,739.1 827.9,739.3 828.6,739.4 829.3,739.0 830.1,738.2 830.8,737.2 831.6,736.1 832.3,734.9 833.0,733.9 833.8,732.7 834.5,731.3 835.3,730.0 836.0,728.8 836.7,728.0 837.5,727.3 838.2,726.8 839.0,726.4 839.7,726.2 840.4,726.3 841.2,726.5 841.9,726.8 842.7,727.2 843.4,727.6 844.1,727.9 844.9,728.3 845.6,728.8 846.4,729.2 847.1,729.7 847.8,730.2 848.6,730.7 849.3,731.2 850.1,731.6 850.8,732.1 851.5,732.5 852.3,732.9 853.0,733.2 853.8,733.6 854.5,734.0 855.2,734.4 856.0,734.7 856.7,735.1 857.5,735.4 858.2,735.7 858.9,736.0 859.7,736.4 860.4,736.7 861.2,737.0 861.9,737.3 862.6,737.6 863.4,737.9 864.1,738.1 864.9,738.4 865.6,738.7 866.3,738.9 867.1,739.2 867.8,739.4 868.6,739.6 869.3,739.8 870.0,740.1 870.8,740.3 871.5,740.5 872.3,740.7 873.0,740.9 873.7,741.1 874.5,741.3 875.2,741.5 876.0,741.6 876.7,741.8 877.4,742.0 878.2,742.2 878.9,742.3 879.7,742.5 880.4,742.7 881.1,742.8 881.9,743.0 882.6,743.2 883.4,743.4 884.1,743.5 884.8,743.7 885.6,743.9 886.3,744.0 887.1,744.2 887.8,744.3 888.5,744.4 889.3,744.6 890.0,744.7 890.8,744.8 891.5,744.9 892.2,745.0 893.0,745.1 893.7,745.2 894.5,745.3 895.2,745.4 895.9,745.5 896.7,745.6 897.4,745.7 898.2,745.8 898.9,745.9 899.6,746.0 900.4,746.1 901.1,746.2 901.9,746.3 902.6,746.4 903.3,746.5 904.1,746.6 904.8,746.7 905.6,746.8 906.3,746.8 907.0,746.9 907.8,747.0 908.5,747.1 909.3,747.1 910.0,747.2 910.7,747.3 911.5,747.3 912.2,747.4 913.0,747.4 913.7,747.5 914.4,747.5 915.2,747.5 915.9,747.6 916.7,747.6 917.4,747.6 918.1,747.7 918.9,747.7 919.6,747.7 920.4,747.8 921.1,747.8 921.8,747.9 922.6,747.9 923.3,747.9 924.1,748.0 924.8,748.0 925.5,748.1 926.3,748.1 927.0,748.2 927.8,748.2 928.5,748.3 929.2,748.3 930.0,748.4 930.7,748.5 931.5,748.5 932.2,748.6 932.9,748.6 933.7,748.7 934.4,748.8 935.2,748.8 935.9,748.9 936.6,749.0 937.4,749.0 938.1,749.1 938.9,749.1 939.6,749.2 940.3,749.3 941.1,749.3 941.8,749.4 942.6,749.4 943.3,749.5 944.0,749.5 944.8,749.6 945.5,749.6 946.3,749.7 947.0,749.7 947.7,749.8 948.5,749.8 949.2,749.9 949.9,749.9 950.7,750.0 951.4,750.0 952.2,750.1 952.9,750.1 953.6,750.2 954.4,750.2 955.1,750.3 955.9,750.3 956.6,750.4 957.3,750.4 958.1,750.5 958.8,750.5 959.6,750.6 960.3,750.6 961.0,750.7 961.8,750.7 962.5,750.8 963.3,750.8 964.0,750.8 964.7,750.9 965.5,750.9 966.2,751.0 967.0,751.0 967.7,751.1 968.4,751.1 969.2,751.1 969.9,751.2 970.7,751.2 971.4,751.3 972.1,751.3 972.9,751.3 973.6,751.4 974.4,751.4 975.1,751.5 975.8,751.5 976.6,751.5 977.3,751.6 978.1,751.6 978.8,751.6 979.5,751.7 980.3,751.7 981.0,751.8 981.8,751.8 982.5,751.8 983.2,751.9 984.0,751.9 984.7,751.9 985.5,752.0 986.2,752.0 986.9,752.0 987.7,752.1 988.4,752.1 989.2,752.2 989.9,752.2 990.6,752.2 991.4,752.3 992.1,752.3 992.9,752.3 993.6,752.4 994.3,752.4 995.1,752.5 995.8,752.5 996.6,752.5 997.3,752.6 998.0,752.6 998.8,752.6 999.5,752.7 1000.3,752.7 1001.0,752.7 1001.7,752.8 1002.5,752.8 1003.2,752.8 1004.0,752.9 1004.7,752.9 1005.4,752.9 1006.2,753.0 1006.9,753.0 1007.7,753.0 1008.4,753.1" fill="none" stroke="#d62c38" stroke-width="1.4" stroke-linejoin="round" clip-path="url(#clipd)"/>
<polyline points="639.2,748.5 639.9,748.4 640.7,748.3 641.4,748.1 642.2,748.0 642.9,747.9 643.6,747.8 644.4,747.6 645.1,747.5 645.9,747.4 646.6,747.2 647.3,747.1 648.1,746.9 648.8,746.8 649.6,746.6 650.3,746.4 651.0,746.3 651.8,746.1 652.5,745.9 653.3,745.8 654.0,745.6 654.7,745.4 655.5,745.2 656.2,745.0 657.0,744.8 657.7,744.6 658.4,744.5 659.2,744.3 659.9,744.1 660.7,743.9 661.4,743.7 662.1,743.5 662.9,743.2 663.6,743.0 664.4,742.8 665.1,742.6 665.8,742.4 666.6,742.2 667.3,742.0 668.1,741.7 668.8,741.5 669.5,741.3 670.3,741.1 671.0,740.9 671.8,740.6 672.5,740.4 673.2,740.2 674.0,739.9 674.7,739.7 675.5,739.4 676.2,739.2 676.9,738.9 677.7,738.6 678.4,738.3 679.2,738.0 679.9,737.7 680.6,737.4 681.4,737.1 682.1,736.8 682.9,736.4 683.6,736.1 684.3,735.7 685.1,735.3 685.8,734.9 686.6,734.5 687.3,734.1 688.0,733.6 688.8,733.2 689.5,732.7 690.3,732.2 691.0,731.6 691.7,731.1 692.5,730.5 693.2,729.9 694.0,729.2 694.7,728.5 695.4,727.8 696.2,727.0 696.9,726.2 697.7,725.3 698.4,724.3 699.1,723.2 699.9,721.9 700.6,720.6 701.3,719.2 702.1,717.7 702.8,716.1 703.6,714.4 704.3,712.7 705.0,710.8 705.8,708.6 706.5,706.2 707.3,703.6 708.0,700.8 708.7,697.9 709.5,694.5 710.2,690.5 711.0,686.5 711.7,683.0 712.4,679.9 713.2,676.7 713.9,674.1 714.7,672.7 715.4,672.9 716.1,674.1 716.9,675.8 717.6,677.8 718.4,680.9 719.1,684.2 719.8,687.2 720.6,690.3 721.3,693.4 722.1,696.3 722.8,698.8 723.5,701.3 724.3,703.5 725.0,705.6 725.8,707.4 726.5,709.1 727.2,710.7 728.0,712.0 728.7,713.1 729.5,713.9 730.2,714.6 730.9,715.3 731.7,716.0 732.4,716.7 733.2,717.4 733.9,718.0 734.6,718.8 735.4,719.6 736.1,720.5 736.9,721.7 737.6,723.0 738.3,724.6 739.1,726.2 739.8,727.9 740.6,729.4 741.3,730.9 742.0,732.5 742.8,734.0 743.5,735.5 744.3,737.0 745.0,738.3 745.7,739.6 746.5,740.9 747.2,742.1 748.0,743.3 748.7,744.5 749.4,745.6 750.2,746.5 750.9,747.4 751.7,748.2 752.4,748.9 753.1,749.7 753.9,750.4 754.6,751.1 755.4,751.6 756.1,752.0 756.8,752.2 757.6,752.3 758.3,752.2 759.1,751.9 759.8,751.6 760.5,751.2 761.3,750.7 762.0,750.1 762.8,749.5 763.5,748.9 764.2,748.3 765.0,747.7 765.7,747.0 766.5,746.3 767.2,745.5 767.9,744.7 768.7,743.8 769.4,742.9 770.2,741.9 770.9,740.9 771.6,739.8 772.4,738.8 773.1,737.7 773.9,736.6 774.6,735.4 775.3,734.1 776.1,732.8 776.8,731.5 777.6,730.1 778.3,728.6 779.0,727.1 779.8,725.6 780.5,724.0 781.3,722.4 782.0,720.7 782.7,719.0 783.5,717.2 784.2,715.2 785.0,713.2 785.7,711.1 786.4,708.9 787.2,706.6 787.9,704.0 788.7,701.3 789.4,698.5 790.1,695.5 790.9,692.3 791.6,688.8 792.4,684.9 793.1,680.9 793.8,676.8 794.6,673.0 795.3,668.9 796.1,664.8 796.8,661.1 797.5,658.2 798.3,655.7 799.0,653.8 799.8,653.4 800.5,654.3 801.2,655.9 802.0,657.9 802.7,660.7 803.5,664.9 804.2,669.4 804.9,673.8 805.7,678.4 806.4,682.8 807.2,686.9 807.9,690.9 808.6,693.9 809.4,695.5 810.1,696.7 810.9,697.6 811.6,698.2 812.3,698.6 813.1,698.9 813.8,699.1 814.6,699.3 815.3,699.5 816.0,699.8 816.8,700.1 817.5,700.4 818.3,700.8 819.0,701.2 819.7,701.8 820.5,702.4 821.2,703.4 822.0,704.7 822.7,706.1 823.4,707.4 824.2,708.4 824.9,709.3 825.6,710.1 826.4,710.8 827.1,711.2 827.9,711.3 828.6,710.5 829.3,709.1 830.1,707.3 830.8,705.3 831.6,703.2 832.3,700.3 833.0,697.0 833.8,693.7 834.5,691.3 835.3,689.2 836.0,687.3 836.7,685.6 837.5,684.4 838.2,684.0 839.0,684.4 839.7,685.4 840.4,686.7 841.2,688.3 841.9,689.9 842.7,691.6 843.4,693.7 844.1,696.0 844.9,698.3 845.6,700.3 846.4,702.0 847.1,703.6 847.8,705.1 848.6,706.6 849.3,708.0 850.1,709.3 850.8,710.6 851.5,711.8 852.3,713.0 853.0,714.1 853.8,715.3 854.5,716.3 855.2,717.4 856.0,718.3 856.7,719.3 857.5,720.2 858.2,721.2 858.9,722.0 859.7,722.9 860.4,723.7 861.2,724.5 861.9,725.2 862.6,725.9 863.4,726.5 864.1,727.1 864.9,727.7 865.6,728.2 866.3,728.7 867.1,729.3 867.8,729.7 868.6,730.2 869.3,730.6 870.0,731.0 870.8,731.4 871.5,731.8 872.3,732.2 873.0,732.5 873.7,732.8 874.5,733.1 875.2,733.5 876.0,733.8 876.7,734.1 877.4,734.3 878.2,734.6 878.9,734.9 879.7,735.2 880.4,735.5 881.1,735.8 881.9,736.1 882.6,736.3 883.4,736.6 884.1,736.9 884.8,737.2 885.6,737.4 886.3,737.7 887.1,737.9 887.8,738.2 888.5,738.4 889.3,738.6 890.0,738.9 890.8,739.1 891.5,739.3 892.2,739.5 893.0,739.7 893.7,739.9 894.5,740.1 895.2,740.3 895.9,740.5 896.7,740.6 897.4,740.8 898.2,741.0 898.9,741.1 899.6,741.3 900.4,741.4 901.1,741.5 901.9,741.7 902.6,741.8 903.3,742.0 904.1,742.1 904.8,742.2 905.6,742.3 906.3,742.5 907.0,742.6 907.8,742.7 908.5,742.8 909.3,743.0 910.0,743.1 910.7,743.1 911.5,743.2 912.2,743.3 913.0,743.4 913.7,743.5 914.4,743.5 915.2,743.6 915.9,743.7 916.7,743.7 917.4,743.8 918.1,743.8 918.9,743.9 919.6,743.9 920.4,744.0 921.1,744.0 921.8,744.1 922.6,744.2 923.3,744.2 924.1,744.3 924.8,744.4 925.5,744.4 926.3,744.5 927.0,744.6 927.8,744.7 928.5,744.8 929.2,744.9 930.0,744.9 930.7,745.0 931.5,745.1 932.2,745.2 932.9,745.3 933.7,745.4 934.4,745.5 935.2,745.6 935.9,745.7 936.6,745.8 937.4,745.9 938.1,746.0 938.9,746.1 939.6,746.1 940.3,746.2 941.1,746.3 941.8,746.4 942.6,746.5 943.3,746.5 944.0,746.6 944.8,746.7 945.5,746.8 946.3,746.8 947.0,746.9 947.7,747.0 948.5,747.1 949.2,747.1 949.9,747.2 950.7,747.3 951.4,747.4 952.2,747.4 952.9,747.5 953.6,747.6 954.4,747.6 955.1,747.7 955.9,747.8 956.6,747.8 957.3,747.9 958.1,748.0 958.8,748.0 959.6,748.1 960.3,748.1 961.0,748.2 961.8,748.3 962.5,748.3 963.3,748.4 964.0,748.4 964.7,748.5 965.5,748.6 966.2,748.6 967.0,748.7 967.7,748.7 968.4,748.8 969.2,748.8 969.9,748.9 970.7,749.0 971.4,749.0 972.1,749.1 972.9,749.1 973.6,749.2 974.4,749.2 975.1,749.3 975.8,749.3 976.6,749.4 977.3,749.4 978.1,749.5 978.8,749.6 979.5,749.6 980.3,749.7 981.0,749.7 981.8,749.8 982.5,749.8 983.2,749.9 984.0,749.9 984.7,749.9 985.5,750.0 986.2,750.0 986.9,750.1 987.7,750.1 988.4,750.2 989.2,750.2 989.9,750.2 990.6,750.3 991.4,750.3 992.1,750.3 992.9,750.4 993.6,750.4 994.3,750.4 995.1,750.5 995.8,750.5 996.6,750.5 997.3,750.6 998.0,750.6 998.8,750.6 999.5,750.7 1000.3,750.7 1001.0,750.8 1001.7,750.8 1002.5,750.9 1003.2,750.9 1004.0,751.0 1004.7,751.0 1005.4,751.1 1006.2,751.1 1006.9,751.2 1007.7,751.2 1008.4,751.3" fill="none" stroke="#2828b0" stroke-width="1.4" stroke-linejoin="round" clip-path="url(#clipd)"/>
<polyline points="639.2,748.5 639.9,748.4 640.7,748.3 641.4,748.2 642.2,748.1 642.9,748.0 643.6,747.8 644.4,747.7 645.1,747.6 645.9,747.4 646.6,747.3 647.3,747.1 648.1,747.0 648.8,746.8 649.6,746.7 650.3,746.5 651.0,746.3 651.8,746.1 652.5,745.9 653.3,745.8 654.0,745.6 654.7,745.4 655.5,745.2 656.2,745.0 657.0,744.8 657.7,744.6 658.4,744.3 659.2,744.1 659.9,743.9 660.7,743.7 661.4,743.5 662.1,743.2 662.9,743.0 663.6,742.8 664.4,742.5 665.1,742.3 665.8,742.1 666.6,741.8 667.3,741.6 668.1,741.3 668.8,741.1 669.5,740.8 670.3,740.6 671.0,740.3 671.8,740.1 672.5,739.8 673.2,739.5 674.0,739.2 674.7,738.9 675.5,738.6 676.2,738.3 676.9,738.0 677.7,737.7 678.4,737.3 679.2,737.0 679.9,736.6 680.6,736.2 681.4,735.9 682.1,735.5 682.9,735.1 683.6,734.6 684.3,734.2 685.1,733.7 685.8,733.3 686.6,732.8 687.3,732.3 688.0,731.7 688.8,731.2 689.5,730.6 690.3,730.0 691.0,729.3 691.7,728.7 692.5,728.0 693.2,727.3 694.0,726.5 694.7,725.7 695.4,724.9 696.2,724.0 696.9,723.2 697.7,722.2 698.4,721.1 699.1,720.0 699.9,718.8 700.6,717.5 701.3,716.1 702.1,714.6 702.8,713.0 703.6,711.4 704.3,709.7 705.0,707.8 705.8,705.6 706.5,703.2 707.3,700.7 708.0,697.9 708.7,694.9 709.5,691.4 710.2,687.2 711.0,682.8 711.7,678.6 712.4,674.6 713.2,670.4 713.9,666.5 714.7,663.4 715.4,661.2 716.1,659.4 716.9,658.3 717.6,658.4 718.4,659.3 719.1,660.6 719.8,662.5 720.6,665.9 721.3,670.2 722.1,674.5 722.8,678.0 723.5,681.2 724.3,684.4 725.0,687.4 725.8,690.0 726.5,692.3 727.2,694.5 728.0,696.5 728.7,698.3 729.5,699.8 730.2,700.9 730.9,702.0 731.7,702.9 732.4,703.5 733.2,703.7 733.9,703.2 734.6,702.2 735.4,700.8 736.1,699.4 736.9,698.4 737.6,697.4 738.3,696.9 739.1,697.6 739.8,699.3 740.6,701.6 741.3,704.1 742.0,706.5 742.8,708.7 743.5,711.0 744.3,713.4 745.0,715.8 745.7,718.0 746.5,719.9 747.2,721.6 748.0,723.1 748.7,724.5 749.4,725.9 750.2,727.1 750.9,728.3 751.7,729.4 752.4,730.5 753.1,731.6 753.9,732.6 754.6,733.6 755.4,734.6 756.1,735.5 756.8,736.4 757.6,737.2 758.3,738.1 759.1,738.9 759.8,739.6 760.5,740.3 761.3,741.0 762.0,741.7 762.8,742.3 763.5,742.9 764.2,743.5 765.0,744.1 765.7,744.6 766.5,745.2 767.2,745.7 767.9,746.2 768.7,746.7 769.4,747.2 770.2,747.7 770.9,748.1 771.6,748.6 772.4,749.0 773.1,749.4 773.9,749.9 774.6,750.3 775.3,750.7 776.1,751.1 776.8,751.5 777.6,751.9 778.3,752.3 779.0,752.7 779.8,753.1 780.5,753.4 781.3,753.8 782.0,754.1 782.7,754.4 783.5,754.7 784.2,755.0 785.0,755.2 785.7,755.5 786.4,755.7 787.2,755.9 787.9,756.2 788.7,756.4 789.4,756.5 790.1,756.7 790.9,756.9 791.6,757.0 792.4,757.2 793.1,757.4 793.8,757.5 794.6,757.7 795.3,757.8 796.1,757.9 796.8,758.0 797.5,758.0 798.3,758.1 799.0,758.1 799.8,758.1 800.5,758.1 801.2,758.1 802.0,758.1 802.7,758.1 803.5,758.0 804.2,758.0 804.9,757.8 805.7,757.7 806.4,757.5 807.2,757.3 807.9,757.1 808.6,756.9 809.4,756.7 810.1,756.5 810.9,756.3 811.6,756.0 812.3,755.8 813.1,755.5 813.8,755.3 814.6,755.1 815.3,755.0 816.0,754.8 816.8,754.7 817.5,754.6 818.3,754.5 819.0,754.4 819.7,754.3 820.5,754.2 821.2,754.1 822.0,754.0 822.7,753.9 823.4,753.9 824.2,753.8 824.9,753.7 825.6,753.7 826.4,753.6 827.1,753.6 827.9,753.5 828.6,753.4 829.3,753.4 830.1,753.3 830.8,753.2 831.6,753.1 832.3,753.0 833.0,752.9 833.8,752.7 834.5,752.5 835.3,752.3 836.0,752.3 836.7,752.4 837.5,752.6 838.2,752.9 839.0,753.2 839.7,753.5 840.4,753.8 841.2,754.3 841.9,754.7 842.7,755.2 843.4,755.5 844.1,755.6 844.9,755.6 845.6,755.6 846.4,755.5 847.1,755.3 847.8,755.2 848.6,755.0 849.3,754.8 850.1,754.6 850.8,754.5 851.5,754.2 852.3,754.0 853.0,753.7 853.8,753.5 854.5,753.2 855.2,752.8 856.0,752.5 856.7,752.1 857.5,751.8 858.2,751.4 858.9,751.0 859.7,750.5 860.4,750.1 861.2,749.6 861.9,749.1 862.6,748.5 863.4,747.9 864.1,747.4 864.9,746.8 865.6,746.2 866.3,745.5 867.1,744.9 867.8,744.2 868.6,743.5 869.3,742.7 870.0,741.9 870.8,741.1 871.5,740.2 872.3,739.3 873.0,738.3 873.7,737.3 874.5,736.2 875.2,735.1 876.0,733.9 876.7,732.7 877.4,731.4 878.2,730.1 878.9,728.6 879.7,727.0 880.4,725.4 881.1,723.8 881.9,722.5 882.6,721.3 883.4,720.1 884.1,719.0 884.8,718.0 885.6,717.5 886.3,717.4 887.1,717.6 887.8,717.9 888.5,718.3 889.3,718.7 890.0,719.0 890.8,719.4 891.5,719.8 892.2,720.0 893.0,720.1 893.7,719.6 894.5,718.6 895.2,717.2 895.9,715.7 896.7,713.6 897.4,710.8 898.2,707.8 898.9,705.3 899.6,703.1 900.4,701.1 901.1,699.2 901.9,697.5 902.6,696.3 903.3,695.3 904.1,694.5 904.8,694.0 905.6,693.9 906.3,694.3 907.0,695.0 907.8,696.1 908.5,697.2 909.3,698.7 910.0,700.8 910.7,703.6 911.5,706.8 912.2,710.8 913.0,715.5 913.7,718.2 914.4,720.3 915.2,722.1 915.9,723.5 916.7,724.7 917.4,725.8 918.1,726.8 918.9,727.8 919.6,728.6 920.4,729.2 921.1,729.5 921.8,729.5 922.6,729.3 923.3,729.0 924.1,728.6 924.8,728.1 925.5,727.5 926.3,726.9 927.0,726.2 927.8,725.1 928.5,723.6 929.2,722.0 930.0,720.2 930.7,718.5 931.5,717.0 932.2,715.4 932.9,713.7 933.7,712.1 934.4,710.7 935.2,709.7 935.9,708.6 936.6,707.8 937.4,707.5 938.1,708.0 938.9,709.0 939.6,710.2 940.3,711.3 941.1,712.3 941.8,713.3 942.6,714.3 943.3,715.2 944.0,715.8 944.8,716.2 945.5,716.5 946.3,716.6 947.0,715.8 947.7,714.3 948.5,712.3 949.2,710.4 949.9,708.6 950.7,706.7 951.4,704.7 952.2,702.8 952.9,701.3 953.6,700.1 954.4,699.0 955.1,698.0 955.9,697.3 956.6,696.9 957.3,697.1 958.1,697.8 958.8,698.8 959.6,699.9 960.3,701.0 961.0,702.3 961.8,703.9 962.5,705.5 963.3,707.1 964.0,708.6 964.7,710.0 965.5,711.3 966.2,712.5 967.0,713.6 967.7,714.8 968.4,715.8 969.2,716.9 969.9,717.9 970.7,718.9 971.4,719.8 972.1,720.7 972.9,721.7 973.6,722.5 974.4,723.4 975.1,724.2 975.8,724.9 976.6,725.6 977.3,726.2 978.1,726.8 978.8,727.4 979.5,727.9 980.3,728.5 981.0,729.0 981.8,729.4 982.5,729.9 983.2,730.4 984.0,730.8 984.7,731.2 985.5,731.6 986.2,732.0 986.9,732.3 987.7,732.7 988.4,733.0 989.2,733.4 989.9,733.7 990.6,734.0 991.4,734.3 992.1,734.6 992.9,734.8 993.6,735.1 994.3,735.4 995.1,735.6 995.8,735.9 996.6,736.1 997.3,736.4 998.0,736.6 998.8,736.8 999.5,737.0 1000.3,737.2 1001.0,737.5 1001.7,737.7 1002.5,737.9 1003.2,738.1 1004.0,738.3 1004.7,738.5 1005.4,738.7 1006.2,738.9 1006.9,739.1 1007.7,739.3 1008.4,739.5" fill="none" stroke="#3cd246" stroke-width="1.4" stroke-linejoin="round" clip-path="url(#clipd)"/>
<polyline points="639.2,748.5 639.9,748.3 640.7,748.1 641.4,747.9 642.2,747.8 642.9,747.6 643.6,747.4 644.4,747.2 645.1,747.1 645.9,746.9 646.6,746.7 647.3,746.5 648.1,746.3 648.8,746.1 649.6,745.9 650.3,745.7 651.0,745.5 651.8,745.3 652.5,745.2 653.3,745.0 654.0,744.8 654.7,744.6 655.5,744.4 656.2,744.2 657.0,744.0 657.7,743.8 658.4,743.6 659.2,743.3 659.9,743.1 660.7,742.9 661.4,742.7 662.1,742.5 662.9,742.3 663.6,742.1 664.4,741.8 665.1,741.6 665.8,741.4 666.6,741.1 667.3,740.9 668.1,740.6 668.8,740.4 669.5,740.1 670.3,739.8 671.0,739.5 671.8,739.2 672.5,738.9 673.2,738.6 674.0,738.3 674.7,737.9 675.5,737.6 676.2,737.2 676.9,736.9 677.7,736.5 678.4,736.1 679.2,735.7 679.9,735.3 680.6,734.9 681.4,734.5 682.1,734.1 682.9,733.6 683.6,733.2 684.3,732.7 685.1,732.2 685.8,731.7 686.6,731.2 687.3,730.7 688.0,730.2 688.8,729.6 689.5,729.1 690.3,728.5 691.0,727.8 691.7,727.2 692.5,726.5 693.2,725.8 694.0,725.0 694.7,724.3 695.4,723.4 696.2,722.5 696.9,721.6 697.7,720.6 698.4,719.5 699.1,718.2 699.9,716.8 700.6,715.4 701.3,713.8 702.1,712.1 702.8,710.4 703.6,708.5 704.3,706.6 705.0,704.5 705.8,702.2 706.5,699.6 707.3,696.8 708.0,693.7 708.7,690.3 709.5,686.3 710.2,681.3 711.0,676.1 711.7,671.1 712.4,666.6 713.2,662.1 713.9,657.9 714.7,654.4 715.4,651.6 716.1,649.0 716.9,647.4 717.6,647.5 718.4,648.4 719.1,649.9 719.8,652.0 720.6,656.0 721.3,660.6 722.1,664.8 722.8,669.0 723.5,673.1 724.3,677.2 725.0,680.9 725.8,684.6 726.5,688.2 727.2,691.6 728.0,694.5 728.7,696.7 729.5,698.4 730.2,699.9 730.9,701.2 731.7,702.4 732.4,703.9 733.2,704.5 733.9,703.8 734.6,702.5 735.4,700.8 736.1,699.1 736.9,697.6 737.6,696.1 738.3,694.5 739.1,692.9 739.8,691.8 740.6,691.3 741.3,691.6 742.0,692.6 742.8,694.0 743.5,695.6 744.3,697.3 745.0,699.2 745.7,701.5 746.5,704.1 747.2,706.7 748.0,709.1 748.7,711.1 749.4,713.1 750.2,714.9 750.9,716.7 751.7,718.3 752.4,719.8 753.1,721.1 753.9,722.4 754.6,723.6 755.4,724.7 756.1,725.8 756.8,726.9 757.6,727.8 758.3,728.8 759.1,729.7 759.8,730.5 760.5,731.2 761.3,732.0 762.0,732.6 762.8,733.3 763.5,733.9 764.2,734.5 765.0,735.0 765.7,735.6 766.5,736.1 767.2,736.6 767.9,737.1 768.7,737.6 769.4,738.1 770.2,738.6 770.9,739.0 771.6,739.5 772.4,739.9 773.1,740.3 773.9,740.7 774.6,741.2 775.3,741.6 776.1,742.0 776.8,742.4 777.6,742.8 778.3,743.1 779.0,743.5 779.8,743.9 780.5,744.3 781.3,744.6 782.0,745.0 782.7,745.3 783.5,745.6 784.2,745.9 785.0,746.3 785.7,746.6 786.4,746.9 787.2,747.2 787.9,747.5 788.7,747.8 789.4,748.0 790.1,748.3 790.9,748.6 791.6,748.8 792.4,749.1 793.1,749.3 793.8,749.5 794.6,749.8 795.3,750.0 796.1,750.2 796.8,750.4 797.5,750.6 798.3,750.8 799.0,750.9 799.8,751.1 800.5,751.3 801.2,751.4 802.0,751.6 802.7,751.7 803.5,751.9 804.2,752.0 804.9,752.1 805.7,752.3 806.4,752.4 807.2,752.5 807.9,752.6 808.6,752.8 809.4,752.9 810.1,753.0 810.9,753.1 811.6,753.2 812.3,753.3 813.1,753.4 813.8,753.6 814.6,753.7 815.3,753.8 816.0,753.9 816.8,754.0 817.5,754.1 818.3,754.2 819.0,754.3 819.7,754.4 820.5,754.5 821.2,754.6 822.0,754.6 822.7,754.7 823.4,754.7 824.2,754.8 824.9,754.8 825.6,754.9 826.4,754.9 827.1,754.9 827.9,755.0 828.6,755.0 829.3,755.0 830.1,755.0 830.8,755.1 831.6,755.1 832.3,755.2 833.0,755.2 833.8,755.2 834.5,755.3 835.3,755.3 836.0,755.4 836.7,755.5 837.5,755.5 838.2,755.6 839.0,755.7 839.7,755.7 840.4,755.8 841.2,755.9 841.9,756.0 842.7,756.1 843.4,756.2 844.1,756.3 844.9,756.4 845.6,756.5 846.4,756.6 847.1,756.7 847.8,756.8 848.6,756.9 849.3,757.0 850.1,757.1 850.8,757.2 851.5,757.3 852.3,757.4 853.0,757.6 853.8,757.7 854.5,757.8 855.2,757.9 856.0,758.1 856.7,758.2 857.5,758.3 858.2,758.4 858.9,758.5 859.7,758.6 860.4,758.7 861.2,758.8 861.9,758.9 862.6,759.0 863.4,759.1 864.1,759.2 864.9,759.3 865.6,759.4 866.3,759.5 867.1,759.6 867.8,759.7 868.6,759.8 869.3,759.9 870.0,760.0 870.8,760.1 871.5,760.2 872.3,760.2 873.0,760.3 873.7,760.4 874.5,760.5 875.2,760.5 876.0,760.6 876.7,760.6 877.4,760.7 878.2,760.8 878.9,760.8 879.7,760.9 880.4,760.9 881.1,761.0 881.9,761.0 882.6,761.1 883.4,761.1 884.1,761.2 884.8,761.3 885.6,761.3 886.3,761.3 887.1,761.4 887.8,761.4 888.5,761.4 889.3,761.4 890.0,761.4 890.8,761.4 891.5,761.4 892.2,761.4 893.0,761.4 893.7,761.4 894.5,761.4 895.2,761.4 895.9,761.4 896.7,761.4 897.4,761.4 898.2,761.4 898.9,761.3 899.6,761.3 900.4,761.3 901.1,761.2 901.9,761.2 902.6,761.1 903.3,761.1 904.1,761.1 904.8,761.0 905.6,761.0 906.3,760.9 907.0,760.9 907.8,760.9 908.5,760.8 909.3,760.8 910.0,760.7 910.7,760.7 911.5,760.6 912.2,760.5 913.0,760.5 913.7,760.4 914.4,760.3 915.2,760.2 915.9,760.1 916.7,760.0 917.4,759.9 918.1,759.8 918.9,759.7 919.6,759.6 920.4,759.5 921.1,759.4 921.8,759.2 922.6,759.1 923.3,759.0 924.1,758.9 924.8,758.7 925.5,758.6 926.3,758.5 927.0,758.3 927.8,758.2 928.5,758.1 929.2,757.9 930.0,757.8 930.7,757.6 931.5,757.5 932.2,757.3 932.9,757.1 933.7,756.9 934.4,756.7 935.2,756.5 935.9,756.2 936.6,756.0 937.4,755.7 938.1,755.5 938.9,755.2 939.6,754.9 940.3,754.6 941.1,754.2 941.8,753.8 942.6,753.4 943.3,752.9 944.0,752.5 944.8,752.0 945.5,751.5 946.3,751.0 947.0,750.6 947.7,750.1 948.5,749.7 949.2,749.2 949.9,748.8 950.7,748.3 951.4,747.9 952.2,747.6 952.9,747.5 953.6,747.5 954.4,747.7 955.1,748.0 955.9,748.5 956.6,749.0 957.3,749.5 958.1,750.1 958.8,750.9 959.6,751.7 960.3,752.5 961.0,753.3 961.8,754.0 962.5,754.6 963.3,755.2 964.0,755.9 964.7,756.5 965.5,757.0 966.2,757.5 967.0,758.0 967.7,758.4 968.4,758.7 969.2,759.1 969.9,759.4 970.7,759.7 971.4,760.0 972.1,760.3 972.9,760.5 973.6,760.6 974.4,760.7 975.1,760.9 975.8,761.0 976.6,761.1 977.3,761.1 978.1,761.2 978.8,761.3 979.5,761.3 980.3,761.4 981.0,761.4 981.8,761.4 982.5,761.4 983.2,761.4 984.0,761.3 984.7,761.3 985.5,761.2 986.2,761.2 986.9,761.1 987.7,761.1 988.4,761.0 989.2,760.9 989.9,760.8 990.6,760.8 991.4,760.7 992.1,760.6 992.9,760.4 993.6,760.3 994.3,760.1 995.1,760.0 995.8,759.8 996.6,759.7 997.3,759.5 998.0,759.4 998.8,759.2 999.5,759.1 1000.3,759.0 1001.0,758.9 1001.7,758.8 1002.5,758.7 1003.2,758.6 1004.0,758.5 1004.7,758.4 1005.4,758.3 1006.2,758.2 1006.9,758.2 1007.7,758.1 1008.4,758.0" fill="none" stroke="#111111" stroke-width="1.4" stroke-linejoin="round" clip-path="url(#clipd)"/>
<line x1="649.0" y1="480.8" x2="690.4" y2="480.8" stroke="#d62c38" stroke-width="1.4"/>
<text x="695.4" y="486.7" font-size="17.9">corner</text>
<line x1="649.0" y1="503.4" x2="690.4" y2="503.4" stroke="#2828b0" stroke-width="1.4"/>
<text x="695.4" y="509.3" font-size="17.9">hinge</text>
<line x1="649.0" y1="526.0" x2="690.4" y2="526.0" stroke="#3cd246" stroke-width="1.4"/>
<text x="695.4" y="531.9" font-size="17.9">surface</text>
<line x1="649.0" y1="548.6" x2="690.4" y2="548.6" stroke="#111111" stroke-width="1.4"/>
<text x="695.4" y="554.5" font-size="17.9">bulk</text>
<rect x="639.20" y="464.50" width="369.20" height="297.60" fill="none" stroke="#2a2a2a" stroke-width="1.3"/>
<path d="M639.20 762.10v-6M639.20 464.50v6M731.50 762.10v-6M731.50 464.50v6M823.80 762.10v-6M823.80 464.50v6M916.10 762.10v-6M916.10 464.50v6M1008.40 762.10v-6M1008.40 464.50v6M685.35 762.10v-3.5M685.35 464.50v3.5M777.65 762.10v-3.5M777.65 464.50v3.5M869.95 762.10v-3.5M869.95 464.50v3.5M962.25 762.10v-3.5M962.25 464.50v3.5M639.20 762.10h6M1008.40 762.10h-6M639.20 687.70h6M1008.40 687.70h-6M639.20 613.30h6M1008.40 613.30h-6M639.20 538.90h6M1008.40 538.90h-6M639.20 464.50h6M1008.40 464.50h-6M639.20 724.90h3.5M1008.40 724.90h-3.5M639.20 650.50h3.5M1008.40 650.50h-3.5M639.20 576.10h3.5M1008.40 576.10h-3.5M639.20 501.70h3.5M1008.40 501.70h-3.5" stroke="#2a2a2a" stroke-width="1.3" fill="none"/>
<text x="639.20" y="782.10" text-anchor="middle" font-size="18">50</text>
<text x="731.50" y="782.10" text-anchor="middle" font-size="18">75</text>
<text x="823.80" y="782.10" text-anchor="middle" font-size="18">100</text>
<text x="916.10" y="782.10" text-anchor="middle" font-size="18">125</text>
<text x="1008.40" y="782.10" text-anchor="middle" font-size="18">150</text>
<text x="632.20" y="767.90" text-anchor="end" font-size="18">0</text>
<text x="632.20" y="693.50" text-anchor="end" font-size="18">30</text>
<text x="632.20" y="619.10" text-anchor="end" font-size="18">60</text>
<text x="632.20" y="544.70" text-anchor="end" font-size="18">90</text>
<text x="632.20" y="470.30" text-anchor="end" font-size="18">120</text>
<text x="823.8" y="816.5" text-anchor="middle" font-size="22.6">f (kHz)</text>
<text transform="translate(597.5,613.3) rotate(-90)" text-anchor="middle" font-size="22.6">Z (Ω)</text>

<text x="2" y="25.6" font-size="32">(a)</text>
<text x="545" y="25.8" font-size="32">(b)</text>
<text x="2" y="438.6" font-size="32">(c)</text>
<text x="545" y="438.8" font-size="32">(d)</text>

</svg>
</body></html>
